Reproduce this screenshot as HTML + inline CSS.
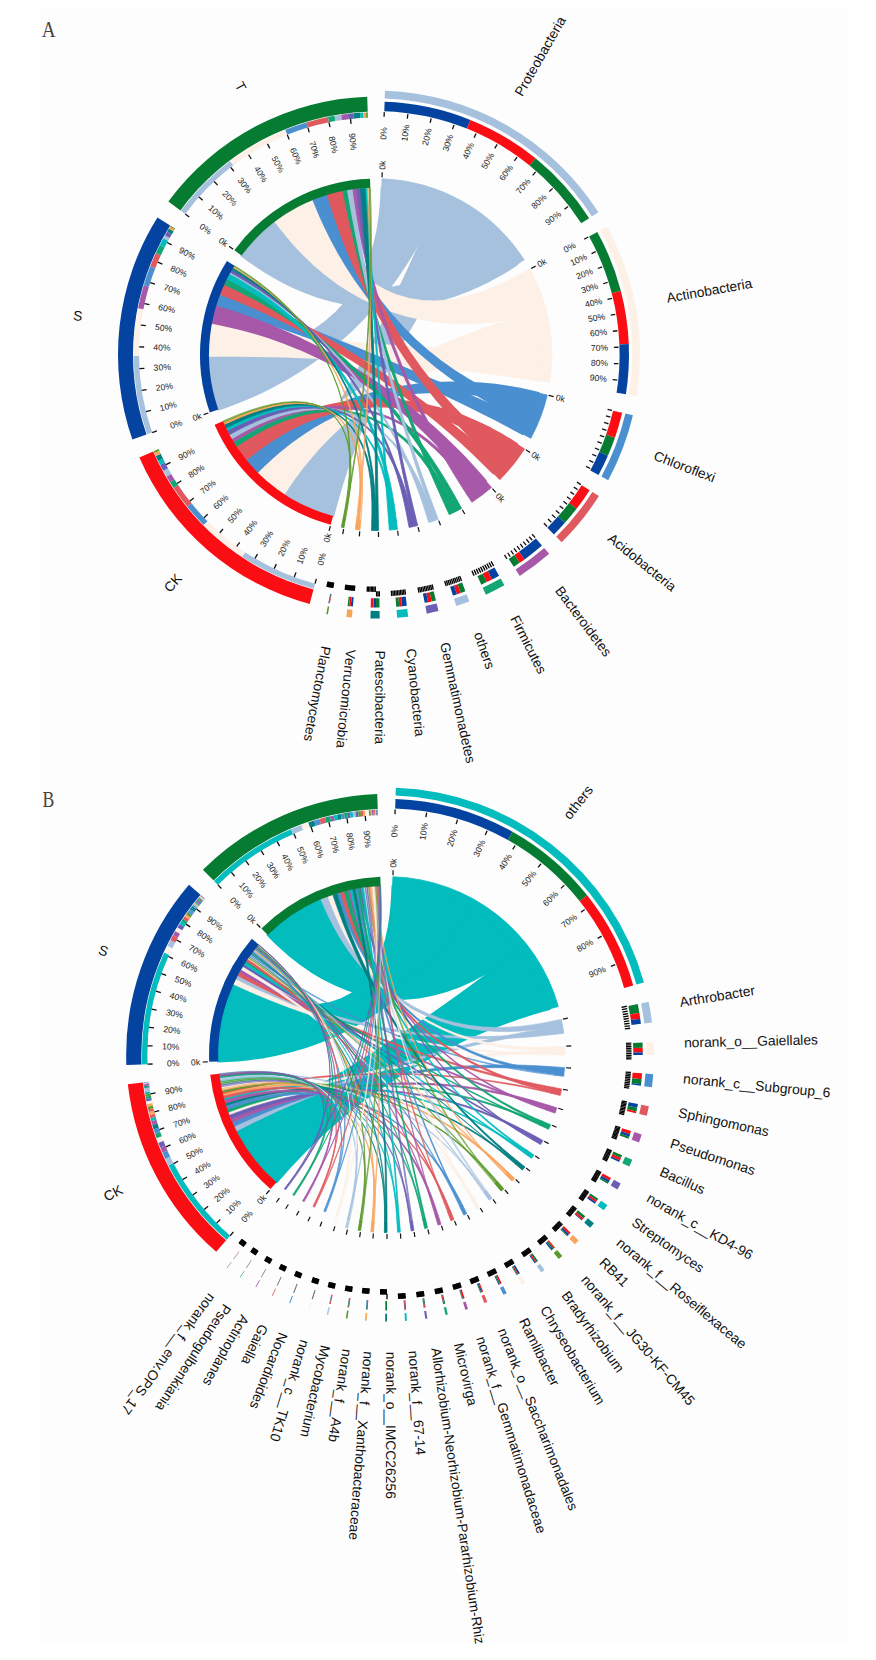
<!DOCTYPE html>
<html lang="en"><head><meta charset="utf-8"><title>Circos</title>
<style>html,body{margin:0;padding:0;background:#fff}svg{display:block}</style></head>
<body>
<svg width="876" height="1660" viewBox="0 0 876 1660" font-family='"Liberation Sans", sans-serif'>
<rect x="41" y="8" width="807" height="1635" fill="#fdfdfd"/>
<path d="M381.68 187.7 A167 167 0 0 1 438.32 199.66 L435.09 207.61 431 217.15 426 227.96 420.05 239.75 413.11 252.26 405.2 265.23 396.32 278.42 386.51 291.64 375.82 304.68 364.34 317.38 352.15 329.6 339.38 341.19 326.14 352.06 312.61 362.11 298.95 371.29 285.34 379.54 272.02 386.83 259.2 393.16 247.13 398.55 236.1 403.04 226.38 406.67 218.29 409.52 A167 167 0 0 1 209 355.64 L217.55 355.54 227.73 355.17 239.13 354.29 251.36 352.73 264.09 350.31 277 346.9 289.82 342.43 302.29 336.82 314.2 330.06 325.38 322.15 335.67 313.13 344.97 303.09 353.19 292.14 360.28 280.42 366.23 268.11 371.06 255.43 374.82 242.62 377.6 229.96 379.5 217.77 380.69 206.41 381.35 196.24 381.68 187.7Z" fill="#a6c1dd" stroke="#a6c1dd" stroke-width="2.2" stroke-linejoin="round"/>
<path d="M438.32 199.66 A167 167 0 0 1 481.33 225 L475.92 231.68 469.43 239.87 462.05 249.47 453.99 260.36 445.4 272.45 436.48 285.59 427.36 299.67 418.19 314.55 409.1 330.09 400.2 346.14 391.6 362.55 383.38 379.15 375.62 395.78 368.4 412.27 361.75 428.44 355.72 444.09 350.33 459.04 345.6 473.08 341.52 486.01 338.09 497.62 335.29 507.69 333.06 515.98 A167 167 0 0 1 283.74 493.8 L288.48 486.63 294.21 477.87 300.79 467.65 308.08 456.11 315.95 443.39 324.26 429.64 332.89 415 341.74 399.63 350.7 383.68 359.65 367.3 368.52 350.67 377.19 333.93 385.6 317.27 393.66 300.85 401.3 284.84 408.46 269.42 415.07 254.78 421.08 241.09 426.46 228.54 431.14 217.32 435.11 207.63 438.32 199.66Z" fill="#a6c1dd" stroke="#a6c1dd" stroke-width="2.2" stroke-linejoin="round"/>
<path d="M481.33 225 A167 167 0 0 1 516.69 264.63 L509.45 269.2 500.64 274.5 490.41 280.15 478.95 285.83 466.4 291.25 452.95 296.18 438.74 300.39 423.93 303.72 408.7 306.04 393.19 307.26 377.57 307.33 361.98 306.23 346.59 303.98 331.54 300.66 316.99 296.35 303.09 291.2 289.99 285.4 277.84 279.16 266.77 272.73 256.95 266.42 248.5 260.55 241.58 255.5 A167 167 0 0 1 275.5 221.22 L280.67 228.02 286.99 235.9 294.34 244.36 302.61 252.93 311.7 261.22 321.5 268.86 331.89 275.56 342.78 281.07 354.03 285.21 365.55 287.83 377.21 288.86 388.9 288.26 400.5 286.06 411.9 282.34 422.98 277.23 433.61 270.91 443.68 263.64 453.07 255.69 461.66 247.43 469.31 239.25 475.91 231.6 481.33 225Z" fill="#a6c1dd" stroke="#a6c1dd" stroke-width="2.2" stroke-linejoin="round"/>
<path d="M522.06 273.64 A167 167 0 0 1 537.64 312.62 L529.33 314.73 519.31 317.04 507.82 319.26 495.13 321.13 481.48 322.44 467.09 323 452.18 322.67 436.97 321.34 421.63 318.93 406.34 315.4 391.28 310.76 376.6 305.03 362.44 298.29 348.93 290.64 336.18 282.23 324.3 273.22 313.38 263.83 303.5 254.32 294.72 244.96 287.11 236.08 280.69 228.04 275.5 221.22 A167 167 0 0 1 313.5 199.74 L316.74 207.64 320.82 216.92 325.77 227.08 331.64 237.65 338.42 248.25 346.12 258.5 354.71 268.11 364.14 276.82 374.37 284.41 385.32 290.72 396.89 295.64 408.98 299.11 421.46 301.09 434.18 301.64 447 300.82 459.72 298.76 472.16 295.64 484.1 291.68 495.31 287.15 505.56 282.38 514.57 277.74 522.06 273.64Z" fill="#fdf0e6" stroke="#fdf0e6" stroke-width="2.2" stroke-linejoin="round"/>
<path d="M537.64 312.62 A167 167 0 0 1 542.85 347.61 L534.29 348 523.96 348.69 512.15 349.83 499.16 351.58 485.22 354.07 470.6 357.37 455.52 361.57 440.19 366.7 424.81 372.77 409.58 379.77 394.65 387.65 380.18 396.35 366.31 405.78 353.17 415.8 340.85 426.27 329.46 437.01 319.07 447.81 309.74 458.46 301.52 468.68 294.44 478.19 288.51 486.67 283.74 493.8 A167 167 0 0 1 257.2 471.97 L263.33 465.95 270.86 458.73 279.72 450.54 289.83 441.6 301.1 432.12 313.42 422.29 326.69 412.28 340.79 402.26 355.58 392.36 370.93 382.72 386.71 373.45 402.75 364.64 418.89 356.38 434.97 348.74 450.79 341.76 466.18 335.49 480.93 329.93 494.84 325.1 507.69 320.99 519.27 317.57 529.33 314.8 537.64 312.62Z" fill="#fdf0e6" stroke="#fdf0e6" stroke-width="2.2" stroke-linejoin="round"/>
<path d="M542.85 347.61 A167 167 0 0 1 540.94 380.72 L532.45 379.39 522.1 377.8 510.07 376.03 496.55 374.13 481.71 372.16 465.74 370.18 448.84 368.23 431.17 366.34 412.93 364.56 394.31 362.9 375.49 361.39 356.65 360.05 337.99 358.89 319.69 357.92 301.94 357.13 284.93 356.52 268.85 356.08 253.89 355.79 240.23 355.63 228.07 355.57 217.6 355.59 209 355.64 A167 167 0 0 1 212.07 322.72 L220.51 324.35 230.8 326.28 242.76 328.42 256.21 330.68 270.97 333 286.85 335.3 303.68 337.53 321.27 339.65 339.43 341.6 357.98 343.35 376.73 344.88 395.5 346.17 414.11 347.21 432.36 348 450.06 348.55 467.03 348.86 483.08 348.95 498.02 348.87 511.66 348.65 523.81 348.32 534.27 347.96 542.85 347.61Z" fill="#fdf0e6" stroke="#fdf0e6" stroke-width="2.2" stroke-linejoin="round"/>
<path d="M538.52 393.02 A167 167 0 0 1 533.72 409.49 L525.61 406.71 515.79 403.59 504.48 400.41 491.92 397.46 478.3 394.95 463.85 393.08 448.76 392.01 433.22 391.86 417.42 392.72 401.54 394.65 385.73 397.67 370.17 401.74 354.99 406.83 340.36 412.84 326.39 419.66 313.23 427.11 300.98 435.01 289.77 443.13 279.7 451.21 270.85 458.93 263.33 465.98 257.2 471.97 A167 167 0 0 1 246 459.43 L252.7 454.07 260.91 447.76 270.54 440.81 281.48 433.5 293.61 426.1 306.81 418.83 320.95 411.89 335.89 405.46 351.51 399.66 367.64 394.62 384.13 390.41 400.82 387.09 417.55 384.67 434.13 383.16 450.4 382.51 466.14 382.66 481.19 383.52 495.32 384.95 508.34 386.82 520.03 388.93 530.17 391.08 538.52 393.02Z" fill="#4a8fd0" stroke="#4a8fd0" stroke-width="2.2" stroke-linejoin="round"/>
<path d="M533.72 409.49 A167 167 0 0 1 529.07 421.37 L521.22 417.91 511.78 413.56 501.06 408.27 489.33 402.02 476.86 394.79 463.89 386.59 450.63 377.44 437.3 367.4 424.09 356.52 411.15 344.88 398.64 332.58 386.69 319.73 375.42 306.48 364.91 292.96 355.24 279.36 346.47 265.86 338.63 252.66 331.75 239.99 325.82 228.1 320.83 217.23 316.74 207.68 313.5 199.74 A167 167 0 0 1 327.99 194.65 L330.49 202.85 333.71 212.69 337.73 223.85 342.64 236.01 348.49 248.89 355.31 262.24 363.11 275.82 371.87 289.4 381.55 302.79 392.1 315.82 403.43 328.34 415.44 340.2 428 351.3 440.96 361.55 454.15 370.89 467.37 379.27 480.42 386.66 493.04 393.06 504.97 398.5 515.94 403 525.63 406.64 533.72 409.49Z" fill="#4a8fd0" stroke="#4a8fd0" stroke-width="2.2" stroke-linejoin="round"/>
<path d="M529.07 421.37 A167 167 0 0 1 522.9 434.03 L515.34 429.95 506.1 425.03 495.33 419.39 483.18 413.17 469.81 406.48 455.37 399.44 440.01 392.15 423.9 384.72 407.21 377.25 390.1 369.81 372.73 362.49 355.28 355.37 337.92 348.51 320.84 341.97 304.2 335.82 288.2 330.1 273.01 324.85 258.83 320.1 245.85 315.9 234.25 312.26 224.24 309.2 216.01 306.73 A167 167 0 0 1 220.48 293.75 L228.48 296.88 238.24 300.71 249.56 305.17 262.27 310.21 276.2 315.76 291.17 321.75 306.99 328.12 323.5 334.81 340.52 341.75 357.88 348.86 375.39 356.08 392.88 363.34 410.19 370.56 427.14 377.67 443.55 384.6 459.26 391.27 474.08 397.59 487.86 403.51 500.42 408.92 511.58 413.76 521.19 417.94 529.07 421.37Z" fill="#4a8fd0" stroke="#4a8fd0" stroke-width="2.2" stroke-linejoin="round"/>
<path d="M517 444.08 A167 167 0 0 1 508.38 456.4 L501.57 451.22 493.27 445.21 483.63 438.79 472.81 432.29 460.96 426.05 448.23 420.34 434.76 415.38 420.72 411.37 406.24 408.45 391.49 406.72 376.6 406.26 361.72 407.07 347 409.13 332.6 412.38 318.65 416.72 305.31 421.99 292.71 427.99 281 434.5 270.33 441.24 260.85 447.89 252.69 454.09 246 459.43 A167 167 0 0 1 236.53 446.45 L243.71 441.78 252.46 436.35 262.63 430.52 274.07 424.62 286.61 418.92 300.11 413.66 314.4 409.05 329.33 405.26 344.74 402.43 360.48 400.63 376.38 399.93 392.3 400.36 408.06 401.89 423.52 404.47 438.51 408.01 452.88 412.37 466.46 417.4 479.1 422.89 490.63 428.6 500.9 434.25 509.75 439.53 517 444.08Z" fill="#e0595f" stroke="#e0595f" stroke-width="2.2" stroke-linejoin="round"/>
<path d="M508.38 456.4 A167 167 0 0 1 500.71 465.67 L494.31 459.94 486.63 452.88 477.91 444.55 468.38 435.02 458.26 424.36 447.75 412.66 437.03 400.03 426.27 386.56 415.61 372.37 405.21 357.6 395.18 342.38 385.62 326.85 376.62 311.19 368.26 295.54 360.59 280.1 353.67 265.04 347.51 250.57 342.12 236.9 337.5 224.23 333.64 212.81 330.48 202.87 327.99 194.65 A167 167 0 0 1 342.89 190.92 L344.62 199.32 346.88 209.48 349.77 221.11 353.37 233.96 357.73 247.79 362.91 262.36 368.9 277.45 375.73 292.87 383.35 308.4 391.74 323.88 400.82 339.13 410.51 354 420.72 368.34 431.31 382.03 442.14 394.94 453.05 406.97 463.86 418.03 474.35 428.04 484.3 436.93 493.48 444.65 501.6 451.15 508.38 456.4Z" fill="#e0595f" stroke="#e0595f" stroke-width="2.2" stroke-linejoin="round"/>
<path d="M500.71 465.67 A167 167 0 0 1 493.47 473.3 L487.41 467.21 479.97 459.87 471.23 451.5 461.27 442.29 450.19 432.45 438.09 422.14 425.08 411.53 411.29 400.79 396.84 390.04 381.85 379.43 366.49 369.06 350.88 359.06 335.2 349.5 319.61 340.49 304.28 332.08 289.39 324.34 275.14 317.31 261.71 311.03 249.31 305.53 238.16 300.82 228.47 296.9 220.48 293.75 A167 167 0 0 1 224.37 284.63 L232.16 288.24 241.63 292.71 252.55 298 264.72 304.1 277.96 310.96 292.06 318.53 306.85 326.76 322.13 335.59 337.74 344.94 353.51 354.73 369.27 364.87 384.86 375.27 400.13 385.81 414.94 396.39 429.14 406.88 442.59 417.14 455.17 427.05 466.74 436.44 477.19 445.17 486.41 453.07 494.29 459.96 500.71 465.67Z" fill="#e0595f" stroke="#e0595f" stroke-width="2.2" stroke-linejoin="round"/>
<path d="M485.56 480.64 A167 167 0 0 1 474.07 489.77 L469 482.85 462.73 474.56 455.26 465.2 446.65 455.05 436.92 444.37 426.14 433.37 414.38 422.28 401.74 411.29 388.3 400.55 374.19 390.22 359.53 380.42 344.47 371.27 329.15 362.83 313.75 355.18 298.44 348.36 283.43 342.38 268.91 337.25 255.12 332.93 242.28 329.4 230.65 326.58 220.49 324.39 212.07 322.72 A167 167 0 0 1 216.01 306.73 L224.23 309.21 234.17 312.36 245.59 316.23 258.24 320.84 271.9 326.24 286.34 332.42 301.36 339.37 316.76 347.07 332.35 355.47 347.95 364.52 363.39 374.14 378.53 384.25 393.2 394.73 407.28 405.47 420.64 416.33 433.17 427.14 444.75 437.76 455.29 447.97 464.72 457.6 472.94 466.41 479.91 474.17 485.56 480.64Z" fill="#a758a8" stroke="#a758a8" stroke-width="2.2" stroke-linejoin="round"/>
<path d="M474.07 489.77 A167 167 0 0 1 470.83 492.06 L465.94 485.05 459.9 476.84 452.76 467.91 444.58 458.66 435.4 449.49 425.31 440.7 414.38 432.6 402.7 425.4 390.37 419.31 377.51 414.47 364.22 410.96 350.65 408.85 336.92 408.14 323.18 408.79 309.6 410.7 296.34 413.75 283.57 417.76 271.49 422.49 260.29 427.69 250.17 433.02 241.35 438.12 234.06 442.59 A167 167 0 0 1 231.69 438.65 L239.11 434.39 248.08 429.52 258.37 424.44 269.78 419.52 282.08 415.05 295.09 411.3 308.62 408.49 322.48 406.79 336.51 406.32 350.55 407.18 364.44 409.41 378.05 412.98 391.23 417.87 403.88 423.95 415.88 431.11 427.11 439.15 437.5 447.83 446.96 456.89 455.4 466 462.77 474.8 469.01 482.88 474.07 489.77Z" fill="#a758a8" stroke="#a758a8" stroke-width="0.8" stroke-linejoin="round"/>
<path d="M470.83 492.06 A167 167 0 0 1 466.95 494.66 L462.29 487.44 456.71 478.61 450.4 468.28 443.55 456.59 436.32 443.66 428.88 429.64 421.34 414.66 413.86 398.88 406.53 382.46 399.46 365.54 392.73 348.3 386.41 330.9 380.57 313.52 375.24 296.34 370.46 279.55 366.24 263.33 362.59 247.87 359.49 233.39 356.93 220.08 354.85 208.16 353.22 197.84 351.97 189.34 A167 167 0 0 1 356.54 188.74 L357.56 197.27 358.92 207.62 360.7 219.57 362.96 232.9 365.77 247.39 369.15 262.84 373.12 279.04 377.7 295.79 382.86 312.91 388.59 330.21 394.84 347.5 401.56 364.62 408.67 381.39 416.08 397.66 423.7 413.27 431.41 428.06 439.06 441.9 446.52 454.64 453.61 466.15 460.16 476.31 465.97 484.98 470.83 492.06Z" fill="#a758a8" stroke="#a758a8" stroke-width="0.8" stroke-linejoin="round"/>
<path d="M457.22 500.52 A167 167 0 0 1 452.59 503 L448.63 495.38 443.69 486.22 437.75 475.78 430.8 464.33 422.87 452.1 413.98 439.34 404.18 426.24 393.52 413.01 382.08 399.82 369.95 386.84 357.24 374.21 344.06 362.06 330.56 350.52 316.88 339.67 303.18 329.61 289.67 320.39 276.52 312.07 263.96 304.69 252.21 298.26 241.52 292.78 232.15 288.25 224.37 284.63 A167 167 0 0 1 227.02 279.13 L234.67 283.04 243.89 287.9 254.43 293.74 266.02 300.55 278.44 308.31 291.48 317 304.92 326.57 318.56 336.95 332.24 348.09 345.79 359.87 359.06 372.21 371.91 384.99 384.22 398.07 395.87 411.3 406.78 424.54 416.87 437.59 426.06 450.28 434.3 462.39 441.56 473.71 447.8 484.01 453.02 493.03 457.22 500.52Z" fill="#11a674" stroke="#11a674" stroke-width="0.8" stroke-linejoin="round"/>
<path d="M452.59 503 A167 167 0 0 1 449.08 504.76 L445.3 497.1 440.59 488.13 434.95 478.34 428.37 468.21 420.88 458.12 412.5 448.44 403.28 439.48 393.29 431.48 382.58 424.65 371.25 419.16 359.4 415.1 347.14 412.54 334.59 411.49 321.91 411.9 309.23 413.67 296.72 416.68 284.58 420.73 272.99 425.58 262.16 430.94 252.32 436.48 243.69 441.79 236.53 446.45 A167 167 0 0 1 234.06 442.59 L241.35 438.12 250.13 433.04 260.16 427.76 271.2 422.67 283.03 418.08 295.43 414.3 308.21 411.53 321.19 409.98 334.19 409.77 347.06 411 359.66 413.7 371.86 417.85 383.53 423.41 394.58 430.27 404.92 438.27 414.47 447.2 423.16 456.82 430.96 466.83 437.81 476.87 443.71 486.55 448.63 495.43 452.59 503Z" fill="#11a674" stroke="#11a674" stroke-width="0.8" stroke-linejoin="round"/>
<path d="M449.08 504.76 A167 167 0 0 1 445.52 506.44 L441.95 498.62 437.66 489.08 432.77 477.95 427.4 465.41 421.67 451.61 415.68 436.72 409.54 420.89 403.33 404.3 397.13 387.11 391.04 369.5 385.1 351.64 379.39 333.7 373.96 315.88 368.86 298.33 364.12 281.26 359.78 264.85 355.85 249.28 352.37 234.75 349.33 221.46 346.74 209.58 344.6 199.34 342.89 190.92 A167 167 0 0 1 347.42 190.06 L348.9 198.53 350.77 208.82 353.07 220.75 355.81 234.09 359 248.66 362.65 264.26 366.74 280.69 371.26 297.77 376.19 315.31 381.49 333.11 387.12 351.01 393.03 368.81 399.14 386.36 405.4 403.46 411.73 419.96 418.02 435.68 424.19 450.46 430.13 464.15 435.71 476.57 440.83 487.58 445.33 497.03 449.08 504.76Z" fill="#11a674" stroke="#11a674" stroke-width="0.8" stroke-linejoin="round"/>
<path d="M435.03 510.82 A167 167 0 0 1 431.65 512.06 L428.79 503.95 425.35 494.06 421.43 482.55 417.11 469.59 412.49 455.36 407.66 440.01 402.69 423.74 397.65 406.71 392.61 389.09 387.63 371.07 382.77 352.83 378.07 334.54 373.59 316.4 369.36 298.57 365.41 281.25 361.78 264.62 358.48 248.88 355.53 234.21 352.95 220.8 350.74 208.84 348.89 198.53 347.42 190.06 A167 167 0 0 1 351.97 189.34 L353.21 197.84 354.78 208.19 356.7 220.19 358.99 233.65 361.63 248.36 364.65 264.13 368.03 280.78 371.75 298.11 375.8 315.94 380.15 334.08 384.75 352.34 389.57 370.55 394.55 388.52 399.65 406.08 404.79 423.04 409.9 439.24 414.9 454.5 419.71 468.66 424.23 481.53 428.36 492.96 432 502.78 435.03 510.82Z" fill="#a6c1dd" stroke="#a6c1dd" stroke-width="0.8" stroke-linejoin="round"/>
<path d="M431.65 512.06 A167 167 0 0 1 428.96 512.98 L426.21 504.89 422.72 495.41 418.42 485.03 413.27 474.22 407.23 463.4 400.3 452.94 392.48 443.15 383.8 434.28 374.31 426.57 364.07 420.17 353.16 415.21 341.69 411.74 329.78 409.79 317.55 409.32 305.19 410.25 292.85 412.45 280.73 415.74 269.06 419.89 258.06 424.6 247.98 429.57 239.1 434.39 231.69 438.65 A167 167 0 0 1 229.44 434.65 L236.96 430.6 245.98 426.02 256.23 421.32 267.42 416.89 279.3 413.03 291.64 410.03 304.22 408.11 316.84 407.44 329.33 408.15 341.52 410.32 353.27 413.98 364.46 419.1 374.98 425.63 384.75 433.43 393.7 442.36 401.79 452.19 408.97 462.66 415.24 473.47 420.61 484.24 425.1 494.58 428.76 504.02 431.65 512.06Z" fill="#a6c1dd" stroke="#a6c1dd" stroke-width="0.8" stroke-linejoin="round"/>
<path d="M428.96 512.98 A167 167 0 0 1 426.08 513.91 L423.48 505.74 420.16 495.89 416.04 484.66 411.08 472.32 405.23 459.12 398.48 445.32 390.82 431.12 382.28 416.75 372.91 402.39 362.75 388.21 351.9 374.38 340.45 361.04 328.53 348.31 316.27 336.32 303.84 325.14 291.41 314.86 279.18 305.54 267.39 297.23 256.25 289.96 246.04 283.73 237.03 278.56 229.51 274.41 A167 167 0 0 1 230.63 272.41 L238.08 276.66 247.03 281.96 257.18 288.31 268.26 295.72 280.02 304.17 292.21 313.62 304.63 324.03 317.08 335.32 329.37 347.42 341.36 360.24 352.9 373.65 363.86 387.53 374.15 401.74 383.69 416.12 392.4 430.49 400.25 444.66 407.2 458.44 413.25 471.59 418.42 483.88 422.72 495.05 426.21 504.85 428.96 512.98Z" fill="#a6c1dd" stroke="#a6c1dd" stroke-width="0.8" stroke-linejoin="round"/>
<path d="M415.55 516.85 A167 167 0 0 1 412.48 517.57 L410.61 509.18 408.35 498.95 405.77 487.06 402.94 473.69 399.9 459.02 396.72 443.22 393.44 426.5 390.11 409.01 386.78 390.96 383.48 372.52 380.25 353.88 377.13 335.21 374.15 316.72 371.32 298.58 368.68 280.98 366.24 264.11 364.03 248.16 362.04 233.3 360.29 219.75 358.79 207.67 357.54 197.27 356.54 188.74 A167 167 0 0 1 360.35 188.33 L361.17 196.89 362.19 207.31 363.45 219.41 364.94 232.99 366.68 247.86 368.67 263.83 370.9 280.72 373.36 298.32 376.04 316.46 378.92 334.95 381.98 353.6 385.18 372.22 388.5 390.63 391.9 408.65 395.32 426.09 398.73 442.78 402.08 458.52 405.29 473.14 408.32 486.47 411.09 498.31 413.52 508.5 415.55 516.85Z" fill="#6a5fb5" stroke="#6a5fb5" stroke-width="0.8" stroke-linejoin="round"/>
<path d="M412.48 517.57 A167 167 0 0 1 409.88 518.13 L408.11 509.78 405.77 499.97 402.76 489.22 398.98 478 394.36 466.74 388.84 455.8 382.41 445.51 375.06 436.14 366.82 427.9 357.72 420.98 347.83 415.5 337.25 411.51 326.08 409.06 314.47 408.1 302.56 408.57 290.56 410.33 278.65 413.21 267.07 416.98 256.08 421.36 245.94 426.03 236.95 430.6 229.44 434.65 A167 167 0 0 1 227.29 430.6 L234.92 426.75 244.04 422.42 254.34 418.03 265.51 413.94 277.29 410.47 289.41 407.89 301.65 406.42 313.79 406.24 325.66 407.45 337.09 410.15 347.94 414.34 358.1 420.01 367.47 427.09 375.99 435.45 383.6 444.91 390.28 455.27 396.04 466.24 400.89 477.52 404.88 488.73 408.07 499.46 410.57 509.25 412.48 517.57Z" fill="#6a5fb5" stroke="#6a5fb5" stroke-width="0.8" stroke-linejoin="round"/>
<path d="M409.88 518.13 A167 167 0 0 1 407.44 518.61 L405.79 510.2 403.6 500.06 400.77 488.5 397.18 475.8 392.75 462.22 387.45 448.01 381.24 433.41 374.11 418.62 366.08 403.85 357.19 389.27 347.52 375.06 337.13 361.34 326.16 348.27 314.73 335.94 302.99 324.46 291.14 313.9 279.37 304.34 267.92 295.81 257.03 288.35 246.99 281.97 238.08 276.66 230.63 272.41 A167 167 0 0 1 232.15 269.77 L239.52 274.15 248.35 279.62 258.3 286.18 269.1 293.83 280.47 302.55 292.17 312.31 303.97 323.05 315.67 334.71 327.1 347.2 338.09 360.43 348.51 374.27 358.25 388.6 367.22 403.27 375.36 418.12 382.62 432.96 388.98 447.59 394.44 461.81 399.02 475.39 402.78 488.08 405.78 499.62 408.11 509.73 409.88 518.13Z" fill="#6a5fb5" stroke="#6a5fb5" stroke-width="0.8" stroke-linejoin="round"/>
<path d="M396.35 520.36 A167 167 0 0 1 392.9 520.74 L391.99 512.22 390.69 501.96 388.82 490.29 386.26 477.49 382.89 463.85 378.63 449.61 373.42 435.03 367.24 420.31 360.09 405.65 351.98 391.25 342.98 377.27 333.16 363.84 322.64 351.11 311.53 339.16 300.02 328.11 288.28 318.01 276.52 308.92 265 300.87 253.98 293.88 243.76 287.94 234.66 283.04 227.02 279.13 A167 167 0 0 1 229.51 274.41 L237.02 278.56 245.97 283.75 256.05 290 266.92 297.33 278.3 305.73 289.93 315.18 301.57 325.63 313.02 337.02 324.09 349.28 334.61 362.3 344.47 375.99 353.54 390.21 361.75 404.8 369.05 419.62 375.4 434.47 380.81 449.15 385.28 463.45 388.88 477.13 391.67 489.94 393.76 501.61 395.27 511.85 396.35 520.36Z" fill="#02bcbe" stroke="#02bcbe" stroke-width="0.8" stroke-linejoin="round"/>
<path d="M392.9 520.74 A167 167 0 0 1 390.82 520.94 L390.02 512.45 388.85 502.46 387.12 491.5 384.71 480.04 381.5 468.51 377.41 457.27 372.37 446.66 366.35 436.95 359.35 428.35 351.39 421.06 342.53 415.18 332.84 410.81 322.43 407.96 311.43 406.61 300 406.68 288.33 408.06 276.64 410.57 265.17 414 254.19 418.06 243.99 422.43 234.91 426.75 227.29 430.6 A167 167 0 0 1 225.93 427.86 L233.61 424.15 242.78 420 253.08 415.81 264.18 411.95 275.79 408.73 287.62 406.42 299.45 405.25 311.05 405.37 322.22 406.9 332.82 409.92 342.71 414.45 351.77 420.46 359.92 427.87 367.12 436.56 373.34 446.35 378.57 457.02 382.86 468.29 386.24 479.85 388.82 491.32 390.69 502.28 391.99 512.26 392.9 520.74Z" fill="#02bcbe" stroke="#02bcbe" stroke-width="0.8" stroke-linejoin="round"/>
<path d="M390.82 520.94 A167 167 0 0 1 388.67 521.12 L388.02 512.55 387.22 502.1 386.31 489.97 385.29 476.33 384.17 461.38 382.98 445.3 381.73 428.28 380.43 410.51 379.1 392.18 377.75 373.47 376.4 354.57 375.06 335.67 373.75 316.96 372.46 298.63 371.23 280.85 370.06 263.83 368.96 247.74 367.95 232.78 367.03 219.14 366.21 207 365.52 196.54 364.95 187.97 A167 167 0 0 1 367.25 187.83 L367.7 196.41 368.26 206.87 368.93 219.03 369.7 232.68 370.57 247.65 371.54 263.74 372.59 280.77 373.72 298.55 374.93 316.88 376.2 335.6 377.52 354.49 378.87 373.39 380.25 392.09 381.64 410.42 383.02 428.18 384.38 445.19 385.69 461.25 386.93 476.19 388.09 489.82 389.14 501.94 390.06 512.38 390.82 520.94Z" fill="#02bcbe" stroke="#02bcbe" stroke-width="0.8" stroke-linejoin="round"/>
<path d="M378.33 521.58 A167 167 0 0 1 375.71 521.6 L375.72 513.01 375.71 502.53 375.65 490.36 375.53 476.69 375.34 461.71 375.05 445.6 374.66 428.56 374.16 410.77 373.55 392.41 372.84 373.69 372.02 354.78 371.1 335.88 370.09 317.17 369 298.84 367.86 281.08 366.68 264.07 365.49 248 364.31 233.07 363.17 219.44 362.11 207.32 361.16 196.89 360.35 188.33 A167 167 0 0 1 364.95 187.97 L365.51 196.54 366.19 207 366.96 219.14 367.78 232.79 368.65 247.76 369.55 263.85 370.45 280.89 371.34 298.68 372.2 317.03 373.03 335.76 373.82 354.69 374.55 373.61 375.22 392.35 375.83 410.72 376.37 428.52 376.84 445.57 377.23 461.69 377.57 476.68 377.84 490.35 378.05 502.51 378.21 512.99 378.33 521.58Z" fill="#027f80" stroke="#027f80" stroke-width="0.8" stroke-linejoin="round"/>
<path d="M375.71 521.6 A167 167 0 0 1 373.87 521.59 L373.94 513.01 373.81 502.69 373.26 490.92 372.13 477.97 370.27 464.13 367.57 449.65 363.94 434.75 359.33 419.66 353.71 404.57 347.09 389.68 339.51 375.14 331.02 361.11 321.72 347.72 311.74 335.09 301.23 323.31 290.38 312.48 279.4 302.66 268.53 293.89 258.05 286.21 248.27 279.63 239.52 274.16 232.15 269.77 A167 167 0 0 1 233.33 267.8 L240.63 272.29 249.32 277.89 259.03 284.6 269.44 292.42 280.24 301.34 291.17 311.32 301.98 322.3 312.46 334.22 322.43 346.98 331.74 360.5 340.26 374.65 347.89 389.3 354.58 404.28 360.28 419.45 364.99 434.61 368.72 449.56 371.54 464.08 373.52 477.95 374.77 490.91 375.44 502.7 375.68 513.03 375.71 521.6Z" fill="#027f80" stroke="#027f80" stroke-width="0.8" stroke-linejoin="round"/>
<path d="M373.87 521.59 A167 167 0 0 1 371.77 521.55 L371.95 513.02 371.93 502.99 371.5 491.98 370.47 480.45 368.68 468.83 366.02 457.5 362.38 446.77 357.72 436.92 352 428.17 345.22 420.71 337.43 414.65 328.68 410.08 319.07 407.02 308.74 405.45 297.84 405.31 286.57 406.46 275.16 408.76 263.85 411.96 252.93 415.82 242.74 420 233.61 424.15 225.93 427.86 A167 167 0 0 1 224.29 424.4 L232.05 420.88 241.29 416.93 251.61 412.98 262.66 409.38 274.12 406.44 285.7 404.41 297.15 403.52 308.24 403.92 318.77 405.73 328.58 409.02 337.54 413.8 345.55 420.04 352.54 427.67 358.47 436.56 363.35 446.52 367.18 457.35 370.04 468.76 372.01 480.42 373.21 491.98 373.79 503.02 373.94 513.06 373.87 521.59Z" fill="#027f80" stroke="#027f80" stroke-width="0.8" stroke-linejoin="round"/>
<path d="M360.72 520.9 A167 167 0 0 1 359 520.73 L359.83 512.2 360.6 501.93 361.08 490.2 361.04 477.3 360.33 463.5 358.79 449.04 356.32 434.16 352.84 419.06 348.31 403.96 342.72 389.03 336.08 374.43 328.46 360.33 319.94 346.85 310.64 334.12 300.71 322.23 290.34 311.27 279.74 301.31 269.17 292.41 258.91 284.59 249.28 277.88 240.63 272.29 233.33 267.8 A167 167 0 0 1 234.13 266.5 L241.39 271.06 250 276.73 259.58 283.53 269.8 291.44 280.33 300.45 290.9 310.51 301.25 321.57 311.18 333.56 320.49 346.39 329.04 359.96 336.71 374.15 343.41 388.82 349.08 403.83 353.69 419 357.27 434.15 359.85 449.08 361.51 463.58 362.34 477.41 362.49 490.33 362.13 502.07 361.46 512.36 360.72 520.9Z" fill="#f9a45c" stroke="#f9a45c" stroke-width="0.8" stroke-linejoin="round" fill-opacity="0.4"/>
<path d="M359 520.73 A167 167 0 0 1 357.63 520.59 L358.53 512.11 359.36 502.13 359.89 491.16 359.87 479.68 359.14 468.08 357.52 456.75 354.92 446.01 351.24 436.11 346.45 427.3 340.52 419.73 333.48 413.55 325.39 408.82 316.34 405.58 306.46 403.81 295.91 403.44 284.89 404.36 273.63 406.41 262.4 409.36 251.49 412.98 241.25 416.93 232.05 420.88 224.29 424.4 A167 167 0 0 1 223.34 422.31 L231.15 418.89 240.42 415.07 250.73 411.26 261.72 407.8 273.04 405.01 284.4 403.13 295.53 402.37 306.19 402.9 316.19 404.82 325.37 408.2 333.59 413.06 340.76 419.37 346.82 427.04 351.75 435.95 355.56 445.92 358.29 456.74 360.03 468.12 360.88 479.75 361.01 491.27 360.58 502.26 359.83 512.25 359 520.73Z" fill="#f9a45c" stroke="#f9a45c" stroke-width="0.8" stroke-linejoin="round"/>
<path d="M357.63 520.59 A167 167 0 0 1 356.43 520.45 L357.43 511.91 358.6 501.51 359.89 489.42 361.24 475.83 362.6 460.92 363.93 444.89 365.18 427.92 366.33 410.2 367.35 391.91 368.22 373.23 368.92 354.37 369.44 335.5 369.79 316.81 369.97 298.49 369.97 280.73 369.82 263.71 369.54 247.63 369.15 232.67 368.69 219.02 368.19 206.87 367.69 196.41 367.25 187.83 A167 167 0 0 1 369.09 187.74 L369.44 196.33 369.83 206.8 370.21 218.95 370.55 232.61 370.81 247.58 370.98 263.67 371.02 280.7 370.92 298.47 370.66 316.8 370.25 335.5 369.68 354.38 368.95 373.26 368.08 391.94 367.07 410.25 365.94 427.99 364.73 444.97 363.46 461.01 362.17 475.93 360.89 489.53 359.67 501.63 358.57 512.04 357.63 520.59Z" fill="#f9a45c" stroke="#f9a45c" stroke-width="0.8" stroke-linejoin="round" fill-opacity="0.4"/>
<path d="M345.57 518.8 A167 167 0 0 1 344.59 518.62 L346.16 510.24 347.79 500.38 349.2 489.54 350.12 478.18 350.36 466.7 349.73 455.48 348.09 444.83 345.34 435.01 341.41 426.25 336.29 418.71 329.98 412.53 322.54 407.79 314.04 404.5 304.62 402.66 294.43 402.21 283.68 403.02 272.61 404.94 261.49 407.77 250.63 411.25 240.39 415.07 231.15 418.89 223.34 422.31 A167 167 0 0 1 222.85 421.19 L230.68 417.83 239.95 414.08 250.23 410.33 261.13 406.94 272.31 404.2 283.44 402.36 294.25 401.64 304.5 402.19 314 404.11 322.58 407.47 330.1 412.3 336.5 418.55 341.71 426.15 345.72 434.97 348.55 444.84 350.28 455.53 351 466.79 350.84 478.29 349.99 489.68 348.65 500.54 347.08 510.42 345.57 518.8Z" fill="#5b9a2a" stroke="#5b9a2a" stroke-width="0.8" stroke-linejoin="round" fill-opacity="0.4"/>
<path d="M344.59 518.62 A167 167 0 0 1 343.81 518.47 L345.46 510.03 347.41 499.75 349.57 487.79 351.85 474.35 354.19 459.59 356.52 443.71 358.78 426.89 360.92 409.31 362.89 391.15 364.67 372.6 366.23 353.85 367.54 335.08 368.6 316.48 369.41 298.24 369.97 280.53 370.29 263.56 370.4 247.51 370.33 232.58 370.11 218.94 369.8 206.79 369.43 196.33 369.09 187.74 A167 167 0 0 1 370.32 187.7 L370.6 196.29 370.89 206.75 371.12 218.9 371.26 232.54 371.25 247.49 371.06 263.54 370.66 280.52 370.04 298.23 369.18 316.49 368.07 335.1 366.73 353.88 365.15 372.64 363.37 391.2 361.4 409.37 359.28 426.96 357.05 443.8 354.75 459.69 352.45 474.46 350.21 487.92 348.1 499.88 346.2 510.18 344.59 518.62Z" fill="#5b9a2a" stroke="#5b9a2a" stroke-width="0.8" stroke-linejoin="round" fill-opacity="0.4"/>
<path d="M343.81 518.47 A167 167 0 0 1 343.13 518.33 L344.78 509.93 346.52 499.8 348.07 488.23 349.21 475.49 349.7 461.85 349.4 447.55 348.15 432.82 345.87 417.85 342.48 402.86 337.96 388.03 332.32 373.51 325.59 359.46 317.87 346.01 309.26 333.28 299.91 321.37 290.02 310.38 279.8 300.37 269.52 291.4 259.46 283.51 249.96 276.72 241.38 271.06 234.13 266.5 A167 167 0 0 1 234.53 265.86 L241.76 270.44 250.32 276.15 259.8 282.98 269.83 290.92 280.09 299.94 290.29 310 300.17 321.05 309.51 333.01 318.12 345.79 325.85 359.28 332.59 373.38 338.25 387.94 342.79 402.82 346.21 417.84 348.54 432.84 349.82 447.6 350.17 461.93 349.72 475.58 348.63 488.33 347.12 499.91 345.42 510.06 343.81 518.47Z" fill="#5b9a2a" stroke="#5b9a2a" stroke-width="0.8" stroke-linejoin="round" fill-opacity="0.4"/>
<path d="M330.74 524.68 A176 176 0 0 1 214.6 424.78 L222.85 421.19 A167 167 0 0 0 333.06 515.98Z" fill="#fb0d14"/>
<path d="M209.79 412.48 A176 176 0 0 1 226.91 261.07 L234.53 265.86 A167 167 0 0 0 218.29 409.52Z" fill="#0443a0"/>
<path d="M234.34 250.16 A176 176 0 0 1 370.01 178.7 L370.32 187.7 A167 167 0 0 0 241.58 255.5Z" fill="#067c33"/>
<path d="M381.99 178.7 A176 176 0 0 1 524.27 259.78 L516.27 264.89 A166.5 166.5 0 0 0 381.67 188.2Z" fill="#a6c1dd" stroke="#a6c1dd" stroke-width="0.8"/>
<path d="M529.93 269.27 A176 176 0 0 1 549.83 382.13 L540.45 380.65 A166.5 166.5 0 0 0 521.62 273.88Z" fill="#fdf0e6" stroke="#fdf0e6" stroke-width="0.8"/>
<path d="M547.28 395.09 A176 176 0 0 1 530.82 438.31 L522.46 433.79 A166.5 166.5 0 0 0 538.03 392.9Z" fill="#4a8fd0" stroke="#4a8fd0" stroke-width="0.8"/>
<path d="M524.6 448.91 A176 176 0 0 1 499.8 479.7 L493.12 472.95 A166.5 166.5 0 0 0 516.58 443.82Z" fill="#e0595f" stroke="#e0595f" stroke-width="0.8"/>
<path d="M491.47 487.43 A176 176 0 0 1 471.86 502.21 L466.68 494.24 A166.5 166.5 0 0 0 485.23 480.26Z" fill="#a758a8" stroke="#a758a8" stroke-width="0.8"/>
<path d="M461.6 508.38 A176 176 0 0 1 449.27 514.63 L445.31 505.99 A166.5 166.5 0 0 0 456.97 500.08Z" fill="#11a674" stroke="#11a674" stroke-width="0.8"/>
<path d="M438.21 519.24 A176 176 0 0 1 428.78 522.5 L425.93 513.44 A166.5 166.5 0 0 0 434.85 510.35Z" fill="#a6c1dd" stroke="#a6c1dd" stroke-width="0.8"/>
<path d="M417.68 525.59 A176 176 0 0 1 409.13 527.45 L407.34 518.12 A166.5 166.5 0 0 0 415.43 516.36Z" fill="#6a5fb5" stroke="#6a5fb5" stroke-width="0.8"/>
<path d="M397.45 529.29 A176 176 0 0 1 389.35 530.09 L388.63 520.62 A166.5 166.5 0 0 0 396.29 519.86Z" fill="#02bcbe" stroke="#02bcbe" stroke-width="0.8"/>
<path d="M378.46 530.58 A176 176 0 0 1 371.55 530.54 L371.79 521.05 A166.5 166.5 0 0 0 378.32 521.08Z" fill="#027f80" stroke="#027f80" stroke-width="0.8"/>
<path d="M359.9 529.86 A176 176 0 0 1 355.37 529.39 L356.48 519.95 A166.5 166.5 0 0 0 360.76 520.4Z" fill="#f9a45c" stroke="#f9a45c" stroke-width="0.8"/>
<path d="M343.93 527.65 A176 176 0 0 1 341.36 527.16 L343.23 517.84 A166.5 166.5 0 0 0 345.66 518.31Z" fill="#5b9a2a" stroke="#5b9a2a" stroke-width="0.8"/>
<line x1="330.36" y1="526.13" x2="329.07" y2="530.96" stroke="#111" stroke-width="1.2"/>
<text transform="translate(328.43 533.38) rotate(284.9)" font-size="8.6" text-anchor="end" dy="0.35em" fill="#222">0k</text>
<line x1="208.37" y1="412.97" x2="203.65" y2="414.62" stroke="#111" stroke-width="1.2"/>
<text transform="translate(201.29 415.44) rotate(340.8)" font-size="8.6" text-anchor="end" dy="0.35em" fill="#222">0k</text>
<line x1="233.13" y1="249.27" x2="229.11" y2="246.3" stroke="#111" stroke-width="1.2"/>
<text transform="translate(227.09 244.82) rotate(396.4)" font-size="8.6" text-anchor="end" dy="0.35em" fill="#222">0k</text>
<line x1="382.04" y1="177.2" x2="382.21" y2="172.21" stroke="#111" stroke-width="1.2"/>
<text transform="translate(382.3 169.71) rotate(-88.05)" font-size="8.6" text-anchor="start" dy="0.35em" fill="#222">0k</text>
<line x1="531.24" y1="268.55" x2="535.62" y2="266.12" stroke="#111" stroke-width="1.2"/>
<text transform="translate(537.8 264.91) rotate(-29)" font-size="8.6" text-anchor="start" dy="0.35em" fill="#222">0k</text>
<line x1="548.74" y1="395.43" x2="553.61" y2="396.58" stroke="#111" stroke-width="1.2"/>
<text transform="translate(556.04 397.16) rotate(13.3)" font-size="8.6" text-anchor="start" dy="0.35em" fill="#222">0k</text>
<line x1="525.87" y1="449.71" x2="530.09" y2="452.39" stroke="#111" stroke-width="1.2"/>
<text transform="translate(532.2 453.73) rotate(32.4)" font-size="8.6" text-anchor="start" dy="0.35em" fill="#222">0k</text>
<line x1="492.45" y1="488.56" x2="495.73" y2="492.33" stroke="#111" stroke-width="1.2"/>
<text transform="translate(497.37 494.22) rotate(49)" font-size="8.6" text-anchor="start" dy="0.35em" fill="#222">0k</text>
<line x1="462.32" y1="509.69" x2="464.76" y2="514.06" stroke="#111" stroke-width="1.2"/>
<line x1="438.74" y1="520.64" x2="440.51" y2="525.32" stroke="#111" stroke-width="1.2"/>
<line x1="418.04" y1="527.05" x2="419.22" y2="531.91" stroke="#111" stroke-width="1.2"/>
<line x1="397.63" y1="530.78" x2="398.24" y2="535.74" stroke="#111" stroke-width="1.2"/>
<line x1="378.48" y1="532.08" x2="378.55" y2="537.08" stroke="#111" stroke-width="1.2"/>
<line x1="359.76" y1="531.36" x2="359.3" y2="536.33" stroke="#111" stroke-width="1.2"/>
<line x1="343.65" y1="529.13" x2="342.74" y2="534.04" stroke="#111" stroke-width="1.2"/>
<path d="M309.66 603.93 A258 258 0 0 1 139.4 457.48 L153.15 451.5 A243 243 0 0 0 313.52 589.43Z" fill="#fb0d14"/>
<path d="M313.67 588.85 A242.4 242.4 0 0 1 242.09 556.65 L245.07 552.15 A237 237 0 0 0 315.06 583.63Z" fill="#a6c1dd"/>
<path d="M242.09 556.65 A242.4 242.4 0 0 1 203.57 524.97 L207.41 521.17 A237 237 0 0 0 245.07 552.15Z" fill="#fdf0e6"/>
<path d="M203.57 524.97 A242.4 242.4 0 0 1 187.3 506.75 L191.51 503.36 A237 237 0 0 0 207.41 521.17Z" fill="#4a8fd0"/>
<path d="M187.3 506.75 A242.4 242.4 0 0 1 173.56 487.93 L178.07 484.96 A237 237 0 0 0 191.51 503.36Z" fill="#e0595f"/>
<path d="M173.56 487.93 A242.4 242.4 0 0 1 169.97 482.31 L174.56 479.47 A237 237 0 0 0 178.07 484.96Z" fill="#11a674"/>
<path d="M169.97 482.31 A242.4 242.4 0 0 1 166.54 476.6 L171.21 473.88 A237 237 0 0 0 174.56 479.47Z" fill="#a758a8"/>
<path d="M166.54 476.6 A242.4 242.4 0 0 1 163.27 470.8 L168.01 468.21 A237 237 0 0 0 171.21 473.88Z" fill="#a6c1dd"/>
<path d="M163.27 470.8 A242.4 242.4 0 0 1 160.15 464.91 L164.96 462.45 A237 237 0 0 0 168.01 468.21Z" fill="#6a5fb5"/>
<path d="M160.15 464.91 A242.4 242.4 0 0 1 158.17 460.94 L163.02 458.57 A237 237 0 0 0 164.96 462.45Z" fill="#02bcbe"/>
<path d="M158.17 460.94 A242.4 242.4 0 0 1 155.79 455.92 L160.7 453.66 A237 237 0 0 0 163.02 458.57Z" fill="#027f80"/>
<path d="M155.79 455.92 A242.4 242.4 0 0 1 154.42 452.88 L159.36 450.69 A237 237 0 0 0 160.7 453.66Z" fill="#f9a45c"/>
<path d="M154.42 452.88 A242.4 242.4 0 0 1 153.7 451.26 L158.66 449.1 A237 237 0 0 0 159.36 450.69Z" fill="#5b9a2a"/>
<line x1="316.35" y1="578.8" x2="315.06" y2="583.63" stroke="#111" stroke-width="1.3"/>
<text transform="translate(323.16 553.19) rotate(284.9)" font-size="8.6" text-anchor="end" dy="0.35em" fill="#222">0%</text>
<line x1="296" y1="572.37" x2="294.28" y2="577.07" stroke="#111" stroke-width="1.3"/>
<text transform="translate(305.14 547.5) rotate(290.17)" font-size="8.6" text-anchor="end" dy="0.35em" fill="#222">10%</text>
<line x1="276.34" y1="564.1" x2="274.19" y2="568.62" stroke="#111" stroke-width="1.3"/>
<text transform="translate(287.72 540.17) rotate(295.44)" font-size="8.6" text-anchor="end" dy="0.35em" fill="#222">20%</text>
<line x1="257.52" y1="554.07" x2="254.97" y2="558.36" stroke="#111" stroke-width="1.3"/>
<text transform="translate(271.05 531.28) rotate(300.71)" font-size="8.6" text-anchor="end" dy="0.35em" fill="#222">30%</text>
<line x1="239.7" y1="542.34" x2="236.76" y2="546.39" stroke="#111" stroke-width="1.3"/>
<text transform="translate(255.27 520.9) rotate(305.98)" font-size="8.6" text-anchor="end" dy="0.35em" fill="#222">40%</text>
<line x1="223.03" y1="529.03" x2="219.74" y2="532.79" stroke="#111" stroke-width="1.3"/>
<text transform="translate(240.5 509.1) rotate(311.25)" font-size="8.6" text-anchor="end" dy="0.35em" fill="#222">50%</text>
<line x1="207.66" y1="514.24" x2="204.03" y2="517.68" stroke="#111" stroke-width="1.3"/>
<text transform="translate(226.89 496) rotate(316.52)" font-size="8.6" text-anchor="end" dy="0.35em" fill="#222">60%</text>
<line x1="193.71" y1="498.1" x2="189.78" y2="501.2" stroke="#111" stroke-width="1.3"/>
<text transform="translate(214.53 481.71) rotate(321.79)" font-size="8.6" text-anchor="end" dy="0.35em" fill="#222">70%</text>
<line x1="181.3" y1="480.75" x2="177.1" y2="483.47" stroke="#111" stroke-width="1.3"/>
<text transform="translate(203.54 466.34) rotate(327.06)" font-size="8.6" text-anchor="end" dy="0.35em" fill="#222">80%</text>
<line x1="170.53" y1="462.34" x2="166.1" y2="464.66" stroke="#111" stroke-width="1.3"/>
<text transform="translate(194 450.03) rotate(332.33)" font-size="8.6" text-anchor="end" dy="0.35em" fill="#222">90%</text>
<text transform="translate(182.98 579.01) rotate(310.7)" font-size="13.7" text-anchor="end" dy="-0.03em" fill="#111">CK</text>
<path d="M132.35 439.45 A258 258 0 0 1 157.44 217.5 L170.15 225.47 A243 243 0 0 0 146.52 434.51Z" fill="#0443a0"/>
<path d="M147.08 434.32 A242.4 242.4 0 0 1 133.6 356.1 L139 356.07 A237 237 0 0 0 152.18 432.54Z" fill="#a6c1dd"/>
<path d="M133.6 356.1 A242.4 242.4 0 0 1 138.06 308.33 L143.36 309.36 A237 237 0 0 0 139 356.07Z" fill="#fdf0e6"/>
<path d="M138.06 308.33 A242.4 242.4 0 0 1 143.77 285.12 L148.95 286.66 A237 237 0 0 0 143.36 309.36Z" fill="#a758a8"/>
<path d="M143.77 285.12 A242.4 242.4 0 0 1 150.26 266.28 L155.29 268.24 A237 237 0 0 0 148.95 286.66Z" fill="#4a8fd0"/>
<path d="M150.26 266.28 A242.4 242.4 0 0 1 155.9 253.03 L160.81 255.3 A237 237 0 0 0 155.29 268.24Z" fill="#e0595f"/>
<path d="M155.9 253.03 A242.4 242.4 0 0 1 159.76 245.06 L164.58 247.5 A237 237 0 0 0 160.81 255.3Z" fill="#11a674"/>
<path d="M159.76 245.06 A242.4 242.4 0 0 1 163.37 238.2 L168.11 240.8 A237 237 0 0 0 164.58 247.5Z" fill="#02bcbe"/>
<path d="M163.37 238.2 A242.4 242.4 0 0 1 164.99 235.3 L169.69 237.96 A237 237 0 0 0 168.11 240.8Z" fill="#a6c1dd"/>
<path d="M164.99 235.3 A242.4 242.4 0 0 1 167.2 231.46 L171.86 234.21 A237 237 0 0 0 169.69 237.96Z" fill="#6a5fb5"/>
<path d="M167.2 231.46 A242.4 242.4 0 0 1 168.91 228.62 L173.53 231.42 A237 237 0 0 0 171.86 234.21Z" fill="#027f80"/>
<path d="M168.91 228.62 A242.4 242.4 0 0 1 170.07 226.73 L174.66 229.58 A237 237 0 0 0 173.53 231.42Z" fill="#f9a45c"/>
<path d="M170.07 226.73 A242.4 242.4 0 0 1 170.66 225.79 L175.23 228.66 A237 237 0 0 0 174.66 229.58Z" fill="#5b9a2a"/>
<line x1="156.9" y1="430.9" x2="152.18" y2="432.54" stroke="#111" stroke-width="1.3"/>
<text transform="translate(181.93 422.18) rotate(340.8)" font-size="8.6" text-anchor="end" dy="0.35em" fill="#222">0%</text>
<line x1="150.82" y1="410.45" x2="145.97" y2="411.65" stroke="#111" stroke-width="1.3"/>
<text transform="translate(176.54 404.07) rotate(346.07)" font-size="8.6" text-anchor="end" dy="0.35em" fill="#222">10%</text>
<line x1="146.64" y1="389.53" x2="141.7" y2="390.29" stroke="#111" stroke-width="1.3"/>
<text transform="translate(172.84 385.54) rotate(351.34)" font-size="8.6" text-anchor="end" dy="0.35em" fill="#222">20%</text>
<line x1="144.41" y1="368.32" x2="139.41" y2="368.61" stroke="#111" stroke-width="1.3"/>
<text transform="translate(170.86 366.75) rotate(356.61)" font-size="8.6" text-anchor="end" dy="0.35em" fill="#222">30%</text>
<line x1="144.12" y1="346.99" x2="139.13" y2="346.82" stroke="#111" stroke-width="1.3"/>
<text transform="translate(170.61 347.86) rotate(361.88)" font-size="8.6" text-anchor="end" dy="0.35em" fill="#222">40%</text>
<line x1="145.8" y1="325.72" x2="140.84" y2="325.1" stroke="#111" stroke-width="1.3"/>
<text transform="translate(172.1 329.02) rotate(367.15)" font-size="8.6" text-anchor="end" dy="0.35em" fill="#222">50%</text>
<line x1="149.43" y1="304.7" x2="144.55" y2="303.63" stroke="#111" stroke-width="1.3"/>
<text transform="translate(175.31 310.4) rotate(372.42)" font-size="8.6" text-anchor="end" dy="0.35em" fill="#222">60%</text>
<line x1="154.97" y1="284.1" x2="150.21" y2="282.58" stroke="#111" stroke-width="1.3"/>
<text transform="translate(180.22 292.16) rotate(377.69)" font-size="8.6" text-anchor="end" dy="0.35em" fill="#222">70%</text>
<line x1="162.38" y1="264.1" x2="157.78" y2="262.15" stroke="#111" stroke-width="1.3"/>
<text transform="translate(186.78 274.44) rotate(382.96)" font-size="8.6" text-anchor="end" dy="0.35em" fill="#222">80%</text>
<line x1="171.6" y1="244.86" x2="167.19" y2="242.5" stroke="#111" stroke-width="1.3"/>
<text transform="translate(194.94 257.4) rotate(388.23)" font-size="8.6" text-anchor="end" dy="0.35em" fill="#222">90%</text>
<text transform="translate(81.87 321.35) rotate(366.45)" font-size="13.7" text-anchor="end" dy="-0.03em" fill="#111">S</text>
<path d="M168.34 201.5 A258 258 0 0 1 367.22 96.75 L367.73 111.74 A243 243 0 0 0 180.41 210.4Z" fill="#067c33"/>
<path d="M180.89 210.76 A242.4 242.4 0 0 1 230.13 161.01 L233.38 165.32 A237 237 0 0 0 185.24 213.96Z" fill="#a6c1dd"/>
<path d="M230.13 161.01 A242.4 242.4 0 0 1 285.28 129.82 L287.3 134.82 A237 237 0 0 0 233.38 165.32Z" fill="#fdf0e6"/>
<path d="M285.28 129.82 A242.4 242.4 0 0 1 306.31 122.43 L307.87 127.6 A237 237 0 0 0 287.3 134.82Z" fill="#4a8fd0"/>
<path d="M306.31 122.43 A242.4 242.4 0 0 1 327.94 117.01 L329.01 122.31 A237 237 0 0 0 307.87 127.6Z" fill="#e0595f"/>
<path d="M327.94 117.01 A242.4 242.4 0 0 1 334.51 115.78 L335.43 121.1 A237 237 0 0 0 329.01 122.31Z" fill="#11a674"/>
<path d="M334.51 115.78 A242.4 242.4 0 0 1 341.11 114.72 L341.89 120.07 A237 237 0 0 0 335.43 121.1Z" fill="#a6c1dd"/>
<path d="M341.11 114.72 A242.4 242.4 0 0 1 347.75 113.85 L348.38 119.22 A237 237 0 0 0 341.89 120.07Z" fill="#a758a8"/>
<path d="M347.75 113.85 A242.4 242.4 0 0 1 353.29 113.27 L353.8 118.64 A237 237 0 0 0 348.38 119.22Z" fill="#6a5fb5"/>
<path d="M353.29 113.27 A242.4 242.4 0 0 1 359.96 112.73 L360.32 118.12 A237 237 0 0 0 353.8 118.64Z" fill="#027f80"/>
<path d="M359.96 112.73 A242.4 242.4 0 0 1 363.3 112.53 L363.58 117.93 A237 237 0 0 0 360.32 118.12Z" fill="#02bcbe"/>
<path d="M363.3 112.53 A242.4 242.4 0 0 1 365.97 112.41 L366.19 117.8 A237 237 0 0 0 363.58 117.93Z" fill="#f9a45c"/>
<path d="M365.97 112.41 A242.4 242.4 0 0 1 367.75 112.34 L367.94 117.74 A237 237 0 0 0 366.19 117.8Z" fill="#5b9a2a"/>
<line x1="189.26" y1="216.93" x2="185.24" y2="213.96" stroke="#111" stroke-width="1.3"/>
<text transform="translate(210.59 232.65) rotate(396.4)" font-size="8.6" text-anchor="end" dy="0.35em" fill="#222">0%</text>
<line x1="202.7" y1="200.36" x2="198.96" y2="197.03" stroke="#111" stroke-width="1.3"/>
<text transform="translate(222.49 217.98) rotate(401.67)" font-size="8.6" text-anchor="end" dy="0.35em" fill="#222">10%</text>
<line x1="217.6" y1="185.09" x2="214.18" y2="181.44" stroke="#111" stroke-width="1.3"/>
<text transform="translate(235.69 204.45) rotate(406.94)" font-size="8.6" text-anchor="end" dy="0.35em" fill="#222">20%</text>
<line x1="233.84" y1="171.26" x2="230.77" y2="167.31" stroke="#111" stroke-width="1.3"/>
<text transform="translate(250.08 192.2) rotate(412.21)" font-size="8.6" text-anchor="end" dy="0.35em" fill="#222">30%</text>
<line x1="251.28" y1="158.98" x2="248.59" y2="154.76" stroke="#111" stroke-width="1.3"/>
<text transform="translate(265.52 181.32) rotate(417.48)" font-size="8.6" text-anchor="end" dy="0.35em" fill="#222">40%</text>
<line x1="269.77" y1="148.35" x2="267.48" y2="143.9" stroke="#111" stroke-width="1.3"/>
<text transform="translate(281.91 171.91) rotate(422.75)" font-size="8.6" text-anchor="end" dy="0.35em" fill="#222">50%</text>
<line x1="289.17" y1="139.46" x2="287.29" y2="134.83" stroke="#111" stroke-width="1.3"/>
<text transform="translate(299.08 164.04) rotate(428.02)" font-size="8.6" text-anchor="end" dy="0.35em" fill="#222">60%</text>
<line x1="309.29" y1="132.4" x2="307.86" y2="127.61" stroke="#111" stroke-width="1.3"/>
<text transform="translate(316.91 157.78) rotate(433.29)" font-size="8.6" text-anchor="end" dy="0.35em" fill="#222">70%</text>
<line x1="329.98" y1="127.21" x2="328.99" y2="122.31" stroke="#111" stroke-width="1.3"/>
<text transform="translate(335.24 153.18) rotate(438.56)" font-size="8.6" text-anchor="end" dy="0.35em" fill="#222">80%</text>
<line x1="351.06" y1="123.94" x2="350.53" y2="118.97" stroke="#111" stroke-width="1.3"/>
<text transform="translate(353.91 150.29) rotate(443.83)" font-size="8.6" text-anchor="end" dy="0.35em" fill="#222">90%</text>
<text transform="translate(238.06 92.7) rotate(422.23)" font-size="13.7" text-anchor="end" dy="-0.03em" fill="#111">T</text>
<path d="M384.98 90.75 A264 264 0 0 1 598.41 212.36 L591.92 216.51 A256.3 256.3 0 0 0 384.72 98.45Z" fill="#a6c1dd"/>
<path d="M384.61 101.75 A253 253 0 0 1 470.42 119.88 L466.91 128.6 A243.6 243.6 0 0 0 384.29 111.14Z" fill="#0443a0"/>
<path d="M470.42 119.88 A253 253 0 0 1 535.57 158.26 L529.64 165.56 A243.6 243.6 0 0 0 466.91 128.6Z" fill="#fb0d14"/>
<path d="M535.57 158.26 A253 253 0 0 1 589.14 218.29 L581.22 223.36 A243.6 243.6 0 0 0 529.64 165.56Z" fill="#067c33"/>
<line x1="384.1" y1="116.74" x2="384.26" y2="112.14" stroke="#111" stroke-width="1.3"/>
<text transform="translate(383.32 139.72) rotate(-88.05)" font-size="8.6" text-anchor="start" dy="0.35em" fill="#222">0%</text>
<line x1="407.27" y1="118.66" x2="407.88" y2="114.1" stroke="#111" stroke-width="1.3"/>
<text transform="translate(404.25 141.46) rotate(-82.45)" font-size="8.6" text-anchor="start" dy="0.35em" fill="#222">10%</text>
<line x1="430.15" y1="122.84" x2="431.19" y2="118.36" stroke="#111" stroke-width="1.3"/>
<text transform="translate(424.91 145.24) rotate(-76.85)" font-size="8.6" text-anchor="start" dy="0.35em" fill="#222">20%</text>
<line x1="452.5" y1="129.23" x2="453.98" y2="124.87" stroke="#111" stroke-width="1.3"/>
<text transform="translate(445.11 151.01) rotate(-71.25)" font-size="8.6" text-anchor="start" dy="0.35em" fill="#222">30%</text>
<line x1="474.13" y1="137.77" x2="476.03" y2="133.58" stroke="#111" stroke-width="1.3"/>
<text transform="translate(464.65 158.73) rotate(-65.65)" font-size="8.6" text-anchor="start" dy="0.35em" fill="#222">40%</text>
<line x1="494.82" y1="148.38" x2="497.12" y2="144.4" stroke="#111" stroke-width="1.3"/>
<text transform="translate(483.34 168.31) rotate(-60.05)" font-size="8.6" text-anchor="start" dy="0.35em" fill="#222">50%</text>
<line x1="514.38" y1="160.96" x2="517.05" y2="157.22" stroke="#111" stroke-width="1.3"/>
<text transform="translate(501 179.67) rotate(-54.45)" font-size="8.6" text-anchor="start" dy="0.35em" fill="#222">60%</text>
<line x1="532.61" y1="175.39" x2="535.64" y2="171.92" stroke="#111" stroke-width="1.3"/>
<text transform="translate(517.48 192.71) rotate(-48.85)" font-size="8.6" text-anchor="start" dy="0.35em" fill="#222">70%</text>
<line x1="549.35" y1="191.53" x2="552.7" y2="188.37" stroke="#111" stroke-width="1.3"/>
<text transform="translate(532.6 207.29) rotate(-43.25)" font-size="8.6" text-anchor="start" dy="0.35em" fill="#222">80%</text>
<line x1="564.44" y1="209.22" x2="568.08" y2="206.41" stroke="#111" stroke-width="1.3"/>
<text transform="translate(546.23 223.27) rotate(-37.65)" font-size="8.6" text-anchor="start" dy="0.35em" fill="#222">90%</text>
<text transform="translate(522.54 97.42) rotate(-60.33)" font-size="13.7" text-anchor="start" dy="-0.03em" fill="#111">Proteobacteria</text>
<path d="M606.9 226.61 A264 264 0 0 1 636.75 395.9 L629.14 394.69 A256.3 256.3 0 0 0 600.17 230.34Z" fill="#fdf0e6"/>
<path d="M597.28 231.94 A253 253 0 0 1 620.87 291 L611.78 293.36 A243.6 243.6 0 0 0 589.06 236.5Z" fill="#067c33"/>
<path d="M620.87 291 A253 253 0 0 1 628.78 344.01 L619.39 344.4 A243.6 243.6 0 0 0 611.78 293.36Z" fill="#fb0d14"/>
<path d="M628.78 344.01 A253 253 0 0 1 625.89 394.18 L616.6 392.71 A243.6 243.6 0 0 0 619.39 344.4Z" fill="#0443a0"/>
<line x1="584.16" y1="239.22" x2="588.18" y2="236.99" stroke="#111" stroke-width="1.3"/>
<text transform="translate(564.04 250.37) rotate(-29)" font-size="8.6" text-anchor="start" dy="0.35em" fill="#222">0%</text>
<line x1="591.51" y1="253.62" x2="595.68" y2="251.67" stroke="#111" stroke-width="1.3"/>
<text transform="translate(570.69 263.38) rotate(-25.11)" font-size="8.6" text-anchor="start" dy="0.35em" fill="#222">10%</text>
<line x1="597.88" y1="268.49" x2="602.16" y2="266.82" stroke="#111" stroke-width="1.3"/>
<text transform="translate(576.43 276.81) rotate(-21.21)" font-size="8.6" text-anchor="start" dy="0.35em" fill="#222">20%</text>
<line x1="603.21" y1="283.75" x2="607.6" y2="282.38" stroke="#111" stroke-width="1.3"/>
<text transform="translate(581.25 290.6) rotate(-17.32)" font-size="8.6" text-anchor="start" dy="0.35em" fill="#222">30%</text>
<line x1="607.5" y1="299.35" x2="611.97" y2="298.28" stroke="#111" stroke-width="1.3"/>
<text transform="translate(585.13 304.69) rotate(-13.42)" font-size="8.6" text-anchor="start" dy="0.35em" fill="#222">40%</text>
<line x1="610.72" y1="315.2" x2="615.25" y2="314.43" stroke="#111" stroke-width="1.3"/>
<text transform="translate(588.03 319) rotate(-9.53)" font-size="8.6" text-anchor="start" dy="0.35em" fill="#222">50%</text>
<line x1="612.85" y1="331.23" x2="617.43" y2="330.77" stroke="#111" stroke-width="1.3"/>
<text transform="translate(589.96 333.49) rotate(-5.64)" font-size="8.6" text-anchor="start" dy="0.35em" fill="#222">60%</text>
<line x1="613.89" y1="347.37" x2="618.49" y2="347.23" stroke="#111" stroke-width="1.3"/>
<text transform="translate(590.9 348.06) rotate(-1.74)" font-size="8.6" text-anchor="start" dy="0.35em" fill="#222">70%</text>
<line x1="613.83" y1="363.54" x2="618.43" y2="363.71" stroke="#111" stroke-width="1.3"/>
<text transform="translate(590.85 362.67) rotate(2.15)" font-size="8.6" text-anchor="start" dy="0.35em" fill="#222">80%</text>
<line x1="612.68" y1="379.67" x2="617.25" y2="380.15" stroke="#111" stroke-width="1.3"/>
<text transform="translate(589.8 377.25) rotate(6.05)" font-size="8.6" text-anchor="start" dy="0.35em" fill="#222">90%</text>
<text transform="translate(667.5 303.2) rotate(-10)" font-size="13.7" text-anchor="start" dy="-0.03em" fill="#111">Actinobacteria</text>
<path d="M632.92 415.33 A264 264 0 0 1 608.23 480.16 L601.45 476.5 A256.3 256.3 0 0 0 625.43 413.56Z" fill="#4a8fd0"/>
<path d="M622.21 412.8 A253 253 0 0 1 614.94 437.76 L606.07 434.67 A243.6 243.6 0 0 0 613.07 410.64Z" fill="#fb0d14"/>
<path d="M614.94 437.76 A253 253 0 0 1 607.9 455.76 L599.28 452 A243.6 243.6 0 0 0 606.07 434.67Z" fill="#067c33"/>
<path d="M607.9 455.76 A253 253 0 0 1 598.55 474.93 L590.28 470.46 A243.6 243.6 0 0 0 599.28 452Z" fill="#0443a0"/>
<line x1="607.62" y1="409.35" x2="612.09" y2="410.41" stroke="#111" stroke-width="1.3"/>
<line x1="605.96" y1="415.94" x2="610.4" y2="417.12" stroke="#111" stroke-width="1.3"/>
<line x1="604.12" y1="422.47" x2="608.53" y2="423.79" stroke="#111" stroke-width="1.3"/>
<line x1="602.09" y1="428.96" x2="606.46" y2="430.39" stroke="#111" stroke-width="1.3"/>
<line x1="599.87" y1="435.38" x2="604.2" y2="436.94" stroke="#111" stroke-width="1.3"/>
<line x1="597.48" y1="441.73" x2="601.76" y2="443.41" stroke="#111" stroke-width="1.3"/>
<line x1="594.9" y1="448.01" x2="599.13" y2="449.82" stroke="#111" stroke-width="1.3"/>
<line x1="592.15" y1="454.22" x2="596.32" y2="456.15" stroke="#111" stroke-width="1.3"/>
<line x1="589.22" y1="460.35" x2="593.34" y2="462.39" stroke="#111" stroke-width="1.3"/>
<line x1="586.11" y1="466.39" x2="590.17" y2="468.55" stroke="#111" stroke-width="1.3"/>
<text transform="translate(652.62 459.95) rotate(20.85)" font-size="13.7" text-anchor="start" dy="-0.03em" fill="#111">Chloroflexi</text>
<path d="M598.9 496.06 A264 264 0 0 1 561.7 542.25 L556.28 536.78 A256.3 256.3 0 0 0 592.4 491.93Z" fill="#e0595f"/>
<path d="M589.61 490.16 A253 253 0 0 1 576.56 508.83 L569.11 503.1 A243.6 243.6 0 0 0 581.68 485.13Z" fill="#fb0d14"/>
<path d="M576.56 508.83 A253 253 0 0 1 564.93 522.86 L557.91 516.61 A243.6 243.6 0 0 0 569.11 503.1Z" fill="#067c33"/>
<path d="M564.93 522.86 A253 253 0 0 1 553.96 534.43 L547.35 527.75 A243.6 243.6 0 0 0 557.91 516.61Z" fill="#0443a0"/>
<line x1="576.95" y1="482.13" x2="580.83" y2="484.59" stroke="#111" stroke-width="1.3"/>
<line x1="573.74" y1="487.05" x2="577.56" y2="489.61" stroke="#111" stroke-width="1.3"/>
<line x1="570.41" y1="491.89" x2="574.17" y2="494.55" stroke="#111" stroke-width="1.3"/>
<line x1="566.96" y1="496.65" x2="570.65" y2="499.4" stroke="#111" stroke-width="1.3"/>
<line x1="563.39" y1="501.32" x2="567.01" y2="504.16" stroke="#111" stroke-width="1.3"/>
<line x1="559.71" y1="505.91" x2="563.26" y2="508.83" stroke="#111" stroke-width="1.3"/>
<line x1="555.92" y1="510.4" x2="559.4" y2="513.41" stroke="#111" stroke-width="1.3"/>
<line x1="552.02" y1="514.79" x2="555.42" y2="517.89" stroke="#111" stroke-width="1.3"/>
<line x1="548.01" y1="519.09" x2="551.33" y2="522.27" stroke="#111" stroke-width="1.3"/>
<line x1="543.89" y1="523.29" x2="547.14" y2="526.55" stroke="#111" stroke-width="1.3"/>
<text transform="translate(606.52 540.28) rotate(38.85)" font-size="13.7" text-anchor="start" dy="-0.03em" fill="#111">Acidobacteria</text>
<path d="M549.2 553.84 A264 264 0 0 1 519.78 576.01 L515.59 569.55 A256.3 256.3 0 0 0 544.15 548.03Z" fill="#a758a8"/>
<path d="M541.98 545.54 A253 253 0 0 1 524.57 559.39 L519.05 551.78 A243.6 243.6 0 0 0 535.82 538.45Z" fill="#0443a0"/>
<path d="M524.57 559.39 A253 253 0 0 1 519.66 562.85 L514.33 555.12 A243.6 243.6 0 0 0 519.05 551.78Z" fill="#fb0d14"/>
<path d="M519.66 562.85 A253 253 0 0 1 513.79 566.78 L508.67 558.9 A243.6 243.6 0 0 0 514.33 555.12Z" fill="#067c33"/>
<line x1="532.14" y1="534.22" x2="535.16" y2="537.69" stroke="#111" stroke-width="1.3"/>
<line x1="529.22" y1="536.72" x2="532.18" y2="540.24" stroke="#111" stroke-width="1.3"/>
<line x1="526.26" y1="539.17" x2="529.17" y2="542.74" stroke="#111" stroke-width="1.3"/>
<line x1="523.26" y1="541.57" x2="526.11" y2="545.18" stroke="#111" stroke-width="1.3"/>
<line x1="520.23" y1="543.92" x2="523.01" y2="547.58" stroke="#111" stroke-width="1.3"/>
<line x1="517.15" y1="546.23" x2="519.88" y2="549.93" stroke="#111" stroke-width="1.3"/>
<line x1="514.04" y1="548.48" x2="516.71" y2="552.23" stroke="#111" stroke-width="1.3"/>
<line x1="510.89" y1="550.68" x2="513.5" y2="554.47" stroke="#111" stroke-width="1.3"/>
<line x1="507.71" y1="552.84" x2="510.25" y2="556.67" stroke="#111" stroke-width="1.3"/>
<line x1="504.49" y1="554.94" x2="506.97" y2="558.81" stroke="#111" stroke-width="1.3"/>
<text transform="translate(554.14 591) rotate(53)" font-size="13.7" text-anchor="start" dy="-0.03em" fill="#111">Bacteroidetes</text>
<path d="M504.39 585.28 A264 264 0 0 1 485.9 594.64 L482.69 587.64 A256.3 256.3 0 0 0 500.65 578.55Z" fill="#11a674"/>
<path d="M499.04 575.66 A253 253 0 0 1 492.04 579.42 L487.73 571.07 A243.6 243.6 0 0 0 494.47 567.45Z" fill="#0443a0"/>
<path d="M492.04 579.42 A253 253 0 0 1 486.71 582.09 L482.6 573.64 A243.6 243.6 0 0 0 487.73 571.07Z" fill="#fb0d14"/>
<path d="M486.71 582.09 A253 253 0 0 1 481.32 584.64 L477.41 576.09 A243.6 243.6 0 0 0 482.6 573.64Z" fill="#067c33"/>
<line x1="491.07" y1="561.33" x2="493.64" y2="565.97" stroke="#000" stroke-width="1.35"/>
<line x1="488.99" y1="562.48" x2="491.52" y2="567.14" stroke="#000" stroke-width="1.35"/>
<line x1="486.89" y1="563.6" x2="489.38" y2="568.28" stroke="#000" stroke-width="1.35"/>
<line x1="484.79" y1="564.7" x2="487.23" y2="569.41" stroke="#000" stroke-width="1.35"/>
<line x1="482.68" y1="565.79" x2="485.07" y2="570.52" stroke="#000" stroke-width="1.35"/>
<line x1="480.55" y1="566.85" x2="482.89" y2="571.6" stroke="#000" stroke-width="1.35"/>
<line x1="478.42" y1="567.88" x2="480.71" y2="572.66" stroke="#000" stroke-width="1.35"/>
<line x1="476.27" y1="568.9" x2="478.52" y2="573.7" stroke="#000" stroke-width="1.35"/>
<line x1="474.12" y1="569.9" x2="476.31" y2="574.72" stroke="#000" stroke-width="1.35"/>
<line x1="471.95" y1="570.87" x2="474.1" y2="575.72" stroke="#000" stroke-width="1.35"/>
<text transform="translate(509.69 618.69) rotate(63.15)" font-size="13.7" text-anchor="start" dy="-0.03em" fill="#111">Firmicutes</text>
<path d="M469.32 601.56 A264 264 0 0 1 456.26 606.1 L453.92 598.77 A256.3 256.3 0 0 0 466.6 594.35Z" fill="#a6c1dd"/>
<path d="M465.43 591.27 A253 253 0 0 1 460.7 593 L457.56 584.14 A243.6 243.6 0 0 0 462.11 582.47Z" fill="#067c33"/>
<path d="M460.7 593 A253 253 0 0 1 456.95 594.3 L453.94 585.39 A243.6 243.6 0 0 0 457.56 584.14Z" fill="#fb0d14"/>
<path d="M456.95 594.3 A253 253 0 0 1 452.92 595.62 L450.06 586.67 A243.6 243.6 0 0 0 453.94 585.39Z" fill="#0443a0"/>
<line x1="459.63" y1="575.93" x2="461.51" y2="580.88" stroke="#000" stroke-width="1.35"/>
<line x1="457.99" y1="576.54" x2="459.82" y2="581.51" stroke="#000" stroke-width="1.35"/>
<line x1="456.34" y1="577.14" x2="458.14" y2="582.13" stroke="#000" stroke-width="1.35"/>
<line x1="454.69" y1="577.73" x2="456.45" y2="582.73" stroke="#000" stroke-width="1.35"/>
<line x1="453.03" y1="578.31" x2="454.75" y2="583.32" stroke="#000" stroke-width="1.35"/>
<line x1="451.37" y1="578.87" x2="453.06" y2="583.9" stroke="#000" stroke-width="1.35"/>
<line x1="449.7" y1="579.43" x2="451.35" y2="584.46" stroke="#000" stroke-width="1.35"/>
<line x1="448.03" y1="579.97" x2="449.65" y2="585.02" stroke="#000" stroke-width="1.35"/>
<line x1="446.36" y1="580.5" x2="447.93" y2="585.56" stroke="#000" stroke-width="1.35"/>
<line x1="444.68" y1="581.01" x2="446.22" y2="586.08" stroke="#000" stroke-width="1.35"/>
<text transform="translate(473.34 634.14) rotate(70.8)" font-size="13.7" text-anchor="start" dy="-0.03em" fill="#111">others</text>
<path d="M438.53 611.09 A264 264 0 0 1 426.83 613.66 L425.34 606.11 A256.3 256.3 0 0 0 436.7 603.61Z" fill="#6a5fb5"/>
<path d="M435.92 600.4 A253 253 0 0 1 431.67 601.4 L429.6 592.23 A243.6 243.6 0 0 0 433.69 591.27Z" fill="#067c33"/>
<path d="M431.67 601.4 A253 253 0 0 1 428.08 602.18 L426.15 592.98 A243.6 243.6 0 0 0 429.6 592.23Z" fill="#fb0d14"/>
<path d="M428.08 602.18 A253 253 0 0 1 424.71 602.87 L422.9 593.64 A243.6 243.6 0 0 0 426.15 592.98Z" fill="#0443a0"/>
<line x1="432.04" y1="584.47" x2="433.29" y2="589.62" stroke="#000" stroke-width="1.35"/>
<line x1="430.49" y1="584.84" x2="431.71" y2="590" stroke="#000" stroke-width="1.35"/>
<line x1="428.94" y1="585.2" x2="430.13" y2="590.37" stroke="#000" stroke-width="1.35"/>
<line x1="427.39" y1="585.55" x2="428.54" y2="590.72" stroke="#000" stroke-width="1.35"/>
<line x1="425.84" y1="585.89" x2="426.95" y2="591.07" stroke="#000" stroke-width="1.35"/>
<line x1="424.28" y1="586.22" x2="425.36" y2="591.41" stroke="#000" stroke-width="1.35"/>
<line x1="422.73" y1="586.54" x2="423.77" y2="591.74" stroke="#000" stroke-width="1.35"/>
<line x1="421.17" y1="586.85" x2="422.18" y2="592.05" stroke="#000" stroke-width="1.35"/>
<line x1="419.6" y1="587.15" x2="420.58" y2="592.36" stroke="#000" stroke-width="1.35"/>
<line x1="418.04" y1="587.44" x2="418.98" y2="592.65" stroke="#000" stroke-width="1.35"/>
<text transform="translate(439.56 643.69) rotate(77.6)" font-size="13.7" text-anchor="start" dy="-0.03em" fill="#111">Gemmatimonadetes</text>
<path d="M408.17 616.63 A264 264 0 0 1 397.17 617.75 L396.55 610.07 A256.3 256.3 0 0 0 407.24 608.99Z" fill="#02bcbe"/>
<path d="M406.83 605.71 A253 253 0 0 1 402.09 606.25 L401.12 596.9 A243.6 243.6 0 0 0 405.69 596.38Z" fill="#0443a0"/>
<path d="M402.09 606.25 A253 253 0 0 1 399.25 606.53 L398.38 597.17 A243.6 243.6 0 0 0 401.12 596.9Z" fill="#fb0d14"/>
<path d="M399.25 606.53 A253 253 0 0 1 396.29 606.79 L395.54 597.42 A243.6 243.6 0 0 0 398.38 597.17Z" fill="#067c33"/>
<line x1="404.83" y1="589.44" x2="405.48" y2="594.7" stroke="#000" stroke-width="1.35"/>
<line x1="403.34" y1="589.62" x2="403.95" y2="594.88" stroke="#000" stroke-width="1.35"/>
<line x1="401.84" y1="589.78" x2="402.42" y2="595.05" stroke="#000" stroke-width="1.35"/>
<line x1="400.34" y1="589.94" x2="400.89" y2="595.22" stroke="#000" stroke-width="1.35"/>
<line x1="398.84" y1="590.09" x2="399.35" y2="595.37" stroke="#000" stroke-width="1.35"/>
<line x1="397.34" y1="590.24" x2="397.82" y2="595.51" stroke="#000" stroke-width="1.35"/>
<line x1="395.84" y1="590.37" x2="396.28" y2="595.65" stroke="#000" stroke-width="1.35"/>
<line x1="394.34" y1="590.49" x2="394.75" y2="595.77" stroke="#000" stroke-width="1.35"/>
<line x1="392.83" y1="590.6" x2="393.21" y2="595.89" stroke="#000" stroke-width="1.35"/>
<line x1="391.33" y1="590.7" x2="391.67" y2="595.99" stroke="#000" stroke-width="1.35"/>
<text transform="translate(405.91 649.08) rotate(84.2)" font-size="13.7" text-anchor="start" dy="-0.03em" fill="#111">Cyanobacteria</text>
<path d="M379.69 618.57 A264 264 0 0 1 370.47 618.54 L370.63 610.84 A256.3 256.3 0 0 0 379.58 610.88Z" fill="#027f80"/>
<path d="M379.53 607.58 A253 253 0 0 1 376 607.6 L376 598.2 A243.6 243.6 0 0 0 379.4 598.18Z" fill="#067c33"/>
<path d="M376 607.6 A253 253 0 0 1 373.53 607.59 L373.62 598.19 A243.6 243.6 0 0 0 376 598.2Z" fill="#0443a0"/>
<path d="M373.53 607.59 A253 253 0 0 1 370.7 607.54 L370.9 598.15 A243.6 243.6 0 0 0 373.62 598.19Z" fill="#fb0d14"/>
<line x1="379.3" y1="591.18" x2="379.38" y2="596.48" stroke="#000" stroke-width="1.35"/>
<line x1="377.96" y1="591.19" x2="378.01" y2="596.49" stroke="#000" stroke-width="1.35"/>
<line x1="376.62" y1="591.2" x2="376.63" y2="596.5" stroke="#000" stroke-width="1.35"/>
<line x1="375.29" y1="586.6" x2="375.28" y2="591.9" stroke="#000" stroke-width="1.35"/>
<line x1="373.98" y1="586.59" x2="373.93" y2="591.89" stroke="#000" stroke-width="1.35"/>
<line x1="372.66" y1="586.58" x2="372.58" y2="591.88" stroke="#000" stroke-width="1.35"/>
<line x1="371.34" y1="586.55" x2="371.24" y2="591.85" stroke="#000" stroke-width="1.35"/>
<line x1="370.03" y1="586.52" x2="369.89" y2="591.82" stroke="#000" stroke-width="1.35"/>
<line x1="368.71" y1="586.49" x2="368.55" y2="591.78" stroke="#000" stroke-width="1.35"/>
<line x1="367.4" y1="586.44" x2="367.2" y2="591.74" stroke="#000" stroke-width="1.35"/>
<text transform="translate(374.97 650.6) rotate(90.2)" font-size="13.7" text-anchor="start" dy="-0.03em" fill="#111">Patescibacteria</text>
<path d="M351.84 617.49 A264 264 0 0 1 346.34 616.93 L347.21 609.28 A256.3 256.3 0 0 0 352.55 609.82Z" fill="#f9a45c"/>
<path d="M352.85 606.54 A253 253 0 0 1 350.74 606.34 L351.68 596.98 A243.6 243.6 0 0 0 353.71 597.18Z" fill="#0443a0"/>
<path d="M350.74 606.34 A253 253 0 0 1 349.05 606.16 L350.05 596.81 A243.6 243.6 0 0 0 351.68 596.98Z" fill="#fb0d14"/>
<path d="M349.05 606.16 A253 253 0 0 1 347.58 606 L348.63 596.66 A243.6 243.6 0 0 0 350.05 596.81Z" fill="#067c33"/>
<line x1="354.77" y1="585.63" x2="354.29" y2="590.9" stroke="#000" stroke-width="1.35"/>
<line x1="353.78" y1="585.53" x2="353.28" y2="590.81" stroke="#000" stroke-width="1.35"/>
<line x1="352.8" y1="585.44" x2="352.27" y2="590.71" stroke="#000" stroke-width="1.35"/>
<line x1="351.81" y1="585.34" x2="351.26" y2="590.61" stroke="#000" stroke-width="1.35"/>
<line x1="350.82" y1="585.23" x2="350.25" y2="590.5" stroke="#000" stroke-width="1.35"/>
<line x1="349.84" y1="585.12" x2="349.24" y2="590.39" stroke="#000" stroke-width="1.35"/>
<line x1="348.85" y1="585.01" x2="348.23" y2="590.27" stroke="#000" stroke-width="1.35"/>
<line x1="347.87" y1="584.89" x2="347.22" y2="590.15" stroke="#000" stroke-width="1.35"/>
<line x1="346.88" y1="584.77" x2="346.22" y2="590.02" stroke="#000" stroke-width="1.35"/>
<line x1="345.9" y1="584.64" x2="345.21" y2="589.89" stroke="#000" stroke-width="1.35"/>
<text transform="translate(345.83 649.06) rotate(95.85)" font-size="13.7" text-anchor="start" dy="-0.03em" fill="#111">Verrucomicrobia</text>
<path d="M327.89 614.18 A264 264 0 0 1 326.31 613.88 L327.75 606.32 A256.3 256.3 0 0 0 329.29 606.61Z" fill="#5b9a2a"/>
<path d="M329.89 603.36 A253 253 0 0 1 329.29 603.25 L331.02 594.01 A243.6 243.6 0 0 0 331.61 594.12Z" fill="#fb0d14"/>
<path d="M329.29 603.25 A253 253 0 0 1 328.8 603.16 L330.55 593.92 A243.6 243.6 0 0 0 331.02 594.01Z" fill="#067c33"/>
<path d="M328.8 603.16 A253 253 0 0 1 328.38 603.08 L330.15 593.85 A243.6 243.6 0 0 0 330.55 593.92Z" fill="#0443a0"/>
<line x1="333.72" y1="582.72" x2="332.76" y2="587.93" stroke="#000" stroke-width="1.35"/>
<line x1="333.08" y1="582.6" x2="332.1" y2="587.8" stroke="#000" stroke-width="1.35"/>
<line x1="332.45" y1="582.48" x2="331.45" y2="587.68" stroke="#000" stroke-width="1.35"/>
<line x1="331.81" y1="582.35" x2="330.8" y2="587.56" stroke="#000" stroke-width="1.35"/>
<line x1="331.18" y1="582.23" x2="330.15" y2="587.43" stroke="#000" stroke-width="1.35"/>
<line x1="330.54" y1="582.1" x2="329.5" y2="587.3" stroke="#000" stroke-width="1.35"/>
<line x1="329.91" y1="581.97" x2="328.85" y2="587.17" stroke="#000" stroke-width="1.35"/>
<line x1="329.27" y1="581.85" x2="328.2" y2="587.04" stroke="#000" stroke-width="1.35"/>
<line x1="328.64" y1="581.71" x2="327.55" y2="586.9" stroke="#000" stroke-width="1.35"/>
<line x1="328" y1="581.58" x2="326.91" y2="586.77" stroke="#000" stroke-width="1.35"/>
<text transform="translate(321.17 645.48) rotate(100.68)" font-size="13.7" text-anchor="start" dy="-0.03em" fill="#111">Planctomycetes</text>
<clipPath id="clipB"><rect x="0" y="784" width="876" height="860"/></clipPath>
<g clip-path="url(#clipB)">
<path d="M392.6 885.86 A168.84 168.84 0 0 1 469.91 907.52 L465.62 915.06 460.26 924.02 453.81 934.07 446.25 944.86 437.6 956.1 427.89 967.5 417.16 978.83 405.47 989.87 392.9 1000.44 379.56 1010.36 365.55 1019.52 351.02 1027.82 336.1 1035.17 320.97 1041.54 305.81 1046.92 290.84 1051.3 276.26 1054.75 262.32 1057.33 249.27 1059.14 237.38 1060.3 226.96 1060.99 218.3 1061.38 A168.84 168.84 0 0 1 233.51 984.26 L241.37 987.81 250.73 991.78 261.21 995.76 272.45 999.39 284.16 1002.35 296.03 1004.38 307.82 1005.27 319.29 1004.85 330.26 1003.01 340.55 999.67 350.03 994.83 358.59 988.51 366.17 980.79 372.72 971.8 378.22 961.72 382.69 950.78 386.17 939.25 388.75 927.45 390.53 915.77 391.65 904.62 392.27 894.47 392.6 885.86Z" fill="#02bcbe" stroke="#02bcbe" stroke-width="2.2" stroke-linejoin="round"/>
<path d="M469.91 907.52 A168.84 168.84 0 0 1 519.12 949.48 L512.33 954.83 504.06 961.01 494.49 967.59 483.79 974.2 472.11 980.48 459.61 986.15 446.45 990.97 432.79 994.74 418.76 997.3 404.53 998.55 390.24 998.42 376.02 996.91 362.03 994.03 348.39 989.88 335.25 984.57 322.73 978.27 310.96 971.2 300.08 963.61 290.21 955.83 281.46 948.19 273.96 941.1 267.82 935.01 A168.84 168.84 0 0 1 320.79 899.29 L324.2 907.2 328.39 916.38 333.29 926.25 338.86 936.27 345.04 945.97 351.77 954.94 358.97 962.85 366.59 969.39 374.55 974.37 382.77 977.6 391.18 979 399.69 978.54 408.21 976.23 416.67 972.16 424.96 966.49 432.99 959.43 440.67 951.25 447.88 942.29 454.52 932.95 460.48 923.68 465.65 915.01 469.91 907.52Z" fill="#02bcbe" stroke="#02bcbe" stroke-width="2.2" stroke-linejoin="round"/>
<path d="M519.12 949.48 A168.84 168.84 0 0 1 549.54 1008.91 L541.19 1011.29 531.09 1014.3 519.49 1018.03 506.64 1022.5 492.78 1027.75 478.12 1033.79 462.89 1040.62 447.27 1048.21 431.46 1056.52 415.65 1065.5 400 1075.08 384.67 1085.17 369.81 1095.65 355.56 1106.41 342.04 1117.31 329.37 1128.19 317.67 1138.88 307.01 1149.19 297.5 1158.91 289.19 1167.82 282.16 1175.67 276.46 1182.22 A168.84 168.84 0 0 1 236.47 1131.07 L244.21 1127.12 253.62 1122.27 264.51 1116.56 276.67 1110.05 289.92 1102.78 304.09 1094.83 318.99 1086.26 334.44 1077.15 350.27 1067.58 366.31 1057.65 382.4 1047.44 398.37 1037.05 414.08 1026.59 429.36 1016.17 444.07 1005.9 458.05 995.92 471.17 986.34 483.29 977.3 494.28 968.95 503.99 961.43 512.32 954.88 519.12 949.48Z" fill="#02bcbe" stroke="#02bcbe" stroke-width="2.2" stroke-linejoin="round"/>
<path d="M552.51 1021.23 A168.84 168.84 0 0 1 553.57 1027.02 L545.02 1028.39 534.76 1029.79 523.1 1030.92 510.36 1031.54 496.81 1031.45 482.73 1030.47 468.35 1028.47 453.91 1025.35 439.6 1021.06 425.6 1015.56 412.09 1008.88 399.2 1001.07 387.04 992.22 375.73 982.45 365.34 971.95 355.93 960.89 347.54 949.54 340.19 938.16 333.87 927.08 328.56 916.64 324.22 907.23 320.79 899.29 A168.84 168.84 0 0 1 327.95 896.43 L331.02 904.51 334.92 914.08 339.73 924.69 345.52 935.93 352.32 947.45 360.14 958.9 368.97 970.02 378.8 980.55 389.57 990.28 401.21 999.04 413.61 1006.71 426.68 1013.2 440.27 1018.45 454.22 1022.46 468.35 1025.25 482.45 1026.88 496.31 1027.48 509.68 1027.17 522.28 1026.15 533.83 1024.63 544.02 1022.89 552.51 1021.23Z" fill="#a6c1dd" stroke="#a6c1dd" stroke-width="0.65" stroke-linejoin="round"/>
<path d="M553.57 1027.02 A168.84 168.84 0 0 1 554.17 1030.91 L545.57 1032.14 535.11 1033.73 523.01 1035.71 509.47 1038.12 494.69 1040.98 478.88 1044.32 462.24 1048.13 444.96 1052.41 427.23 1057.13 409.23 1062.28 391.16 1067.79 373.19 1073.64 355.5 1079.75 338.27 1086.05 321.65 1092.46 305.84 1098.88 290.97 1105.21 277.22 1111.34 264.75 1117.13 253.7 1122.45 244.22 1127.15 236.47 1131.07 A168.84 168.84 0 0 1 234.22 1126.47 L242.09 1122.78 251.7 1118.35 262.9 1113.33 275.53 1107.84 289.44 1102.01 304.47 1095.95 320.44 1089.77 337.2 1083.58 354.57 1077.44 372.38 1071.45 390.45 1065.67 408.61 1060.17 426.67 1054.99 444.45 1050.18 461.76 1045.77 478.42 1041.78 494.22 1038.24 508.99 1035.14 522.5 1032.49 534.58 1030.27 545 1028.46 553.57 1027.02Z" fill="#a6c1dd" stroke="#a6c1dd" stroke-width="0.65" stroke-linejoin="round"/>
<path d="M554.17 1030.91 A168.84 168.84 0 0 1 554.61 1034.32 L545.99 1035.33 535.51 1036.43 523.37 1037.45 509.79 1038.26 494.97 1038.75 479.11 1038.81 462.42 1038.37 445.08 1037.38 427.28 1035.79 409.23 1033.59 391.09 1030.78 373.05 1027.38 355.29 1023.43 337.99 1019 321.31 1014.16 305.42 1009 290.49 1003.66 276.68 998.26 264.15 992.97 253.04 987.96 243.52 983.43 235.74 979.6 A168.84 168.84 0 0 1 237.79 975.58 L245.48 979.62 254.87 984.39 265.83 989.65 278.21 995.21 291.86 1000.86 306.62 1006.45 322.34 1011.81 338.85 1016.84 356 1021.42 373.6 1025.47 391.49 1028.92 409.49 1031.74 427.42 1033.91 445.1 1035.42 462.34 1036.3 478.95 1036.58 494.73 1036.34 509.49 1035.65 523.02 1034.63 535.11 1033.4 545.57 1032.1 554.17 1030.91Z" fill="#a6c1dd" stroke="#a6c1dd" stroke-width="0.65" stroke-linejoin="round"/>
<path d="M555.65 1046.65 A168.84 168.84 0 0 1 555.78 1050.11 L547.12 1050.3 536.74 1050.28 524.96 1049.82 512.12 1048.74 498.51 1046.86 484.4 1044.05 470.04 1040.23 455.67 1035.32 441.5 1029.29 427.69 1022.15 414.43 1013.93 401.85 1004.71 390.06 994.59 379.16 983.7 369.22 972.22 360.3 960.34 352.41 948.31 345.57 936.39 339.76 924.89 334.93 914.14 331.02 904.52 327.95 896.43 A168.84 168.84 0 0 1 332.79 894.7 L335.62 902.88 339.23 912.61 343.73 923.45 349.19 935.05 355.66 947.05 363.17 959.14 371.73 971.06 381.3 982.56 391.86 993.43 403.32 1003.5 415.61 1012.64 428.61 1020.74 442.17 1027.73 456.15 1033.59 470.35 1038.3 484.56 1041.91 498.57 1044.48 512.1 1046.13 524.89 1046.97 536.63 1047.2 547 1047.01 555.65 1046.65Z" fill="#fdf0e6" stroke="#fdf0e6" stroke-width="0.65" stroke-linejoin="round"/>
<path d="M555.78 1050.11 A168.84 168.84 0 0 1 555.83 1053.08 L547.14 1053.17 536.57 1053.38 524.32 1053.77 510.6 1054.43 495.6 1055.39 479.52 1056.72 462.57 1058.43 444.93 1060.55 426.8 1063.09 408.37 1066.04 389.82 1069.39 371.34 1073.1 353.11 1077.14 335.32 1081.44 318.14 1085.96 301.74 1090.6 286.3 1095.28 272 1099.89 259 1104.33 247.46 1108.47 237.55 1112.17 229.44 1115.28 A168.84 168.84 0 0 1 228.28 1112.16 L236.45 1109.21 246.42 1105.7 258.04 1101.76 271.13 1097.52 285.52 1093.09 301.04 1088.59 317.53 1084.11 334.79 1079.73 352.67 1075.52 370.97 1071.55 389.51 1067.87 408.12 1064.51 426.61 1061.51 444.78 1058.89 462.45 1056.65 479.43 1054.8 495.53 1053.31 510.54 1052.16 524.27 1051.32 536.52 1050.73 547.09 1050.36 555.78 1050.11Z" fill="#fdf0e6" stroke="#fdf0e6" stroke-width="0.65" stroke-linejoin="round"/>
<path d="M555.83 1053.08 A168.84 168.84 0 0 1 555.84 1054.89 L547.15 1054.86 536.59 1054.71 524.36 1054.36 510.67 1053.71 495.72 1052.7 479.73 1051.27 462.88 1049.4 445.38 1047.04 427.41 1044.2 409.17 1040.88 390.84 1037.09 372.6 1032.86 354.64 1028.26 337.13 1023.32 320.25 1018.14 304.16 1012.8 289.04 1007.4 275.04 1002.07 262.33 996.93 251.07 992.14 241.42 987.86 233.51 984.26 A168.84 168.84 0 0 1 235.74 979.6 L243.52 983.44 253.05 988 264.15 993.1 276.7 998.56 290.53 1004.22 305.48 1009.94 321.4 1015.58 338.12 1021.05 355.47 1026.24 373.29 1031.07 391.39 1035.47 409.6 1039.4 427.74 1042.83 445.62 1045.73 463.05 1048.1 479.84 1049.96 495.79 1051.34 510.7 1052.28 524.37 1052.83 536.59 1053.09 547.15 1053.14 555.83 1053.08Z" fill="#fdf0e6" stroke="#fdf0e6" stroke-width="0.65" stroke-linejoin="round"/>
<path d="M555.38 1066.97 A168.84 168.84 0 0 1 555.05 1070.86 L546.41 1070.05 535.89 1069.19 523.72 1068.43 510.09 1067.88 495.22 1067.66 479.3 1067.84 462.53 1068.5 445.11 1069.69 427.22 1071.43 409.06 1073.75 390.82 1076.63 372.67 1080.06 354.79 1083.99 337.36 1088.37 320.55 1093.11 304.54 1098.13 289.49 1103.32 275.56 1108.53 262.91 1113.63 251.7 1118.45 242.09 1122.79 234.22 1126.47 A168.84 168.84 0 0 1 232.32 1122.27 L240.28 1118.81 250.01 1114.71 261.35 1110.16 274.14 1105.33 288.22 1100.38 303.43 1095.44 319.59 1090.64 336.55 1086.07 354.12 1081.83 372.14 1077.99 390.42 1074.61 408.79 1071.72 427.06 1069.35 445.05 1067.5 462.56 1066.17 479.4 1065.32 495.38 1064.92 510.31 1064.91 523.98 1065.21 536.18 1065.72 546.72 1066.35 555.38 1066.97Z" fill="#4a8fd0" stroke="#4a8fd0" stroke-width="0.65" stroke-linejoin="round"/>
<path d="M555.05 1070.86 A168.84 168.84 0 0 1 554.71 1074.1 L546.11 1073.06 535.8 1071.57 524.15 1069.47 511.46 1066.61 498.05 1062.87 484.2 1058.16 470.16 1052.44 456.17 1045.66 442.42 1037.83 429.11 1028.98 416.38 1019.17 404.39 1008.48 393.23 997.04 382.99 984.97 373.75 972.47 365.52 959.73 358.34 946.99 352.18 934.51 347.03 922.57 342.81 911.5 339.44 901.65 336.83 893.39 A168.84 168.84 0 0 1 340.52 892.29 L342.95 900.6 346.09 910.51 350.06 921.64 354.95 933.63 360.83 946.15 367.74 958.92 375.69 971.65 384.68 984.13 394.67 996.14 405.6 1007.51 417.39 1018.09 429.94 1027.76 443.1 1036.45 456.72 1044.1 470.62 1050.67 484.59 1056.18 498.4 1060.66 511.78 1064.17 524.45 1066.81 536.12 1068.69 546.44 1069.98 555.05 1070.86Z" fill="#4a8fd0" stroke="#4a8fd0" stroke-width="0.65" stroke-linejoin="round"/>
<path d="M554.71 1074.1 A168.84 168.84 0 0 1 554.58 1075.18 L545.96 1074.1 535.51 1072.66 523.44 1070.78 510 1068.39 495.39 1065.44 479.83 1061.88 463.53 1057.7 446.68 1052.89 429.48 1047.47 412.12 1041.45 394.78 1034.89 377.63 1027.83 360.84 1020.37 344.58 1012.59 328.99 1004.59 314.22 996.51 300.43 988.48 287.74 980.66 276.29 973.22 266.2 966.36 257.58 960.26 250.55 955.17 A168.84 168.84 0 0 1 251.31 954.13 L258.3 959.28 266.88 965.43 276.92 972.36 288.32 979.87 300.95 987.75 314.68 995.84 329.39 1003.97 344.93 1012.01 361.15 1019.82 377.89 1027.3 395 1034.36 412.31 1040.91 429.65 1046.91 446.82 1052.3 463.65 1057.06 479.95 1061.19 495.5 1064.68 510.11 1067.57 523.55 1069.89 535.62 1071.7 546.09 1073.07 554.71 1074.1Z" fill="#4a8fd0" stroke="#4a8fd0" stroke-width="0.65" stroke-linejoin="round" fill-opacity="0.4"/>
<path d="M552.65 1087.25 A168.84 168.84 0 0 1 552.15 1089.67 L543.66 1087.86 533.33 1085.58 521.37 1082.81 507.98 1079.54 493.38 1075.78 477.75 1071.52 461.3 1066.78 444.21 1061.58 426.67 1055.95 408.87 1049.95 390.99 1043.61 373.2 1037.01 355.7 1030.2 338.63 1023.26 322.19 1016.29 306.52 1009.37 291.8 1002.62 278.18 996.14 265.82 990.06 254.87 984.51 245.48 979.64 237.79 975.58 A168.84 168.84 0 0 1 239.64 972.18 L247.23 976.41 256.51 981.49 267.34 987.26 279.57 993.56 293.06 1000.26 307.65 1007.23 323.18 1014.34 339.51 1021.48 356.46 1028.56 373.88 1035.48 391.57 1042.16 409.39 1048.53 427.13 1054.54 444.63 1060.13 461.7 1065.26 478.14 1069.91 493.77 1074.05 508.38 1077.68 521.79 1080.8 533.77 1083.42 544.13 1085.56 552.65 1087.25Z" fill="#e0595f" stroke="#e0595f" stroke-width="0.65" stroke-linejoin="round"/>
<path d="M552.15 1089.67 A168.84 168.84 0 0 1 551.62 1092.09 L543.18 1090.13 533.07 1087.55 521.64 1084.21 509.22 1080.03 496.09 1074.91 482.55 1068.81 468.84 1061.69 455.2 1053.55 441.81 1044.42 428.88 1034.34 416.54 1023.39 404.93 1011.67 394.15 999.31 384.3 986.45 375.43 973.27 367.57 959.97 360.73 946.79 354.89 933.97 350.03 921.79 346.08 910.56 342.95 900.61 340.52 892.29 A168.84 168.84 0 0 1 344.24 891.27 L346.47 899.64 349.38 909.65 353.09 920.94 357.68 933.17 363.24 946.03 369.8 959.25 377.4 972.56 386.02 985.73 395.63 998.57 406.18 1010.88 417.6 1022.54 429.77 1033.39 442.57 1043.36 455.84 1052.36 469.4 1060.36 483.05 1067.32 496.56 1073.26 509.67 1078.21 522.1 1082.23 533.55 1085.4 543.69 1087.83 552.15 1089.67Z" fill="#e0595f" stroke="#e0595f" stroke-width="0.65" stroke-linejoin="round"/>
<path d="M551.62 1092.09 A168.84 168.84 0 0 1 551.34 1093.3 L542.88 1091.33 532.58 1089.04 520.6 1086.6 507.14 1084.13 492.39 1081.75 476.53 1079.58 459.74 1077.69 442.22 1076.15 424.14 1075.03 405.69 1074.36 387.05 1074.17 368.42 1074.47 349.98 1075.23 331.9 1076.45 314.39 1078.08 297.61 1080.06 281.76 1082.33 267.02 1084.78 253.58 1087.33 241.61 1089.84 231.32 1092.18 222.87 1094.19 A168.84 168.84 0 0 1 222.43 1092.32 L230.9 1090.4 241.22 1088.17 253.22 1085.78 266.7 1083.37 281.47 1081.04 297.36 1078.89 314.18 1077.02 331.74 1075.49 349.85 1074.35 368.34 1073.65 387.01 1073.4 405.69 1073.62 424.17 1074.3 442.29 1075.41 459.85 1076.92 476.67 1078.77 492.56 1080.89 507.34 1083.2 520.83 1085.6 532.82 1087.97 543.15 1090.18 551.62 1092.09Z" fill="#e0595f" stroke="#e0595f" stroke-width="0.65" stroke-linejoin="round"/>
<path d="M548.11 1105.09 A168.84 168.84 0 0 1 547.45 1107.14 L539.2 1104.47 529.14 1101.39 517.48 1098.14 504.39 1094.91 490.06 1091.88 474.69 1089.2 458.44 1087 441.52 1085.38 424.09 1084.42 406.34 1084.16 388.44 1084.65 370.58 1085.88 352.94 1087.83 335.68 1090.46 318.99 1093.7 303.03 1097.44 287.98 1101.58 274.01 1105.97 261.29 1110.44 249.99 1114.79 240.28 1118.82 232.32 1122.27 A168.84 168.84 0 0 1 230.82 1118.73 L238.86 1115.46 248.66 1111.65 260.07 1107.52 272.9 1103.3 286.99 1099.15 302.17 1095.24 318.26 1091.71 335.09 1088.66 352.47 1086.2 370.25 1084.38 388.23 1083.25 406.25 1082.83 424.11 1083.12 441.65 1084.08 458.67 1085.67 475 1087.81 490.46 1090.4 504.85 1093.33 518 1096.44 529.72 1099.57 539.82 1102.52 548.11 1105.09Z" fill="#a758a8" stroke="#a758a8" stroke-width="0.65" stroke-linejoin="round"/>
<path d="M547.45 1107.14 A168.84 168.84 0 0 1 546.91 1108.77 L538.68 1105.97 528.68 1102.52 517.08 1098.44 504.1 1093.75 489.92 1088.49 474.73 1082.7 458.72 1076.42 442.08 1069.71 424.98 1062.61 407.61 1055.2 390.14 1047.54 372.75 1039.7 355.61 1031.77 338.88 1023.83 322.75 1015.98 307.36 1008.3 292.88 1000.91 279.48 993.9 267.3 987.41 256.5 981.54 247.23 976.42 239.64 972.18 A168.84 168.84 0 0 1 241.18 969.5 L248.69 973.87 257.86 979.15 268.56 985.19 280.63 991.87 293.93 999.05 308.3 1006.62 323.59 1014.46 339.63 1022.46 356.26 1030.52 373.33 1038.55 390.66 1046.46 408.08 1054.17 425.41 1061.6 442.49 1068.68 459.12 1075.37 475.13 1081.6 490.33 1087.32 504.53 1092.49 517.54 1097.08 529.16 1101.07 539.2 1104.42 547.45 1107.14Z" fill="#a758a8" stroke="#a758a8" stroke-width="0.65" stroke-linejoin="round"/>
<path d="M546.91 1108.77 A168.84 168.84 0 0 1 546.45 1110.12 L538.27 1107.24 528.49 1103.55 517.45 1098.99 505.46 1093.47 492.84 1086.96 479.83 1079.43 466.71 1070.9 453.68 1061.37 440.95 1050.9 428.69 1039.56 417.04 1027.43 406.14 1014.63 396.09 1001.29 386.95 987.58 378.77 973.66 371.59 959.74 365.41 946.06 360.2 932.84 355.91 920.36 352.47 908.92 349.79 898.81 347.73 890.39 A168.84 168.84 0 0 1 350.24 889.81 L352.16 898.26 354.7 908.4 357.97 919.88 362.08 932.38 367.11 945.63 373.11 959.33 380.11 973.26 388.11 987.17 397.1 1000.87 407.01 1014.18 417.79 1026.95 429.32 1039.02 441.5 1050.31 454.16 1060.7 467.14 1070.15 480.24 1078.6 493.22 1086.03 505.85 1092.45 517.85 1097.87 528.91 1102.35 538.72 1105.95 546.91 1108.77Z" fill="#a758a8" stroke="#a758a8" stroke-width="0.65" stroke-linejoin="round"/>
<path d="M542.18 1121.11 A168.84 168.84 0 0 1 541.42 1122.87 L533.5 1119.33 524.02 1114.87 513.3 1109.44 501.66 1103 489.36 1095.53 476.67 1087.05 463.84 1077.57 451.06 1067.14 438.54 1055.81 426.45 1043.68 414.92 1030.83 404.08 1017.4 394.03 1003.52 384.84 989.36 376.58 975.08 369.27 960.9 362.92 947.02 357.51 933.69 353.01 921.17 349.36 909.72 346.47 899.65 344.24 891.27 A168.84 168.84 0 0 1 347.73 890.39 L349.78 898.82 352.46 908.94 355.88 920.44 360.13 933.01 365.28 946.38 371.38 960.29 378.45 974.5 386.48 988.78 395.45 1002.93 405.31 1016.79 415.98 1030.18 427.37 1042.96 439.35 1055.02 451.78 1066.26 464.5 1076.59 477.3 1085.96 489.98 1094.33 502.28 1101.67 513.95 1107.99 524.71 1113.31 534.23 1117.66 542.18 1121.11Z" fill="#11a674" stroke="#11a674" stroke-width="0.65" stroke-linejoin="round"/>
<path d="M541.42 1122.87 A168.84 168.84 0 0 1 540.72 1124.43 L532.81 1120.87 523.16 1116.72 511.93 1112.24 499.3 1107.66 485.42 1103.18 470.48 1098.98 454.64 1095.2 438.08 1091.97 420.96 1089.39 403.46 1087.54 385.75 1086.45 368.01 1086.14 350.42 1086.62 333.15 1087.85 316.38 1089.77 300.29 1092.29 285.07 1095.31 270.89 1098.69 257.94 1102.27 246.39 1105.85 236.44 1109.23 228.28 1112.16 A168.84 168.84 0 0 1 227.21 1109.14 L235.44 1106.36 245.45 1103.17 257.07 1099.78 270.11 1096.41 284.38 1093.24 299.7 1090.42 315.88 1088.08 332.75 1086.34 350.12 1085.26 367.82 1084.9 385.66 1085.3 403.47 1086.46 421.06 1088.36 438.27 1090.95 454.93 1094.16 470.85 1097.9 485.86 1102.05 499.8 1106.45 512.49 1110.94 523.77 1115.33 533.47 1119.39 541.42 1122.87Z" fill="#11a674" stroke="#11a674" stroke-width="0.65" stroke-linejoin="round"/>
<path d="M540.72 1124.43 A168.84 168.84 0 0 1 540.27 1125.42 L532.38 1121.77 522.79 1117.29 511.67 1112.03 499.23 1106.04 485.63 1099.39 471.06 1092.13 455.7 1084.34 439.74 1076.09 423.33 1067.46 406.66 1058.51 389.89 1049.36 373.2 1040.07 356.74 1030.74 340.68 1021.48 325.17 1012.38 310.39 1003.55 296.48 995.11 283.6 987.16 271.89 979.83 261.51 973.24 252.6 967.52 245.3 962.8 A168.84 168.84 0 0 1 246.43 961.08 L253.67 965.88 262.51 971.71 272.82 978.41 284.45 985.86 297.25 993.92 311.09 1002.48 325.8 1011.41 341.23 1020.6 357.23 1029.95 373.64 1039.34 390.29 1048.68 407.02 1057.87 423.67 1066.82 440.06 1075.46 456.03 1083.69 471.39 1091.45 485.97 1098.67 499.58 1105.27 512.05 1111.2 523.19 1116.4 532.81 1120.83 540.72 1124.43Z" fill="#11a674" stroke="#11a674" stroke-width="0.65" stroke-linejoin="round"/>
<path d="M534.88 1136.07 A168.84 168.84 0 0 1 533.95 1137.74 L526.38 1133.5 517.15 1128.55 506.39 1123.2 494.28 1117.71 480.95 1112.31 466.58 1107.22 451.33 1102.6 435.34 1098.61 418.8 1095.37 401.86 1092.95 384.69 1091.42 367.47 1090.79 350.36 1091.08 333.54 1092.23 317.18 1094.19 301.47 1096.86 286.57 1100.12 272.68 1103.81 259.97 1107.75 248.63 1111.72 238.85 1115.47 230.82 1118.73 A168.84 168.84 0 0 1 229.44 1115.28 L237.55 1112.19 247.42 1108.65 258.85 1104.91 271.67 1101.21 285.68 1097.76 300.7 1094.73 316.54 1092.27 333.03 1090.51 349.98 1089.53 367.23 1089.4 384.58 1090.14 401.88 1091.75 418.94 1094.23 435.61 1097.49 451.7 1101.47 467.07 1106.05 481.54 1111.09 494.95 1116.41 507.15 1121.81 517.97 1127.06 527.27 1131.91 534.88 1136.07Z" fill="#6a5fb5" stroke="#6a5fb5" stroke-width="0.65" stroke-linejoin="round"/>
<path d="M533.95 1137.74 A168.84 168.84 0 0 1 533.23 1139 L525.7 1134.65 516.53 1129.35 505.89 1123.19 493.93 1116.25 480.83 1108.63 466.74 1100.41 451.85 1091.71 436.31 1082.6 420.29 1073.18 403.96 1063.55 387.47 1053.81 370.99 1044.04 354.69 1034.36 338.73 1024.85 323.26 1015.61 308.46 1006.74 294.49 998.35 281.5 990.54 269.66 983.39 259.14 977.03 250.08 971.54 242.65 967.03 A168.84 168.84 0 0 1 244.14 964.62 L251.49 969.25 260.46 974.88 270.89 981.41 282.63 988.71 295.51 996.7 309.39 1005.25 324.09 1014.26 339.47 1023.63 355.36 1033.26 371.6 1043.05 388.02 1052.89 404.47 1062.69 420.79 1072.35 436.8 1081.77 452.34 1090.87 467.25 1099.54 481.35 1107.71 494.49 1115.27 506.49 1122.14 517.18 1128.23 526.39 1133.46 533.95 1137.74Z" fill="#6a5fb5" stroke="#6a5fb5" stroke-width="0.65" stroke-linejoin="round"/>
<path d="M533.23 1139 A168.84 168.84 0 0 1 532.7 1139.91 L525.23 1135.5 516.31 1130 506.26 1123.39 495.38 1115.68 483.96 1106.88 472.24 1097.02 460.46 1086.17 448.83 1074.37 437.53 1061.72 426.71 1048.32 416.51 1034.29 407.05 1019.75 398.39 1004.86 390.62 989.78 383.75 974.71 377.82 959.83 372.8 945.37 368.66 931.55 365.34 918.64 362.76 906.89 360.81 896.59 359.35 888.04 A168.84 168.84 0 0 1 361.38 887.72 L362.74 896.28 364.57 906.6 367.01 918.37 370.19 931.3 374.18 945.12 379.05 959.59 384.85 974.47 391.58 989.54 399.23 1004.6 407.78 1019.47 417.15 1033.98 427.27 1047.98 438.03 1061.33 449.29 1073.93 460.89 1085.67 472.66 1096.46 484.37 1106.25 495.81 1114.99 506.71 1122.64 516.79 1129.18 525.74 1134.63 533.23 1139Z" fill="#6a5fb5" stroke="#6a5fb5" stroke-width="0.65" stroke-linejoin="round"/>
<path d="M526.43 1149.8 A168.84 168.84 0 0 1 525.62 1150.98 L518.51 1146.01 510.01 1139.83 500.39 1132.48 489.95 1123.98 478.93 1114.36 467.58 1103.7 456.1 1092.04 444.69 1079.49 433.51 1066.14 422.73 1052.1 412.46 1037.5 402.83 1022.47 393.92 1007.18 385.78 991.78 378.49 976.47 372.05 961.43 366.47 946.89 361.74 933.05 357.82 920.17 354.65 908.49 352.16 898.28 350.24 889.81 A168.84 168.84 0 0 1 352.69 889.29 L354.49 897.77 356.83 908.02 359.84 919.73 363.59 932.64 368.14 946.5 373.55 961.06 379.82 976.11 386.97 991.42 394.96 1006.8 403.75 1022.08 413.28 1037.07 423.46 1051.63 434.18 1065.62 445.32 1078.91 456.71 1091.39 468.18 1102.97 479.55 1113.55 490.6 1123.09 501.08 1131.51 510.73 1138.78 519.29 1144.89 526.43 1149.8Z" fill="#02bcbe" stroke="#02bcbe" stroke-width="0.65" stroke-linejoin="round"/>
<path d="M525.62 1150.98 A168.84 168.84 0 0 1 524.86 1152.06 L517.76 1147.09 509.07 1141.24 498.9 1134.82 487.39 1128.12 474.67 1121.39 460.87 1114.83 446.14 1108.65 430.61 1103.01 414.45 1098.03 397.81 1093.83 380.85 1090.46 363.74 1087.99 346.65 1086.41 329.76 1085.72 313.24 1085.88 297.29 1086.8 282.09 1088.38 267.85 1090.5 254.77 1092.98 243.05 1095.64 232.9 1098.27 224.55 1100.59 A168.84 168.84 0 0 1 223.94 1098.37 L232.32 1096.16 242.51 1093.67 254.27 1091.15 267.41 1088.82 281.71 1086.86 296.96 1085.42 312.98 1084.64 329.57 1084.62 346.53 1085.42 363.7 1087.09 380.89 1089.64 397.93 1093.06 414.65 1097.3 430.88 1102.29 446.48 1107.92 461.29 1114.08 475.16 1120.59 487.95 1127.28 499.52 1133.92 509.74 1140.27 518.48 1146.06 525.62 1150.98Z" fill="#02bcbe" stroke="#02bcbe" stroke-width="0.65" stroke-linejoin="round"/>
<path d="M524.86 1152.06 A168.84 168.84 0 0 1 524.15 1153.06 L517.09 1148 508.48 1141.84 498.46 1134.7 487.17 1126.71 474.78 1117.99 461.42 1108.66 447.26 1098.82 432.44 1088.59 417.11 1078.1 401.44 1067.44 385.57 1056.72 369.67 1046.06 353.89 1035.55 338.4 1025.31 323.35 1015.43 308.9 1006.01 295.22 997.15 282.47 988.96 270.82 981.51 260.44 974.91 251.49 969.25 244.14 964.62 A168.84 168.84 0 0 1 245.3 962.8 L252.59 967.53 261.47 973.3 271.78 980.01 283.35 987.58 296.02 995.9 309.62 1004.88 324 1014.41 338.99 1024.39 354.44 1034.72 370.17 1045.3 386.04 1056.02 401.89 1066.77 417.55 1077.45 432.88 1087.95 447.72 1098.16 461.9 1107.97 475.29 1117.27 487.72 1125.94 499.05 1133.87 509.11 1140.95 517.77 1147.05 524.86 1152.06Z" fill="#02bcbe" stroke="#02bcbe" stroke-width="0.65" stroke-linejoin="round"/>
<path d="M517.89 1161.25 A168.84 168.84 0 0 1 516.7 1162.69 L510.05 1157.11 502.05 1150.23 492.96 1142.11 483.01 1132.79 472.43 1122.36 461.41 1110.9 450.15 1098.49 438.81 1085.24 427.56 1071.26 416.54 1056.69 405.87 1041.65 395.68 1026.29 386.04 1010.76 377.05 995.24 368.76 979.9 361.23 964.92 354.5 950.52 348.57 936.89 343.46 924.26 339.14 912.85 335.6 902.92 332.79 894.7 A168.84 168.84 0 0 1 336.83 893.39 L339.43 901.67 342.73 911.68 346.77 923.17 351.6 935.89 357.24 949.59 363.69 964.07 370.94 979.11 378.97 994.5 387.73 1010.05 397.16 1025.6 407.18 1040.96 417.7 1055.99 428.61 1070.53 439.78 1084.46 451.07 1097.64 462.31 1109.98 473.34 1121.36 483.96 1131.7 493.96 1140.92 503.11 1148.96 511.17 1155.75 517.89 1161.25Z" fill="#027f80" stroke="#027f80" stroke-width="0.65" stroke-linejoin="round"/>
<path d="M516.7 1162.69 A168.84 168.84 0 0 1 515.82 1163.74 L509.18 1158.17 501.04 1151.61 491.5 1144.43 480.67 1136.93 468.65 1129.38 455.58 1122.05 441.57 1115.13 426.77 1108.81 411.31 1103.24 395.34 1098.53 379.01 1094.76 362.48 1091.99 345.92 1090.22 329.51 1089.45 313.41 1089.62 297.83 1090.65 282.94 1092.43 268.95 1094.8 256.07 1097.58 244.5 1100.56 234.48 1103.5 226.21 1106.1 A168.84 168.84 0 0 1 225.29 1103.13 L233.6 1100.67 243.69 1097.92 255.32 1095.13 268.28 1092.56 282.35 1090.4 297.32 1088.83 313 1088 329.19 1088.01 345.71 1088.95 362.37 1090.86 379 1093.75 395.43 1097.62 411.5 1102.4 427.06 1108.01 441.96 1114.36 456.06 1121.27 469.22 1128.59 481.31 1136.1 492.22 1143.55 501.82 1150.68 510.02 1157.17 516.7 1162.69Z" fill="#027f80" stroke="#027f80" stroke-width="0.65" stroke-linejoin="round"/>
<path d="M515.82 1163.74 A168.84 168.84 0 0 1 515.47 1164.15 L508.86 1158.51 500.79 1151.65 491.39 1143.71 480.8 1134.82 469.17 1125.12 456.62 1114.72 443.3 1103.77 429.36 1092.38 414.93 1080.69 400.16 1068.81 385.2 1056.87 370.19 1044.98 355.29 1033.27 340.64 1021.85 326.41 1010.83 312.73 1000.32 299.78 990.44 287.69 981.3 276.65 972.99 266.79 965.62 258.29 959.3 251.31 954.13 A168.84 168.84 0 0 1 252.04 953.15 L258.99 958.37 267.44 964.75 277.25 972.18 288.25 980.56 300.28 989.77 313.18 999.72 326.81 1010.29 341.01 1021.37 355.61 1032.84 370.48 1044.6 385.47 1056.52 400.41 1068.49 415.17 1080.39 429.59 1092.09 443.54 1103.48 456.86 1114.43 469.42 1124.81 481.07 1134.5 491.68 1143.37 501.1 1151.29 509.19 1158.12 515.82 1163.74Z" fill="#027f80" stroke="#027f80" stroke-width="0.65" stroke-linejoin="round" fill-opacity="0.4"/>
<path d="M508.2 1172.15 A168.84 168.84 0 0 1 507.07 1173.3 L500.88 1167.23 493.26 1160.08 484.3 1152.2 474.08 1143.91 462.69 1135.51 450.23 1127.24 436.82 1119.34 422.56 1111.99 407.6 1105.35 392.07 1099.56 376.11 1094.69 359.89 1090.82 343.56 1087.96 327.29 1086.12 311.28 1085.25 295.71 1085.28 280.78 1086.11 266.7 1087.6 253.69 1089.58 241.98 1091.85 231.79 1094.17 223.38 1096.27 A168.84 168.84 0 0 1 222.87 1094.19 L231.31 1092.2 241.52 1090 253.28 1087.87 266.34 1086.03 280.47 1084.68 295.46 1083.99 311.1 1084.08 327.19 1085.07 343.53 1087.01 359.95 1089.95 376.27 1093.89 392.32 1098.79 407.95 1104.61 423.01 1111.25 437.36 1118.58 450.88 1126.45 463.43 1134.67 474.92 1143.02 485.23 1151.24 494.26 1159.06 501.95 1166.14 508.2 1172.15Z" fill="#f9a45c" stroke="#f9a45c" stroke-width="0.65" stroke-linejoin="round"/>
<path d="M507.07 1173.3 A168.84 168.84 0 0 1 506.12 1174.25 L499.98 1168.1 492.47 1160.64 483.69 1152.04 473.76 1142.46 462.78 1132.06 450.87 1120.99 438.17 1109.41 424.79 1097.45 410.86 1085.26 396.53 1072.97 381.92 1060.71 367.19 1048.6 352.49 1036.75 337.95 1025.29 323.75 1014.33 310.04 1003.95 296.98 994.28 284.75 985.38 273.51 977.37 263.45 970.31 254.74 964.29 247.57 959.39 A168.84 168.84 0 0 1 248.59 957.91 L255.71 962.89 264.36 969 274.36 976.15 285.53 984.27 297.7 993.26 310.69 1003.03 324.35 1013.49 338.51 1024.53 353.01 1036.06 367.7 1047.95 382.41 1060.1 397.02 1072.39 411.37 1084.69 425.32 1096.87 438.74 1108.8 451.49 1120.35 463.45 1131.37 474.48 1141.72 484.48 1151.25 493.32 1159.79 500.88 1167.2 507.07 1173.3Z" fill="#f9a45c" stroke="#f9a45c" stroke-width="0.65" stroke-linejoin="round" fill-opacity="0.4"/>
<path d="M506.12 1174.25 A168.84 168.84 0 0 1 505.63 1174.73 L499.56 1168.54 492.31 1160.91 484.18 1151.92 475.43 1141.65 466.28 1130.19 456.97 1117.63 447.67 1104.08 438.57 1089.66 429.82 1074.5 421.54 1058.74 413.83 1042.52 406.8 1026 400.48 1009.35 394.94 992.74 390.17 976.37 386.19 960.43 382.96 945.13 380.44 930.69 378.56 917.32 377.22 905.28 376.31 894.8 375.7 886.14 A168.84 168.84 0 0 1 376.61 886.08 L377.18 894.74 378.03 905.22 379.31 917.27 381.13 930.63 383.59 945.08 386.76 960.38 390.68 976.31 395.39 992.67 400.9 1009.25 407.17 1025.89 414.18 1042.38 421.86 1058.58 430.14 1074.31 438.89 1089.44 447.99 1103.83 457.3 1117.34 466.63 1129.87 475.8 1141.29 484.59 1151.53 492.75 1160.48 500.02 1168.08 506.12 1174.25Z" fill="#f9a45c" stroke="#f9a45c" stroke-width="0.65" stroke-linejoin="round" fill-opacity="0.4"/>
<path d="M497.88 1181.93 A168.84 168.84 0 0 1 496.96 1182.72 L491.29 1176.17 484.29 1168.44 476.01 1159.9 466.52 1150.89 455.88 1141.71 444.18 1132.64 431.5 1123.92 417.96 1115.75 403.67 1108.3 388.75 1101.7 373.35 1096.06 357.61 1091.44 341.69 1087.89 325.76 1085.39 310.02 1083.92 294.64 1083.4 279.84 1083.74 265.83 1084.8 252.84 1086.41 241.11 1088.37 230.89 1090.43 222.43 1092.32 A168.84 168.84 0 0 1 222.02 1090.47 L230.49 1088.67 240.74 1086.72 252.51 1084.89 265.53 1083.41 279.59 1082.48 294.44 1082.26 309.87 1082.9 325.68 1084.48 341.67 1087.07 357.66 1090.71 373.47 1095.4 388.95 1101.09 403.95 1107.72 418.32 1115.19 431.95 1123.37 444.7 1132.08 456.48 1141.12 467.2 1150.27 476.76 1159.23 485.1 1167.73 492.16 1175.42 497.88 1181.93Z" fill="#5b9a2a" stroke="#5b9a2a" stroke-width="0.65" stroke-linejoin="round"/>
<path d="M496.96 1182.72 A168.84 168.84 0 0 1 496.09 1183.46 L490.5 1176.82 483.82 1168.66 476.3 1159.08 468.16 1148.18 459.62 1136.07 450.86 1122.86 442.06 1108.67 433.37 1093.64 424.94 1077.9 416.87 1061.6 409.27 1044.9 402.23 1027.96 395.79 1010.96 390.02 994.06 384.93 977.46 380.54 961.35 376.84 945.94 373.79 931.43 371.36 918.05 369.47 906.02 368.05 895.57 367 886.95 A168.84 168.84 0 0 1 368.79 886.75 L369.75 895.38 371.06 905.83 372.83 917.87 375.14 931.27 378.07 945.78 381.65 961.19 385.93 977.3 390.91 993.89 396.59 1010.77 402.95 1027.75 409.94 1044.67 417.49 1061.33 425.53 1077.59 433.96 1093.28 442.65 1108.27 451.47 1122.41 460.26 1135.57 468.84 1147.63 477.03 1158.47 484.6 1168 491.33 1176.11 496.96 1182.72Z" fill="#5b9a2a" stroke="#5b9a2a" stroke-width="0.65" stroke-linejoin="round" fill-opacity="0.4"/>
<path d="M496.09 1183.46 A168.84 168.84 0 0 1 495.26 1184.16 L489.68 1177.5 482.83 1169.44 474.8 1160.15 465.66 1149.83 455.52 1138.66 444.47 1126.81 432.61 1114.44 420.06 1101.7 406.94 1088.76 393.36 1075.75 379.46 1062.82 365.38 1050.09 351.25 1037.68 337.22 1025.72 323.45 1014.32 310.11 1003.57 297.34 993.58 285.34 984.44 274.28 976.23 264.33 969.02 255.71 962.9 248.59 957.91 A168.84 168.84 0 0 1 249.59 956.5 L256.65 961.56 265.22 967.77 275.1 975.06 286.1 983.37 298.04 992.61 310.74 1002.7 324.04 1013.53 337.76 1025.02 351.75 1037.05 365.85 1049.51 379.92 1062.29 393.82 1075.26 407.4 1088.29 420.54 1101.24 433.12 1113.97 445.01 1126.32 456.11 1138.15 466.3 1149.29 475.49 1159.56 483.57 1168.81 490.47 1176.84 496.09 1183.46Z" fill="#5b9a2a" stroke="#5b9a2a" stroke-width="0.65" stroke-linejoin="round" fill-opacity="0.4"/>
<path d="M486.69 1190.86 A168.84 168.84 0 0 1 485.51 1191.72 L480.46 1184.66 474.42 1176 467.6 1165.86 460.2 1154.36 452.4 1141.63 444.38 1127.79 436.29 1112.99 428.26 1097.37 420.42 1081.07 412.87 1064.26 405.71 1047.09 399.01 1029.73 392.84 1012.37 387.23 995.17 382.23 978.33 377.84 962.04 374.07 946.5 370.89 931.92 368.29 918.49 366.2 906.46 364.58 896.02 363.34 887.43 A168.84 168.84 0 0 1 365.2 887.18 L366.34 895.78 367.85 906.23 369.82 918.28 372.3 931.71 375.35 946.31 379 961.85 383.28 978.14 388.19 994.97 393.71 1012.15 399.82 1029.49 406.47 1046.81 413.61 1063.94 421.14 1080.71 428.99 1096.96 437.05 1112.53 445.18 1127.27 453.25 1141.05 461.11 1153.72 468.58 1165.16 475.47 1175.24 481.58 1183.84 486.69 1190.86Z" fill="#a6c1dd" stroke="#a6c1dd" stroke-width="0.65" stroke-linejoin="round" fill-opacity="0.4"/>
<path d="M485.51 1191.72 A168.84 168.84 0 0 1 484.64 1192.34 L479.6 1185.29 473.34 1176.95 465.9 1167.69 457.28 1157.86 447.54 1147.77 436.73 1137.71 424.92 1127.91 412.21 1118.59 398.68 1109.94 384.45 1102.09 369.65 1095.17 354.42 1089.25 338.92 1084.38 323.32 1080.58 307.8 1077.82 292.56 1076.05 277.81 1075.19 263.79 1075.12 250.73 1075.68 238.89 1076.69 228.54 1077.93 219.96 1079.15 A168.84 168.84 0 0 1 219.76 1077.8 L228.35 1076.65 238.72 1075.49 250.58 1074.57 263.66 1074.1 277.71 1074.27 292.48 1075.22 307.76 1077.07 323.33 1079.91 338.98 1083.79 354.53 1088.71 369.82 1094.68 384.68 1101.64 398.97 1109.51 412.57 1118.17 425.36 1127.49 437.24 1137.27 448.11 1147.32 457.92 1157.38 466.6 1167.18 474.11 1176.4 480.42 1184.71 485.51 1191.72Z" fill="#a6c1dd" stroke="#a6c1dd" stroke-width="0.65" stroke-linejoin="round" fill-opacity="0.4"/>
<path d="M484.64 1192.34 A168.84 168.84 0 0 1 484 1192.79 L479 1185.69 472.84 1177.09 465.6 1167.18 457.33 1156.18 448.11 1144.26 438.01 1131.61 427.14 1118.41 415.58 1104.83 403.43 1091.02 390.82 1077.14 377.85 1063.34 364.66 1049.75 351.37 1036.51 338.14 1023.75 325.1 1011.57 312.41 1000.1 300.24 989.44 288.76 979.68 278.15 970.91 268.59 963.22 260.27 956.68 253.41 951.36 A168.84 168.84 0 0 1 254.03 950.56 L260.87 955.92 269.14 962.51 278.66 970.25 289.24 979.07 300.68 988.89 312.81 999.6 325.47 1011.12 338.48 1023.34 351.7 1036.14 364.98 1049.41 378.17 1063.02 391.14 1076.84 403.77 1090.73 415.93 1104.54 427.52 1118.12 438.43 1131.3 448.56 1143.93 457.82 1155.83 466.13 1166.8 473.42 1176.68 479.61 1185.26 484.64 1192.34Z" fill="#a6c1dd" stroke="#a6c1dd" stroke-width="0.65" stroke-linejoin="round" fill-opacity="0.4"/>
<path d="M474.7 1198.87 A168.84 168.84 0 0 1 473.38 1199.67 L468.91 1192.22 463.39 1183.23 456.81 1172.94 449.2 1161.6 440.61 1149.42 431.09 1136.61 420.7 1123.36 409.51 1109.87 397.62 1096.31 385.13 1082.83 372.14 1069.59 358.78 1056.72 345.2 1044.34 331.53 1032.57 317.95 1021.51 304.61 1011.23 291.72 1001.82 279.46 993.34 268.05 985.83 257.71 979.34 248.67 973.89 241.18 969.5 A168.84 168.84 0 0 1 242.65 967.03 L250.06 971.56 259.01 977.15 269.26 983.81 280.58 991.49 292.74 1000.14 305.55 1009.73 318.81 1020.17 332.33 1031.39 345.95 1043.3 359.5 1055.8 372.84 1068.78 385.82 1082.1 398.34 1095.64 410.26 1109.25 421.5 1122.76 431.95 1136.01 441.55 1148.81 450.21 1160.97 457.9 1172.27 464.57 1182.52 470.17 1191.46 474.7 1198.87Z" fill="#fdf0e6" stroke="#fdf0e6" stroke-width="0.65" stroke-linejoin="round"/>
<path d="M473.38 1199.67 A168.84 168.84 0 0 1 472.52 1200.17 L468.1 1192.73 462.59 1183.93 455.97 1174.18 448.26 1163.86 439.46 1153.31 429.61 1142.84 418.77 1132.69 407 1123.11 394.38 1114.29 381.02 1106.38 367.04 1099.5 352.56 1093.72 337.74 1089.11 322.73 1085.65 307.74 1083.33 292.94 1082.07 278.57 1081.78 264.84 1082.31 252.01 1083.5 240.34 1085.11 230.11 1086.92 221.63 1088.62 A168.84 168.84 0 0 1 221.27 1086.83 L229.78 1085.22 240.03 1083.53 251.72 1082.03 264.59 1080.97 278.35 1080.57 292.77 1080.99 307.62 1082.36 322.67 1084.8 337.73 1088.36 352.62 1093.07 367.16 1098.93 381.22 1105.87 394.65 1113.84 407.34 1122.7 419.18 1132.3 430.1 1142.45 440.02 1152.92 448.89 1163.46 456.67 1173.76 463.34 1183.48 468.91 1192.25 473.38 1199.67Z" fill="#fdf0e6" stroke="#fdf0e6" stroke-width="0.65" stroke-linejoin="round" fill-opacity="0.4"/>
<path d="M472.52 1200.17 A168.84 168.84 0 0 1 471.91 1200.53 L467.56 1193.02 462.36 1183.82 456.51 1173.08 450.18 1160.93 443.53 1147.52 436.72 1132.98 429.89 1117.49 423.14 1101.18 416.59 1084.23 410.34 1066.79 404.45 1049.04 398.99 1031.16 394.01 1013.31 389.55 995.7 385.62 978.49 382.24 961.9 379.39 946.1 377.05 931.32 375.19 917.75 373.76 905.6 372.68 895.09 371.88 886.44 A168.84 168.84 0 0 1 373.2 886.33 L373.93 894.98 374.92 905.5 376.27 917.65 378.04 931.23 380.29 946.02 383.05 961.81 386.35 978.41 390.2 995.61 394.6 1013.22 399.52 1031.05 404.93 1048.93 410.79 1066.66 417.02 1084.08 423.56 1101.01 430.31 1117.29 437.16 1132.76 443.99 1147.27 450.66 1160.66 457.02 1172.78 462.91 1183.5 468.14 1192.67 472.52 1200.17Z" fill="#fdf0e6" stroke="#fdf0e6" stroke-width="0.65" stroke-linejoin="round" fill-opacity="0.4"/>
<path d="M462.73 1205.5 A168.84 168.84 0 0 1 461.45 1206.14 L457.6 1198.39 452.77 1189.27 446.93 1179.21 440.07 1168.64 432.19 1157.93 423.3 1147.4 413.45 1137.35 402.68 1128.01 391.06 1119.59 378.69 1112.26 365.67 1106.12 352.12 1101.25 338.18 1097.69 324.01 1095.44 309.79 1094.42 295.71 1094.57 281.99 1095.73 268.84 1097.73 256.52 1100.36 245.28 1103.34 235.41 1106.39 227.21 1109.14 A168.84 168.84 0 0 1 226.21 1106.1 L234.46 1103.51 244.39 1100.65 255.7 1097.87 268.11 1095.46 281.35 1093.67 295.18 1092.73 309.37 1092.8 323.71 1094.02 337.99 1096.46 352.06 1100.19 365.74 1105.2 378.89 1111.46 391.39 1118.9 403.14 1127.4 414.04 1136.79 424.02 1146.87 433.02 1157.41 441.01 1168.12 447.97 1178.67 453.9 1188.7 458.81 1197.79 462.73 1205.5Z" fill="#4a8fd0" stroke="#4a8fd0" stroke-width="0.65" stroke-linejoin="round"/>
<path d="M461.45 1206.14 A168.84 168.84 0 0 1 460.53 1206.59 L456.75 1198.76 452.22 1189.2 447.06 1178.06 441.41 1165.49 435.39 1151.65 429.12 1136.7 422.7 1120.81 416.24 1104.13 409.81 1086.85 403.51 1069.13 397.39 1051.15 391.54 1033.08 386 1015.11 380.81 997.41 376.03 980.18 371.67 963.61 367.76 947.88 364.3 933.19 361.32 919.73 358.79 907.72 356.71 897.34 355.05 888.81 A168.84 168.84 0 0 1 357.32 888.39 L358.86 896.94 360.8 907.34 363.18 919.38 366.01 932.86 369.3 947.58 373.06 963.34 377.27 979.93 381.92 997.18 386.99 1014.88 392.42 1032.86 398.19 1050.93 404.24 1068.91 410.5 1086.62 416.9 1103.89 423.35 1120.54 429.78 1136.41 436.08 1151.33 442.13 1165.14 447.83 1177.69 453.04 1188.8 457.63 1198.33 461.45 1206.14Z" fill="#4a8fd0" stroke="#4a8fd0" stroke-width="0.65" stroke-linejoin="round"/>
<path d="M460.53 1206.59 A168.84 168.84 0 0 1 459.87 1206.9 L456.1 1199.08 451.41 1189.62 445.79 1178.78 439.25 1166.8 431.8 1153.88 423.48 1140.26 414.33 1126.12 404.42 1111.67 393.81 1097.08 382.59 1082.52 370.86 1068.15 358.74 1054.11 346.34 1040.55 333.8 1027.58 321.28 1015.32 308.94 1003.86 296.96 993.31 285.52 983.74 274.85 975.23 265.14 967.82 256.64 961.56 249.59 956.5 A168.84 168.84 0 0 1 250.55 955.17 L257.55 960.3 266 966.63 275.64 974.13 286.25 982.74 297.62 992.41 309.54 1003.06 321.83 1014.6 334.3 1026.95 346.79 1040 359.16 1053.64 371.27 1067.74 382.99 1082.16 394.2 1096.76 404.82 1111.39 414.75 1125.86 423.92 1140 432.27 1153.63 439.75 1166.54 446.34 1178.52 452 1189.34 456.73 1198.78 460.53 1206.59Z" fill="#4a8fd0" stroke="#4a8fd0" stroke-width="0.65" stroke-linejoin="round" fill-opacity="0.4"/>
<path d="M450.49 1211.04 A168.84 168.84 0 0 1 449.44 1211.47 L446.2 1203.45 442.1 1193.98 437.06 1183.51 431.05 1172.45 424.03 1161.19 416 1150.04 406.97 1139.29 396.97 1129.21 386.07 1119.99 374.32 1111.8 361.84 1104.76 348.74 1098.97 335.15 1094.45 321.24 1091.23 307.18 1089.25 293.17 1088.43 279.43 1088.67 266.2 1089.78 253.75 1091.57 242.35 1093.8 232.3 1096.18 223.94 1098.37 A168.84 168.84 0 0 1 223.38 1096.27 L231.78 1094.18 241.86 1091.93 253.3 1089.84 265.81 1088.2 279.09 1087.24 292.89 1087.16 306.97 1088.12 321.11 1090.24 335.1 1093.6 348.78 1098.23 361.97 1104.13 374.54 1111.25 386.38 1119.51 397.38 1128.79 407.47 1138.91 416.6 1149.68 424.72 1160.84 431.83 1172.1 437.92 1183.15 443.03 1193.6 447.2 1203.05 450.49 1211.04Z" fill="#e0595f" stroke="#e0595f" stroke-width="0.65" stroke-linejoin="round"/>
<path d="M449.44 1211.47 A168.84 168.84 0 0 1 448.46 1211.85 L445.27 1203.78 441.27 1194.03 436.41 1182.88 430.67 1170.57 424.05 1157.34 416.54 1143.43 408.17 1129.04 398.99 1114.38 389.06 1099.62 378.44 1084.95 367.22 1070.53 355.52 1056.5 343.45 1043.01 331.15 1030.16 318.77 1018.07 306.49 1006.83 294.5 996.53 282.99 987.24 272.18 979.01 262.32 971.89 253.64 965.91 246.43 961.08 A168.84 168.84 0 0 1 247.57 959.39 L254.73 964.3 263.33 970.39 273.12 977.63 283.85 985.97 295.29 995.39 307.22 1005.81 319.44 1017.16 331.76 1029.36 344.02 1042.31 356.06 1055.91 367.75 1070.01 378.97 1084.5 389.6 1099.23 399.56 1114.02 408.77 1128.71 417.18 1143.12 424.74 1157.03 431.42 1170.25 437.23 1182.55 442.15 1193.68 446.2 1203.41 449.44 1211.47Z" fill="#e0595f" stroke="#e0595f" stroke-width="0.65" stroke-linejoin="round"/>
<path d="M448.46 1211.85 A168.84 168.84 0 0 1 447.65 1212.17 L444.54 1204.06 440.81 1194.15 436.6 1182.62 432.01 1169.62 427.16 1155.33 422.15 1139.92 417.07 1123.54 412.01 1106.39 407.03 1088.64 402.21 1070.46 397.61 1052.03 393.27 1033.54 389.23 1015.17 385.52 997.1 382.17 979.54 379.19 962.66 376.59 946.66 374.36 931.73 372.49 918.08 370.96 905.89 369.74 895.38 368.79 886.75 A168.84 168.84 0 0 1 370.45 886.58 L371.31 895.22 372.43 905.74 373.85 917.94 375.61 931.6 377.73 946.53 380.22 962.54 383.09 979.43 386.35 996.99 389.97 1015.06 393.94 1033.42 398.23 1051.91 402.79 1070.33 407.58 1088.49 412.55 1106.24 417.62 1123.37 422.71 1139.72 427.75 1155.12 432.64 1169.39 437.27 1182.36 441.53 1193.87 445.31 1203.76 448.46 1211.85Z" fill="#e0595f" stroke="#e0595f" stroke-width="0.65" stroke-linejoin="round" fill-opacity="0.4"/>
<path d="M438.22 1215.48 A168.84 168.84 0 0 1 436.49 1216.02 L433.92 1207.77 430.6 1198.03 426.46 1187.27 421.4 1175.93 415.38 1164.38 408.37 1152.98 400.36 1142.02 391.36 1131.75 381.41 1122.4 370.58 1114.14 358.94 1107.09 346.62 1101.33 333.73 1096.92 320.43 1093.84 306.89 1092.06 293.33 1091.49 279.95 1091.99 267 1093.4 254.76 1095.5 243.52 1098.03 233.58 1100.69 225.29 1103.13 A168.84 168.84 0 0 1 224.55 1100.59 L232.88 1098.28 242.86 1095.78 254.17 1093.42 266.48 1091.5 279.5 1090.28 292.97 1089.95 306.64 1090.7 320.29 1092.65 333.71 1095.89 346.73 1100.44 359.19 1106.32 370.97 1113.47 381.95 1121.82 392.05 1131.24 401.2 1141.54 409.36 1152.53 416.52 1163.95 422.68 1175.49 427.87 1186.81 432.13 1197.55 435.55 1207.26 438.22 1215.48Z" fill="#a758a8" stroke="#a758a8" stroke-width="0.65" stroke-linejoin="round"/>
<path d="M436.49 1216.02 A168.84 168.84 0 0 1 435.95 1216.18 L433.41 1207.88 430.19 1197.85 426.22 1186.34 421.47 1173.61 415.91 1159.89 409.54 1145.41 402.35 1130.38 394.38 1115 385.67 1099.46 376.28 1083.95 366.28 1068.63 355.76 1053.66 344.85 1039.17 333.66 1025.32 322.34 1012.2 311.05 999.95 299.98 988.65 289.3 978.39 279.24 969.26 270.03 961.3 261.91 954.58 255.15 949.14 A168.84 168.84 0 0 1 255.67 948.5 L262.41 953.97 270.49 960.73 279.67 968.73 289.7 977.91 300.34 988.21 311.39 999.56 322.65 1011.86 333.95 1025.01 345.13 1038.91 356.03 1053.42 366.54 1068.43 376.54 1083.77 385.95 1099.31 394.68 1114.86 402.67 1130.24 409.88 1145.28 416.29 1159.76 421.88 1173.48 426.67 1186.2 430.67 1197.7 433.92 1207.73 436.49 1216.02Z" fill="#a758a8" stroke="#a758a8" stroke-width="0.65" stroke-linejoin="round" fill-opacity="0.4"/>
<path d="M435.95 1216.18 A168.84 168.84 0 0 1 435.42 1216.34 L432.94 1208.02 429.97 1197.86 426.63 1186.04 423 1172.73 419.19 1158.12 415.27 1142.37 411.32 1125.66 407.42 1108.18 403.61 1090.11 399.96 1071.62 396.51 1052.91 393.29 1034.15 390.34 1015.54 387.67 997.27 385.3 979.51 383.23 962.47 381.47 946.34 380.01 931.3 378.82 917.56 377.88 905.31 377.16 894.75 376.61 886.08 A168.84 168.84 0 0 1 377.42 886.03 L377.93 894.71 378.6 905.27 379.49 917.52 380.62 931.26 382.04 946.3 383.74 962.43 385.76 979.47 388.09 997.23 390.72 1015.5 393.65 1034.11 396.84 1052.85 400.29 1071.56 403.93 1090.04 407.74 1108.1 411.66 1125.57 415.63 1142.27 419.57 1158.01 423.41 1172.61 427.07 1185.91 430.45 1197.72 433.45 1207.87 435.95 1216.18Z" fill="#a758a8" stroke="#a758a8" stroke-width="0.65" stroke-linejoin="round" fill-opacity="0.4"/>
<path d="M425.47 1219 A168.84 168.84 0 0 1 424.2 1219.29 L422.29 1210.81 419.97 1200.48 417.29 1188.47 414.31 1174.97 411.08 1160.16 407.64 1144.23 404.04 1127.36 400.32 1109.74 396.52 1091.55 392.7 1072.99 388.88 1054.22 385.11 1035.45 381.42 1016.85 377.85 998.62 374.44 980.93 371.21 963.99 368.19 947.97 365.42 933.07 362.92 919.48 360.72 907.37 358.85 896.95 357.32 888.39 A168.84 168.84 0 0 1 359.35 888.04 L360.78 896.61 362.53 907.06 364.6 919.19 366.96 932.81 369.6 947.73 372.48 963.77 375.59 980.73 378.9 998.43 382.37 1016.67 385.99 1035.28 389.71 1054.06 393.49 1072.83 397.3 1091.39 401.1 1109.57 404.85 1127.18 408.49 1144.04 411.99 1159.95 415.29 1174.74 418.35 1188.23 421.1 1200.22 423.49 1210.54 425.47 1219Z" fill="#11a674" stroke="#11a674" stroke-width="0.65" stroke-linejoin="round"/>
<path d="M424.2 1219.29 A168.84 168.84 0 0 1 423.17 1219.52 L421.27 1211.08 418.77 1201.1 415.51 1190.02 411.38 1178.26 406.31 1166.19 400.24 1154.16 393.12 1142.46 384.95 1131.35 375.77 1121.04 365.6 1111.7 354.53 1103.47 342.66 1096.46 330.11 1090.7 317.04 1086.23 303.63 1083.02 290.09 1080.99 276.64 1080.05 263.56 1080.05 251.12 1080.81 239.64 1082.1 229.46 1083.66 220.95 1085.18 A168.84 168.84 0 0 1 220.66 1083.53 L229.19 1082.09 239.38 1080.63 250.89 1079.46 263.35 1078.82 276.48 1078.94 289.96 1080 303.56 1082.14 317.02 1085.47 330.16 1090.05 342.77 1095.9 354.72 1103 365.86 1111.3 376.11 1120.7 385.38 1131.07 393.63 1142.22 400.83 1153.95 407 1165.99 412.15 1178.06 416.35 1189.82 419.68 1200.89 422.25 1210.86 424.2 1219.29Z" fill="#11a674" stroke="#11a674" stroke-width="0.65" stroke-linejoin="round" fill-opacity="0.4"/>
<path d="M423.17 1219.52 A168.84 168.84 0 0 1 422.74 1219.61 L420.87 1211.14 418.45 1200.89 415.39 1189.14 411.62 1176.15 407.07 1162.15 401.73 1147.38 395.57 1132.06 388.61 1116.39 380.86 1100.56 372.38 1084.77 363.23 1069.17 353.49 1053.94 343.26 1039.21 332.67 1025.13 321.87 1011.81 311 999.37 300.27 987.9 289.85 977.5 279.99 968.24 270.91 960.19 262.88 953.38 256.17 947.88 A168.84 168.84 0 0 1 256.62 947.33 L263.31 952.86 271.31 959.7 280.36 967.79 290.2 977.09 300.58 987.53 311.29 999.04 322.13 1011.52 332.92 1024.87 343.49 1038.99 353.71 1053.75 363.45 1069.01 372.6 1084.63 381.09 1100.44 388.85 1116.28 395.83 1131.97 402.01 1147.3 407.38 1162.08 411.95 1176.07 415.75 1189.06 418.84 1200.81 421.28 1211.05 423.17 1219.52Z" fill="#11a674" stroke="#11a674" stroke-width="0.65" stroke-linejoin="round" fill-opacity="0.4"/>
<path d="M412.52 1221.5 A168.84 168.84 0 0 1 411.42 1221.66 L410.16 1213.06 408.63 1202.58 406.87 1190.41 404.89 1176.72 402.74 1161.72 400.43 1145.58 398 1128.5 395.49 1110.67 392.9 1092.26 390.28 1073.48 387.65 1054.51 385.04 1035.54 382.47 1016.75 379.96 998.33 377.55 980.48 375.26 963.39 373.1 947.23 371.1 932.2 369.3 918.5 367.69 906.3 366.32 895.79 365.2 887.18 A168.84 168.84 0 0 1 367 886.95 L368.03 895.58 369.3 906.1 370.78 918.31 372.47 932.03 374.34 947.07 376.38 963.24 378.57 980.35 380.89 998.22 383.31 1016.64 385.82 1035.43 388.38 1054.41 390.98 1073.39 393.59 1092.17 396.18 1110.57 398.72 1128.4 401.18 1145.47 403.53 1161.6 405.75 1176.59 407.79 1190.27 409.62 1202.44 411.21 1212.91 412.52 1221.5Z" fill="#6a5fb5" stroke="#6a5fb5" stroke-width="0.65" stroke-linejoin="round" fill-opacity="0.4"/>
<path d="M411.42 1221.66 A168.84 168.84 0 0 1 410.39 1221.81 L409.14 1213.26 407.41 1203.14 405.03 1191.91 401.84 1180 397.74 1167.78 392.65 1155.61 386.51 1143.78 379.3 1132.55 371.02 1122.14 361.7 1112.73 351.41 1104.46 340.25 1097.42 328.32 1091.67 315.79 1087.22 302.82 1084.05 289.64 1082.09 276.47 1081.23 263.59 1081.32 251.29 1082.18 239.89 1083.57 229.76 1085.23 221.27 1086.83 A168.84 168.84 0 0 1 220.95 1085.18 L229.46 1083.66 239.62 1082.1 251.04 1080.82 263.37 1080.08 276.29 1080.11 289.5 1081.1 302.74 1083.18 315.76 1086.47 328.36 1091.03 340.35 1096.88 351.59 1104.01 361.96 1112.36 371.36 1121.84 379.72 1132.3 387.02 1143.58 393.25 1155.44 398.43 1167.63 402.61 1179.86 405.87 1191.78 408.33 1203 410.12 1213.12 411.42 1221.66Z" fill="#6a5fb5" stroke="#6a5fb5" stroke-width="0.65" stroke-linejoin="round" fill-opacity="0.4"/>
<path d="M410.39 1221.81 A168.84 168.84 0 0 1 409.9 1221.88 L408.69 1213.28 407.05 1202.9 404.87 1191.01 402.02 1177.85 398.44 1163.69 394.07 1148.76 388.88 1133.28 382.84 1117.46 375.97 1101.5 368.31 1085.59 359.89 1069.89 350.81 1054.57 341.15 1039.78 331.04 1025.65 320.63 1012.3 310.06 999.85 299.54 988.39 289.28 978 279.49 968.77 270.44 960.74 262.4 953.97 255.67 948.5 A168.84 168.84 0 0 1 256.17 947.88 L262.88 953.38 270.89 960.19 279.9 968.26 289.66 977.54 299.9 987.97 310.39 999.48 320.93 1011.98 331.32 1025.37 341.41 1039.54 351.06 1054.37 360.14 1069.72 368.56 1085.45 376.23 1101.39 383.11 1117.37 389.17 1133.2 394.39 1148.69 398.79 1163.63 402.39 1177.79 405.27 1190.95 407.49 1202.84 409.15 1213.22 410.39 1221.81Z" fill="#6a5fb5" stroke="#6a5fb5" stroke-width="0.65" stroke-linejoin="round" fill-opacity="0.4"/>
<path d="M399.63 1222.96 A168.84 168.84 0 0 1 398.46 1223.05 L397.86 1214.38 397.12 1203.81 396.22 1191.55 395.15 1177.77 393.92 1162.66 392.54 1146.43 390.99 1129.26 389.3 1111.34 387.47 1092.86 385.52 1074.02 383.46 1054.99 381.31 1035.97 379.1 1017.16 376.85 998.73 374.59 980.87 372.34 963.78 370.15 947.63 368.05 932.63 366.08 918.95 364.28 906.78 362.7 896.31 361.38 887.72 A168.84 168.84 0 0 1 363.34 887.43 L364.56 896.03 366.02 906.52 367.69 918.71 369.53 932.41 371.5 947.44 373.56 963.6 375.69 980.71 377.85 998.59 380.01 1017.04 382.15 1035.87 384.24 1054.9 386.27 1073.93 388.2 1092.79 390.04 1111.27 391.75 1129.2 393.33 1146.37 394.77 1162.6 396.06 1177.7 397.19 1191.48 398.16 1203.74 398.98 1214.3 399.63 1222.96Z" fill="#02bcbe" stroke="#02bcbe" stroke-width="0.65" stroke-linejoin="round"/>
<path d="M398.46 1223.05 A168.84 168.84 0 0 1 397.58 1223.11 L396.99 1214.49 396.04 1204.28 394.52 1192.94 392.26 1180.89 389.12 1168.51 384.99 1156.14 379.8 1144.08 373.5 1132.6 366.08 1121.91 357.56 1112.19 347.99 1103.58 337.46 1096.18 326.08 1090.05 314 1085.21 301.4 1081.64 288.49 1079.28 275.51 1078.03 262.74 1077.74 250.49 1078.23 239.1 1079.29 228.93 1080.65 220.4 1082.01 A168.84 168.84 0 0 1 220.17 1080.55 L228.71 1079.26 238.89 1078 250.3 1077.04 262.58 1076.65 275.38 1077.05 288.39 1078.41 301.34 1080.88 313.99 1084.56 326.13 1089.5 337.56 1095.72 348.16 1103.2 357.79 1111.88 366.38 1121.67 373.87 1132.41 380.24 1143.94 385.5 1156.03 389.7 1168.43 392.91 1180.82 395.24 1192.88 396.82 1204.22 397.82 1214.43 398.46 1223.05Z" fill="#02bcbe" stroke="#02bcbe" stroke-width="0.65" stroke-linejoin="round" fill-opacity="0.4"/>
<path d="M397.58 1223.11 A168.84 168.84 0 0 1 397.07 1223.14 L396.52 1214.48 395.66 1204.02 394.34 1192.05 392.42 1178.82 389.8 1164.58 386.4 1149.58 382.14 1134.03 377.02 1118.17 371 1102.17 364.13 1086.24 356.42 1070.54 347.96 1055.23 338.84 1040.46 329.18 1026.37 319.11 1013.08 308.8 1000.69 298.46 989.31 288.29 979 278.54 969.85 269.48 961.91 261.4 955.22 254.62 949.81 A168.84 168.84 0 0 1 255.15 949.14 L261.9 954.58 269.95 961.32 278.98 969.3 288.69 978.5 298.83 988.86 309.14 1000.29 319.42 1012.73 329.47 1026.07 339.12 1040.21 348.23 1055.02 356.68 1070.36 364.39 1086.1 371.27 1102.06 377.3 1118.08 382.45 1133.97 386.72 1149.52 390.16 1164.54 392.81 1178.78 394.76 1192.02 396.11 1204 397 1214.45 397.58 1223.11Z" fill="#02bcbe" stroke="#02bcbe" stroke-width="0.65" stroke-linejoin="round" fill-opacity="0.4"/>
<path d="M387 1223.44 A168.84 168.84 0 0 1 385.56 1223.43 L385.63 1214.74 385.65 1204.16 385.58 1191.87 385.38 1178.08 385.01 1162.97 384.44 1146.74 383.64 1129.58 382.61 1111.68 381.34 1093.24 379.82 1074.44 378.06 1055.48 376.09 1036.54 373.91 1017.8 371.57 999.47 369.1 981.71 366.53 964.73 363.93 948.7 361.35 933.81 358.86 920.24 356.53 908.17 354.45 897.79 352.69 889.29 A168.84 168.84 0 0 1 355.05 888.81 L356.69 897.35 358.63 907.75 360.81 919.85 363.14 933.45 365.56 948.38 368.01 964.45 370.43 981.47 372.78 999.26 375.01 1017.63 377.1 1036.39 379.01 1055.36 380.73 1074.35 382.23 1093.17 383.51 1111.64 384.57 1129.55 385.41 1146.72 386.05 1162.96 386.49 1178.07 386.78 1191.87 386.93 1204.16 386.99 1214.75 387 1223.44Z" fill="#027f80" stroke="#027f80" stroke-width="0.65" stroke-linejoin="round"/>
<path d="M385.56 1223.43 A168.84 168.84 0 0 1 384.87 1223.42 L384.94 1214.75 384.82 1204.29 384.32 1192.31 383.27 1179.08 381.54 1164.87 379.01 1149.91 375.62 1134.44 371.3 1118.66 366.04 1102.78 359.84 1086.98 352.73 1071.44 344.77 1056.32 336.05 1041.76 326.7 1027.89 316.84 1014.83 306.66 1002.69 296.36 991.56 286.17 981.5 276.34 972.59 267.17 964.87 258.95 958.39 252.04 953.15 A168.84 168.84 0 0 1 252.75 952.22 L259.62 957.51 267.79 964.05 276.92 971.83 286.71 980.81 296.86 990.93 307.11 1002.14 317.26 1014.35 327.08 1027.48 336.42 1041.41 345.12 1056.03 353.08 1071.21 360.19 1086.8 366.41 1102.64 371.69 1118.56 376.03 1134.37 379.46 1149.87 382.02 1164.85 383.8 1179.07 384.89 1192.31 385.44 1204.29 385.6 1214.76 385.56 1223.43Z" fill="#027f80" stroke="#027f80" stroke-width="0.65" stroke-linejoin="round" fill-opacity="0.4"/>
<path d="M384.87 1223.42 A168.84 168.84 0 0 1 384.5 1223.42 L384.58 1214.78 384.42 1204.54 383.79 1193.16 382.48 1181.04 380.32 1168.57 377.18 1156.08 372.96 1143.87 367.6 1132.2 361.06 1121.28 353.36 1111.31 344.54 1102.41 334.66 1094.7 323.85 1088.23 312.24 1083.03 300.02 1079.09 287.39 1076.34 274.62 1074.7 261.98 1074.02 249.79 1074.15 238.41 1074.87 228.22 1075.92 219.66 1077.03 A168.84 168.84 0 0 1 219.58 1076.41 L228.15 1075.34 238.34 1074.32 249.73 1073.65 261.92 1073.56 274.57 1074.28 287.36 1075.97 300 1078.76 312.24 1082.76 323.87 1088 334.71 1094.51 344.61 1102.26 353.46 1111.19 361.19 1121.19 367.76 1132.13 373.15 1143.82 377.4 1156.05 380.57 1168.55 382.76 1181.04 384.1 1193.16 384.75 1204.55 384.93 1214.79 384.87 1223.42Z" fill="#027f80" stroke="#027f80" stroke-width="0.65" stroke-linejoin="round" fill-opacity="0.4"/>
<path d="M374.16 1222.95 A168.84 168.84 0 0 1 373.08 1222.86 L373.75 1214.26 374.3 1204.08 374.45 1192.8 373.99 1180.84 372.73 1168.6 370.51 1156.42 367.22 1144.6 362.78 1133.42 357.14 1123.08 350.29 1113.77 342.28 1105.63 333.15 1098.75 323.03 1093.19 312.04 1088.95 300.37 1086.01 288.23 1084.3 275.86 1083.7 263.56 1084.05 251.64 1085.17 240.48 1086.8 230.46 1088.68 222.02 1090.47 A168.84 168.84 0 0 1 221.63 1088.62 L230.09 1086.92 240.13 1085.16 251.33 1083.65 263.28 1082.67 275.63 1082.46 288.05 1083.21 300.25 1085.06 311.99 1088.14 323.04 1092.51 333.24 1098.2 342.45 1105.19 350.55 1113.44 357.48 1122.84 363.21 1133.25 367.75 1144.51 371.14 1156.38 373.44 1168.6 374.79 1180.87 375.33 1192.85 375.25 1204.15 374.78 1214.34 374.16 1222.95Z" fill="#f9a45c" stroke="#f9a45c" stroke-width="0.65" stroke-linejoin="round" fill-opacity="0.4"/>
<path d="M373.08 1222.86 A168.84 168.84 0 0 1 372.27 1222.79 L373.02 1214.14 373.88 1203.59 374.81 1191.33 375.73 1177.56 376.62 1162.46 377.42 1146.22 378.1 1129.04 378.63 1111.1 379 1092.6 379.18 1073.71 379.18 1054.64 378.98 1035.57 378.59 1016.69 378.02 998.19 377.29 980.26 376.43 963.09 375.45 946.86 374.4 931.77 373.33 918.01 372.27 905.77 371.29 895.22 370.45 886.58 A168.84 168.84 0 0 1 371.88 886.44 L372.65 895.1 373.55 905.65 374.51 917.9 375.49 931.67 376.44 946.77 377.32 963.01 378.1 980.19 378.75 998.14 379.25 1016.65 379.58 1035.54 379.74 1054.63 379.72 1073.71 379.52 1092.6 379.15 1111.12 378.63 1129.07 377.97 1146.26 377.21 1162.5 376.37 1177.61 375.49 1191.39 374.61 1203.65 373.79 1214.2 373.08 1222.86Z" fill="#f9a45c" stroke="#f9a45c" stroke-width="0.65" stroke-linejoin="round" fill-opacity="0.4"/>
<path d="M372.27 1222.79 A168.84 168.84 0 0 1 371.73 1222.74 L372.47 1214.11 373.16 1203.68 373.56 1191.73 373.49 1178.53 372.78 1164.34 371.3 1149.38 368.95 1133.89 365.67 1118.07 361.41 1102.14 356.16 1086.26 349.94 1070.62 342.81 1055.38 334.84 1040.68 326.14 1026.66 316.87 1013.44 307.19 1001.12 297.3 989.8 287.45 979.56 277.88 970.46 268.9 962.57 260.83 955.93 254.03 950.56 A168.84 168.84 0 0 1 254.62 949.81 L261.39 955.22 269.43 961.91 278.37 969.85 287.89 979 297.72 989.3 307.57 1000.68 317.22 1013.05 326.46 1026.34 335.14 1040.41 343.09 1055.16 350.22 1070.45 356.44 1086.13 361.7 1102.04 365.97 1118.01 369.28 1133.86 371.65 1149.37 373.16 1164.35 373.9 1178.56 374 1191.77 373.64 1203.72 372.98 1214.15 372.27 1222.79Z" fill="#f9a45c" stroke="#f9a45c" stroke-width="0.65" stroke-linejoin="round" fill-opacity="0.4"/>
<path d="M361.97 1221.57 A168.84 168.84 0 0 1 360.92 1221.41 L362.21 1212.88 363.49 1202.78 364.47 1191.56 364.89 1179.65 364.53 1167.42 363.22 1155.21 360.81 1143.32 357.21 1132.01 352.37 1121.5 346.26 1111.96 338.9 1103.53 330.34 1096.32 320.7 1090.37 310.11 1085.71 298.74 1082.3 286.81 1080.1 274.58 1079 262.35 1078.85 250.45 1079.47 239.25 1080.64 229.17 1082.09 220.66 1083.53 A168.84 168.84 0 0 1 220.4 1082.01 L228.92 1080.65 239.02 1079.29 250.24 1078.22 262.18 1077.71 274.44 1077.98 286.71 1079.21 298.69 1081.53 310.11 1085.05 320.76 1089.82 330.47 1095.88 339.09 1103.19 346.53 1111.71 352.73 1121.33 357.65 1131.92 361.33 1143.29 363.83 1155.23 365.22 1167.48 365.67 1179.74 365.33 1191.68 364.42 1202.92 363.21 1213.03 361.97 1221.57Z" fill="#5b9a2a" stroke="#5b9a2a" stroke-width="0.65" stroke-linejoin="round" fill-opacity="0.4"/>
<path d="M360.92 1221.41 A168.84 168.84 0 0 1 360.09 1221.28 L361.46 1212.7 363.08 1202.24 364.85 1190.09 366.7 1176.42 368.57 1161.43 370.38 1145.31 372.09 1128.23 373.65 1110.39 375.03 1091.98 376.2 1073.18 377.14 1054.18 377.83 1035.17 378.28 1016.33 378.48 997.87 378.45 979.96 378.21 962.8 377.79 946.58 377.22 931.49 376.54 917.72 375.82 905.45 375.11 894.89 374.47 886.23 A168.84 168.84 0 0 1 375.7 886.14 L376.28 894.81 376.92 905.38 377.56 917.64 378.15 931.43 378.64 946.53 378.99 962.76 379.16 979.93 379.12 997.85 378.87 1016.32 378.38 1035.17 377.66 1054.19 376.7 1073.2 375.53 1092.01 374.16 1110.44 372.61 1128.29 370.94 1145.38 369.16 1161.52 367.34 1176.52 365.54 1190.19 363.82 1202.36 362.26 1212.83 360.92 1221.41Z" fill="#5b9a2a" stroke="#5b9a2a" stroke-width="0.65" stroke-linejoin="round" fill-opacity="0.4"/>
<path d="M360.09 1221.28 A168.84 168.84 0 0 1 359.64 1221.21 L361.01 1212.65 362.43 1202.31 363.67 1190.45 364.5 1177.33 364.74 1163.21 364.24 1148.31 362.88 1132.84 360.57 1117.04 357.26 1101.08 352.92 1085.15 347.57 1069.43 341.23 1054.08 334 1039.24 325.98 1025.06 317.29 1011.65 308.13 999.12 298.68 987.58 289.19 977.12 279.92 967.81 271.18 959.7 263.29 952.86 256.62 947.33 A168.84 168.84 0 0 1 257.04 946.82 L263.69 952.38 271.55 959.25 280.27 967.39 289.51 976.74 298.98 987.24 308.4 998.82 317.55 1011.39 326.21 1024.84 334.23 1039.06 341.45 1053.94 347.78 1069.32 353.14 1085.07 357.49 1101.03 360.82 1117.01 363.15 1132.84 364.53 1148.32 365.06 1163.24 364.84 1177.38 364.04 1190.5 362.83 1202.37 361.43 1212.72 360.09 1221.28Z" fill="#5b9a2a" stroke="#5b9a2a" stroke-width="0.65" stroke-linejoin="round" fill-opacity="0.4"/>
<path d="M349.74 1219.27 A168.84 168.84 0 0 1 348.52 1218.99 L350.44 1210.58 352.48 1200.62 354.3 1189.55 355.61 1177.79 356.19 1165.7 355.81 1153.62 354.34 1141.84 351.64 1130.61 347.64 1120.15 342.32 1110.63 335.67 1102.18 327.76 1094.92 318.67 1088.89 308.53 1084.11 297.54 1080.57 285.9 1078.21 273.88 1076.93 261.79 1076.58 249.96 1077.01 238.79 1077.99 228.7 1079.26 220.17 1080.55 A168.84 168.84 0 0 1 219.96 1079.15 L228.5 1077.94 238.6 1076.75 249.79 1075.86 261.65 1075.54 273.78 1076 285.84 1077.39 297.52 1079.87 308.57 1083.52 318.77 1088.41 327.93 1094.54 335.92 1101.91 342.65 1110.44 348.07 1120.04 352.16 1130.58 354.96 1141.88 356.53 1153.72 357 1165.85 356.52 1177.98 355.3 1189.78 353.56 1200.87 351.6 1210.85 349.74 1219.27Z" fill="#a6c1dd" stroke="#a6c1dd" stroke-width="0.65" stroke-linejoin="round" fill-opacity="0.4"/>
<path d="M348.52 1218.99 A168.84 168.84 0 0 1 348 1218.87 L350 1210.42 352.35 1200.1 354.97 1188.11 357.74 1174.62 360.58 1159.81 363.41 1143.86 366.15 1126.96 368.74 1109.29 371.14 1091.04 373.3 1072.38 375.19 1053.51 376.79 1034.61 378.09 1015.87 379.08 997.49 379.76 979.64 380.17 962.53 380.31 946.33 380.24 931.25 379.98 917.48 379.61 905.21 379.18 894.64 378.77 885.96 A168.84 168.84 0 0 1 379.37 885.94 L379.75 894.61 380.14 905.19 380.48 917.46 380.69 931.23 380.73 946.32 380.55 962.52 380.11 979.64 379.4 997.49 378.39 1015.88 377.08 1034.63 375.47 1053.53 373.58 1072.41 371.42 1091.08 369.04 1109.34 366.46 1127.02 363.74 1143.93 360.94 1159.89 358.14 1174.71 355.4 1188.21 352.81 1200.21 350.48 1210.53 348.52 1218.99Z" fill="#a6c1dd" stroke="#a6c1dd" stroke-width="0.65" stroke-linejoin="round" fill-opacity="0.4"/>
<path d="M348 1218.87 A168.84 168.84 0 0 1 347.59 1218.77 L349.57 1210.34 351.73 1200.14 353.8 1188.44 355.52 1175.49 356.7 1161.52 357.15 1146.77 356.74 1131.45 355.37 1115.76 352.96 1099.9 349.48 1084.05 344.92 1068.38 339.33 1053.05 332.76 1038.21 325.32 1024 317.15 1010.54 308.41 997.95 299.32 986.32 290.11 975.76 281.05 966.33 272.47 958.12 264.69 951.18 258.1 945.55 A168.84 168.84 0 0 1 258.42 945.18 L264.99 950.83 272.75 957.79 281.31 966.03 290.35 975.48 299.54 986.07 308.62 997.73 317.34 1010.36 325.5 1023.85 332.94 1038.09 339.51 1052.96 345.1 1068.31 349.67 1084.01 353.16 1099.88 355.59 1115.76 356.98 1131.47 357.41 1146.81 356.98 1161.58 355.84 1175.56 354.14 1188.52 352.1 1200.23 349.96 1210.43 348 1218.87Z" fill="#a6c1dd" stroke="#a6c1dd" stroke-width="0.65" stroke-linejoin="round" fill-opacity="0.4"/>
<path d="M337.99 1216.17 A168.84 168.84 0 0 1 336.89 1215.83 L339.45 1207.53 342.47 1197.4 345.82 1185.62 349.35 1172.35 352.96 1157.78 356.52 1142.07 359.96 1125.41 363.18 1107.98 366.14 1089.95 368.76 1071.51 371.02 1052.84 372.88 1034.13 374.34 1015.56 375.38 997.32 376.02 979.6 376.3 962.59 376.24 946.49 375.9 931.48 375.34 917.76 374.64 905.53 373.89 894.99 373.2 886.33 A168.84 168.84 0 0 1 374.47 886.23 L375.1 894.89 375.77 905.44 376.39 917.68 376.87 931.41 377.13 946.43 377.11 962.55 376.77 979.57 376.07 997.31 374.98 1015.57 373.49 1034.16 371.62 1052.9 369.36 1071.59 366.74 1090.06 363.82 1108.12 360.63 1125.58 357.24 1142.27 353.73 1158 350.2 1172.6 346.73 1185.89 343.46 1197.7 340.49 1207.85 337.99 1216.17Z" fill="#fdf0e6" stroke="#fdf0e6" stroke-width="0.65" stroke-linejoin="round" fill-opacity="0.4"/>
<path d="M336.89 1215.83 A168.84 168.84 0 0 1 336.43 1215.69 L338.98 1207.41 341.82 1197.4 344.65 1185.91 347.18 1173.19 349.2 1159.46 350.5 1144.96 350.93 1129.88 350.37 1114.43 348.72 1098.8 345.95 1083.17 342.05 1067.71 337.03 1052.57 330.96 1037.91 323.95 1023.85 316.12 1010.52 307.65 998.03 298.75 986.5 289.67 976.01 280.69 966.65 272.14 958.48 264.36 951.57 257.76 945.96 A168.84 168.84 0 0 1 258.1 945.55 L264.69 951.18 272.44 958.12 280.98 966.31 289.94 975.71 299 986.23 307.88 997.8 316.33 1010.32 324.15 1023.68 331.16 1037.77 337.23 1052.47 342.25 1067.64 346.16 1083.14 348.95 1098.79 350.61 1114.45 351.19 1129.92 350.79 1145.02 349.52 1159.55 347.53 1173.29 345.02 1186.03 342.23 1197.53 339.42 1207.55 336.89 1215.83Z" fill="#fdf0e6" stroke="#fdf0e6" stroke-width="0.65" stroke-linejoin="round" fill-opacity="0.4"/>
<path d="M336.43 1215.69 A168.84 168.84 0 0 1 336.02 1215.56 L338.58 1207.32 341.38 1197.56 344.04 1186.7 346.27 1175.13 347.78 1163.22 348.34 1151.28 347.79 1139.61 345.99 1128.43 342.83 1117.97 338.29 1108.4 332.34 1099.84 325.05 1092.41 316.49 1086.15 306.81 1081.1 296.17 1077.24 284.8 1074.52 272.96 1072.84 260.98 1072.1 249.2 1072.13 238.04 1072.72 227.92 1073.64 219.35 1074.62 A168.84 168.84 0 0 1 219.3 1074.14 L227.87 1073.19 237.99 1072.3 249.16 1071.74 260.95 1071.75 272.94 1072.53 284.78 1074.24 296.17 1077 306.83 1080.9 316.53 1085.99 325.11 1092.29 332.43 1099.76 338.4 1108.34 342.98 1117.95 346.16 1128.44 348 1139.64 348.59 1151.34 348.05 1163.29 346.57 1175.22 344.38 1186.8 341.74 1197.67 338.97 1207.44 336.43 1215.69Z" fill="#fdf0e6" stroke="#fdf0e6" stroke-width="0.65" stroke-linejoin="round" fill-opacity="0.4"/>
<path d="M325.7 1211.91 A168.84 168.84 0 0 1 324.79 1211.56 L327.94 1203.5 331.48 1193.75 335.07 1182.57 338.41 1170.21 341.24 1156.88 343.33 1142.81 344.51 1128.21 344.64 1113.28 343.61 1098.19 341.36 1083.12 337.89 1068.24 333.19 1053.7 327.34 1039.64 320.44 1026.18 312.63 1013.45 304.09 1001.55 295.04 990.58 285.74 980.62 276.5 971.75 267.66 964.03 259.6 957.5 252.75 952.22 A168.84 168.84 0 0 1 253.41 951.36 L260.23 956.68 268.25 963.26 277.05 971.04 286.25 979.98 295.51 990.01 304.53 1001.05 313.04 1013.03 320.84 1025.84 327.73 1039.37 333.57 1053.5 338.28 1068.12 341.77 1083.06 344.05 1098.19 345.11 1113.34 345.03 1128.33 343.9 1142.98 341.87 1157.09 339.1 1170.46 335.82 1182.86 332.29 1194.06 328.8 1203.83 325.7 1211.91Z" fill="#4a8fd0" stroke="#4a8fd0" stroke-width="0.65" stroke-linejoin="round" fill-opacity="0.4"/>
<path d="M324.79 1211.56 A168.84 168.84 0 0 1 324.22 1211.33 L327.43 1203.26 331.24 1193.41 335.47 1181.93 339.96 1168.99 344.58 1154.75 349.2 1139.38 353.71 1123.06 358.01 1105.94 362.02 1088.22 365.67 1070.06 368.91 1051.64 371.71 1033.15 374.03 1014.78 375.88 996.7 377.25 979.1 378.18 962.19 378.7 946.15 378.85 931.19 378.71 917.49 378.36 905.26 377.9 894.71 377.42 886.03 A168.84 168.84 0 0 1 378.11 886 L378.55 894.67 378.98 905.23 379.28 917.46 379.37 931.16 379.18 946.14 378.62 962.18 377.65 979.1 376.25 996.7 374.37 1014.8 372.03 1033.19 369.23 1051.69 365.98 1070.12 362.34 1088.3 358.34 1106.04 354.06 1123.17 349.58 1139.52 344.99 1154.9 340.4 1169.16 335.94 1182.12 331.75 1193.61 327.98 1203.48 324.79 1211.56Z" fill="#4a8fd0" stroke="#4a8fd0" stroke-width="0.65" stroke-linejoin="round" fill-opacity="0.4"/>
<path d="M324.22 1211.33 A168.84 168.84 0 0 1 323.86 1211.19 L327.05 1203.18 330.58 1193.68 334.08 1183.11 337.19 1171.86 339.61 1160.27 341.11 1148.66 341.48 1137.3 340.57 1126.44 338.26 1116.26 334.51 1106.95 329.29 1098.63 322.65 1091.4 314.66 1085.32 305.45 1080.41 295.21 1076.66 284.16 1074.02 272.56 1072.4 260.75 1071.68 249.07 1071.71 237.96 1072.29 227.87 1073.19 219.3 1074.14 A168.84 168.84 0 0 1 219.25 1073.71 L227.82 1072.78 237.92 1071.9 249.04 1071.35 260.72 1071.36 272.54 1072.11 284.15 1073.77 295.21 1076.45 305.47 1080.24 314.69 1085.18 322.7 1091.3 329.37 1098.56 334.61 1106.91 338.39 1116.25 340.72 1126.45 341.67 1137.35 341.33 1148.73 339.86 1160.36 337.46 1171.96 334.37 1183.23 330.9 1193.81 327.39 1203.31 324.22 1211.33Z" fill="#4a8fd0" stroke="#4a8fd0" stroke-width="0.65" stroke-linejoin="round" fill-opacity="0.4"/>
<path d="M314.69 1207.17 A168.84 168.84 0 0 1 314 1206.84 L317.74 1199 322.17 1189.42 327.09 1178.25 332.34 1165.63 337.74 1151.74 343.16 1136.71 348.46 1120.72 353.54 1103.94 358.29 1086.53 362.64 1068.66 366.53 1050.51 369.91 1032.26 372.76 1014.09 375.07 996.19 376.83 978.74 378.08 961.95 378.85 946 379.2 931.09 379.21 917.43 378.95 905.22 378.55 894.67 378.11 886 A168.84 168.84 0 0 1 378.77 885.96 L379.17 894.64 379.54 905.19 379.75 917.4 379.71 931.07 379.32 945.98 378.51 961.94 377.23 978.75 375.43 996.21 373.11 1014.13 370.25 1032.31 366.86 1050.58 362.98 1068.75 358.64 1086.64 353.91 1104.08 348.87 1120.89 343.6 1136.9 338.22 1151.95 332.86 1165.88 327.66 1178.51 322.77 1189.71 318.39 1199.31 314.69 1207.17Z" fill="#e0595f" stroke="#e0595f" stroke-width="0.65" stroke-linejoin="round" fill-opacity="0.4"/>
<path d="M314 1206.84 A168.84 168.84 0 0 1 313.41 1206.56 L317.14 1198.78 321.31 1189.57 325.51 1179.32 329.39 1168.42 332.61 1157.2 334.91 1145.96 336.07 1134.98 335.93 1124.49 334.36 1114.68 331.3 1105.72 326.71 1097.74 320.63 1090.82 313.14 1085.02 304.37 1080.37 294.48 1076.85 283.71 1074.4 272.34 1072.96 260.67 1072.38 249.1 1072.53 238.05 1073.2 227.98 1074.17 219.42 1075.19 A168.84 168.84 0 0 1 219.35 1074.62 L227.92 1073.64 237.99 1072.7 249.05 1072.06 260.63 1071.96 272.31 1072.58 283.7 1074.08 294.49 1076.57 304.4 1080.15 313.2 1084.85 320.73 1090.7 326.84 1097.67 331.46 1105.7 334.57 1114.7 336.19 1124.55 336.38 1135.09 335.26 1146.1 333 1157.37 329.82 1168.62 326 1179.55 321.83 1189.82 317.7 1199.05 314 1206.84Z" fill="#e0595f" stroke="#e0595f" stroke-width="0.65" stroke-linejoin="round" fill-opacity="0.4"/>
<path d="M313.41 1206.56 A168.84 168.84 0 0 1 313.01 1206.36 L316.77 1198.56 321.03 1189.12 325.45 1178.26 329.7 1166.21 333.5 1153.18 336.61 1139.37 338.84 1124.98 340.02 1110.2 340.04 1095.19 338.83 1080.13 336.36 1065.19 332.63 1050.5 327.71 1036.22 321.68 1022.48 314.68 1009.4 306.87 997.11 298.49 985.7 289.79 975.28 281.07 965.94 272.67 957.77 264.98 950.82 258.42 945.18 A168.84 168.84 0 0 1 258.67 944.88 L265.22 950.54 272.9 957.5 281.28 965.7 289.99 975.06 298.68 985.51 307.05 996.94 314.84 1009.26 321.84 1022.37 327.87 1036.14 332.79 1050.45 336.52 1065.16 339 1080.13 340.23 1095.22 340.22 1110.25 339.06 1125.06 336.86 1139.47 333.78 1153.3 330.01 1166.35 325.78 1178.42 321.39 1189.29 317.15 1198.75 313.41 1206.56Z" fill="#e0595f" stroke="#e0595f" stroke-width="0.65" stroke-linejoin="round" fill-opacity="0.4"/>
<path d="M304.18 1201.73 A168.84 168.84 0 0 1 303.58 1201.39 L307.81 1193.88 312.58 1184.98 317.45 1175.09 322.04 1164.58 326.01 1153.77 329.07 1142.95 330.99 1132.39 331.57 1122.32 330.7 1112.92 328.28 1104.36 324.29 1096.75 318.75 1090.18 311.73 1084.71 303.36 1080.35 293.81 1077.09 283.31 1074.87 272.14 1073.62 260.63 1073.21 249.16 1073.49 238.17 1074.27 228.13 1075.33 219.58 1076.41 A168.84 168.84 0 0 1 219.5 1075.79 L228.05 1074.74 238.1 1073.72 249.1 1072.99 260.58 1072.75 272.11 1073.22 283.3 1074.52 293.82 1076.79 303.39 1080.11 311.79 1084.53 318.84 1090.06 324.42 1096.68 328.45 1104.34 330.91 1112.96 331.83 1122.41 331.29 1132.52 329.42 1143.12 326.41 1153.98 322.49 1164.82 317.94 1175.37 313.11 1185.28 308.38 1194.2 304.18 1201.73Z" fill="#a758a8" stroke="#a758a8" stroke-width="0.65" stroke-linejoin="round" fill-opacity="0.4"/>
<path d="M303.58 1201.39 A168.84 168.84 0 0 1 303.04 1201.08 L307.3 1193.55 312.18 1184.44 317.27 1173.95 322.23 1162.3 326.77 1149.69 330.62 1136.32 333.56 1122.37 335.43 1108.02 336.09 1093.45 335.47 1078.82 333.52 1064.27 330.25 1049.97 325.71 1036.05 319.98 1022.63 313.2 1009.85 305.56 997.82 297.27 986.64 288.61 976.42 279.88 967.25 271.43 959.21 263.67 952.37 257.04 946.82 A168.84 168.84 0 0 1 257.41 946.38 L264.02 951.96 271.76 958.82 280.18 966.89 288.89 976.1 297.53 986.36 305.81 997.57 313.43 1009.65 320.2 1022.47 325.92 1035.93 330.47 1049.9 333.75 1064.24 335.71 1078.83 336.35 1093.5 335.71 1108.11 333.87 1122.49 330.96 1136.48 327.14 1149.88 322.64 1162.52 317.71 1174.2 312.66 1184.71 307.82 1193.85 303.58 1201.39Z" fill="#a758a8" stroke="#a758a8" stroke-width="0.65" stroke-linejoin="round" fill-opacity="0.4"/>
<path d="M303.04 1201.08 A168.84 168.84 0 0 1 302.65 1200.85 L306.96 1193.32 312.09 1184.1 317.8 1173.34 323.89 1161.16 330.19 1147.71 336.52 1133.15 342.73 1117.61 348.71 1101.26 354.35 1084.27 359.54 1066.78 364.22 1048.99 368.34 1031.05 371.87 1013.16 374.78 995.49 377.08 978.24 378.79 961.59 379.95 945.75 380.62 930.92 380.88 917.3 380.83 905.12 380.57 894.57 380.25 885.9 A168.84 168.84 0 0 1 380.67 885.88 L380.97 894.56 381.2 905.1 381.23 917.29 380.94 930.91 380.24 945.75 379.05 961.59 377.32 978.25 375.01 995.51 372.08 1013.19 368.55 1031.09 364.43 1049.04 359.74 1066.85 354.56 1084.35 348.94 1101.36 342.97 1117.73 336.77 1133.28 330.46 1147.87 324.19 1161.33 318.12 1173.52 312.44 1184.31 307.34 1193.54 303.04 1201.08Z" fill="#a758a8" stroke="#a758a8" stroke-width="0.65" stroke-linejoin="round" fill-opacity="0.4"/>
<path d="M294.21 1195.65 A168.84 168.84 0 0 1 293.58 1195.23 L298.31 1188.04 303.69 1179.52 309.25 1170.06 314.57 1160 319.3 1149.68 323.13 1139.36 325.81 1129.31 327.14 1119.73 326.97 1110.82 325.22 1102.73 321.84 1095.56 316.84 1089.4 310.31 1084.31 302.35 1080.3 293.15 1077.34 282.93 1075.4 271.97 1074.37 260.62 1074.16 249.25 1074.59 238.31 1075.5 228.3 1076.65 219.76 1077.8 A168.84 168.84 0 0 1 219.66 1077.03 L228.2 1075.92 238.22 1074.81 249.17 1073.96 260.55 1073.58 271.92 1073.87 282.9 1074.96 293.14 1076.97 302.37 1080 310.36 1084.08 316.93 1089.25 321.97 1095.47 325.39 1102.7 327.19 1110.86 327.41 1119.84 326.13 1129.47 323.5 1139.57 319.72 1149.93 315.04 1160.3 309.77 1170.39 304.25 1179.89 298.91 1188.44 294.21 1195.65Z" fill="#11a674" stroke="#11a674" stroke-width="0.65" stroke-linejoin="round" fill-opacity="0.4"/>
<path d="M293.58 1195.23 A168.84 168.84 0 0 1 293.14 1194.94 L297.91 1187.73 303.39 1178.99 309.16 1168.91 314.85 1157.71 320.14 1145.56 324.75 1132.65 328.45 1119.15 331.06 1105.24 332.43 1091.08 332.47 1076.83 331.14 1062.63 328.42 1048.63 324.36 1034.97 319.06 1021.77 312.64 1009.15 305.29 997.25 297.22 986.16 288.72 976 280.11 966.85 271.73 958.8 264.02 951.96 257.41 946.38 A168.84 168.84 0 0 1 257.76 945.96 L264.35 951.56 272.05 958.43 280.4 966.5 288.99 975.69 297.47 985.89 305.52 997.02 312.85 1008.96 319.26 1021.61 324.56 1034.85 328.61 1048.56 331.33 1062.6 332.68 1076.84 332.65 1091.13 331.29 1105.33 328.7 1119.27 325.03 1132.8 320.44 1145.74 315.18 1157.91 309.51 1169.15 303.77 1179.24 298.32 1188.01 293.58 1195.23Z" fill="#11a674" stroke="#11a674" stroke-width="0.65" stroke-linejoin="round" fill-opacity="0.4"/>
<path d="M293.14 1194.94 A168.84 168.84 0 0 1 292.81 1194.72 L297.63 1187.5 303.35 1178.66 309.73 1168.31 316.54 1156.58 323.57 1143.6 330.65 1129.5 337.6 1114.43 344.29 1098.54 350.59 1081.97 356.41 1064.89 361.66 1047.46 366.28 1029.85 370.24 1012.25 373.52 994.83 376.11 977.78 378.05 961.29 379.37 945.58 380.15 930.83 380.47 917.27 380.44 905.12 380.17 894.59 379.83 885.92 A168.84 168.84 0 0 1 380.25 885.9 L380.57 894.57 380.81 905.1 380.82 917.26 380.47 930.82 379.67 945.57 378.31 961.3 376.35 977.79 373.74 994.84 370.45 1012.28 366.48 1029.89 361.85 1047.51 356.6 1064.95 350.78 1082.05 344.48 1098.63 337.81 1114.55 330.87 1129.63 323.81 1143.75 316.79 1156.75 310.01 1168.49 303.65 1178.86 297.95 1187.71 293.14 1194.94Z" fill="#11a674" stroke="#11a674" stroke-width="0.65" stroke-linejoin="round" fill-opacity="0.4"/>
<path d="M285.74 1189.7 A168.84 168.84 0 0 1 285.13 1189.24 L290.3 1182.35 296.19 1174.2 302.32 1165.13 308.26 1155.5 313.63 1145.59 318.1 1135.7 321.41 1126.05 323.35 1116.85 323.76 1108.27 322.55 1100.47 319.66 1093.56 315.1 1087.6 308.95 1082.66 301.31 1078.74 292.37 1075.84 282.35 1073.9 271.54 1072.84 260.28 1072.56 248.97 1072.9 238.06 1073.7 228.04 1074.74 219.5 1075.79 A168.84 168.84 0 0 1 219.42 1075.19 L227.97 1074.17 237.99 1073.16 248.91 1072.41 260.24 1072.12 271.51 1072.45 282.33 1073.57 292.37 1075.56 301.34 1078.53 309.01 1082.5 315.2 1087.51 319.79 1093.52 322.72 1100.5 323.98 1108.36 323.62 1116.99 321.72 1126.24 318.46 1135.94 314.04 1145.89 308.72 1155.83 302.83 1165.51 296.74 1174.61 290.88 1182.79 285.74 1189.7Z" fill="#6a5fb5" stroke="#6a5fb5" stroke-width="0.65" stroke-linejoin="round" fill-opacity="0.4"/>
<path d="M285.13 1189.24 A168.84 168.84 0 0 1 284.66 1188.89 L289.9 1181.97 296.12 1173.48 303.05 1163.53 310.45 1152.22 318.09 1139.68 325.78 1126.03 333.34 1111.41 340.61 1095.94 347.47 1079.78 353.8 1063.08 359.51 1046.01 364.54 1028.71 368.85 1011.39 372.42 994.2 375.25 977.34 377.37 961.02 378.82 945.42 379.68 930.76 380.04 917.25 380.01 905.12 379.73 894.61 379.37 885.94 A168.84 168.84 0 0 1 379.83 885.92 L380.17 894.59 380.42 905.11 380.42 917.24 380.03 930.75 379.14 945.41 377.67 961.02 375.53 977.36 372.68 994.23 369.09 1011.43 364.78 1028.78 359.74 1046.09 354.03 1063.19 347.71 1079.91 340.87 1096.1 333.62 1111.59 326.08 1126.24 318.42 1139.92 310.8 1152.49 303.43 1163.82 296.53 1173.79 290.34 1182.3 285.13 1189.24Z" fill="#6a5fb5" stroke="#6a5fb5" stroke-width="0.65" stroke-linejoin="round" fill-opacity="0.4"/>
<path d="M284.66 1188.89 A168.84 168.84 0 0 1 284.45 1188.73 L289.67 1181.83 295.67 1173.46 302.04 1163.8 308.38 1153.04 314.34 1141.34 319.65 1128.87 324.04 1115.81 327.33 1102.31 329.36 1088.53 330.03 1074.61 329.28 1060.7 327.1 1046.95 323.54 1033.48 318.67 1020.42 312.63 1007.91 305.6 996.05 297.81 984.97 289.53 974.78 281.08 965.58 272.84 957.46 265.21 950.54 258.67 944.88 A168.84 168.84 0 0 1 258.81 944.73 L265.34 950.39 272.96 957.32 281.19 965.45 289.63 974.67 297.91 984.87 305.69 995.97 312.72 1007.84 318.76 1020.37 323.62 1033.44 327.19 1046.93 329.37 1060.7 330.12 1074.63 329.46 1088.56 327.44 1102.37 324.16 1115.88 319.78 1128.96 314.49 1141.44 308.54 1153.15 302.21 1163.93 295.86 1173.6 289.87 1181.98 284.66 1188.89Z" fill="#6a5fb5" stroke="#6a5fb5" stroke-width="0.65" stroke-linejoin="round" fill-opacity="0.4"/>
<path d="M270.5 1189.09 A177.94 177.94 0 0 1 210.21 1074.74 L219.25 1073.71 A168.84 168.84 0 0 0 276.46 1182.22Z" fill="#fb0d14"/>
<path d="M209.21 1061.74 A177.94 177.94 0 0 1 251.9 938.8 L258.81 944.73 A168.84 168.84 0 0 0 218.3 1061.38Z" fill="#0443a0"/>
<path d="M261.4 928.56 A177.94 177.94 0 0 1 380.32 876.79 L380.67 885.88 A168.84 168.84 0 0 0 267.82 935.01Z" fill="#067c33"/>
<path d="M392.9 876.76 A177.94 177.94 0 0 1 558.3 1006.45 L549.05 1009.05 A168.33 168.33 0 0 0 392.58 886.36Z" fill="#02bcbe" stroke="#02bcbe" stroke-width="0.8"/>
<path d="M561.43 1019.43 A177.94 177.94 0 0 1 563.65 1033.22 L554.11 1034.38 A168.33 168.33 0 0 0 552.01 1021.33Z" fill="#a6c1dd" stroke="#a6c1dd" stroke-width="0.8"/>
<path d="M564.74 1046.22 A177.94 177.94 0 0 1 564.94 1054.91 L555.33 1054.89 A168.33 168.33 0 0 0 555.14 1046.67Z" fill="#fdf0e6" stroke="#fdf0e6" stroke-width="0.8"/>
<path d="M564.46 1067.63 A177.94 177.94 0 0 1 563.61 1076.28 L554.08 1075.11 A168.33 168.33 0 0 0 554.88 1066.93Z" fill="#4a8fd0" stroke="#4a8fd0" stroke-width="0.8"/>
<path d="M561.58 1089.01 A177.94 177.94 0 0 1 560.2 1095.38 L550.85 1093.18 A168.33 168.33 0 0 0 552.15 1087.15Z" fill="#e0595f" stroke="#e0595f" stroke-width="0.8"/>
<path d="M556.79 1107.81 A177.94 177.94 0 0 1 555.04 1113.12 L545.97 1109.96 A168.33 168.33 0 0 0 547.63 1104.94Z" fill="#a758a8" stroke="#a758a8" stroke-width="0.8"/>
<path d="M550.55 1124.7 A177.94 177.94 0 0 1 548.53 1129.24 L539.81 1125.21 A168.33 168.33 0 0 0 541.72 1120.91Z" fill="#11a674" stroke="#11a674" stroke-width="0.8"/>
<path d="M542.85 1140.46 A177.94 177.94 0 0 1 540.55 1144.51 L532.26 1139.65 A168.33 168.33 0 0 0 534.44 1135.82Z" fill="#6a5fb5" stroke="#6a5fb5" stroke-width="0.8"/>
<path d="M533.95 1154.94 A177.94 177.94 0 0 1 531.54 1158.37 L523.74 1152.77 A168.33 168.33 0 0 0 526.02 1149.52Z" fill="#02bcbe" stroke="#02bcbe" stroke-width="0.8"/>
<path d="M524.94 1167 A177.94 177.94 0 0 1 522.4 1170.05 L515.09 1163.82 A168.33 168.33 0 0 0 517.49 1160.93Z" fill="#027f80" stroke="#027f80" stroke-width="0.8"/>
<path d="M514.73 1178.48 A177.94 177.94 0 0 1 512.03 1181.21 L505.28 1174.37 A168.33 168.33 0 0 0 507.83 1171.8Z" fill="#f9a45c" stroke="#f9a45c" stroke-width="0.8"/>
<path d="M503.85 1188.79 A177.94 177.94 0 0 1 501.09 1191.14 L494.93 1183.77 A168.33 168.33 0 0 0 497.55 1181.54Z" fill="#5b9a2a" stroke="#5b9a2a" stroke-width="0.8"/>
<path d="M492.06 1198.21 A177.94 177.94 0 0 1 489.23 1200.24 L483.71 1192.38 A168.33 168.33 0 0 0 486.39 1190.45Z" fill="#a6c1dd" stroke="#a6c1dd" stroke-width="0.8"/>
<path d="M479.43 1206.65 A177.94 177.94 0 0 1 476.48 1208.4 L471.65 1200.1 A168.33 168.33 0 0 0 474.44 1198.44Z" fill="#fdf0e6" stroke="#fdf0e6" stroke-width="0.8"/>
<path d="M466.81 1213.63 A177.94 177.94 0 0 1 463.8 1215.11 L459.65 1206.45 A168.33 168.33 0 0 0 462.5 1205.05Z" fill="#4a8fd0" stroke="#4a8fd0" stroke-width="0.8"/>
<path d="M453.92 1219.47 A177.94 177.94 0 0 1 450.92 1220.66 L447.47 1211.7 A168.33 168.33 0 0 0 450.3 1210.58Z" fill="#e0595f" stroke="#e0595f" stroke-width="0.8"/>
<path d="M440.98 1224.15 A177.94 177.94 0 0 1 438.03 1225.06 L435.28 1215.86 A168.33 168.33 0 0 0 438.07 1215Z" fill="#a758a8" stroke="#a758a8" stroke-width="0.8"/>
<path d="M427.54 1227.86 A177.94 177.94 0 0 1 424.66 1228.5 L422.63 1219.12 A168.33 168.33 0 0 0 425.35 1218.5Z" fill="#11a674" stroke="#11a674" stroke-width="0.8"/>
<path d="M413.9 1230.49 A177.94 177.94 0 0 1 411.13 1230.89 L409.83 1221.38 A168.33 168.33 0 0 0 412.45 1221Z" fill="#6a5fb5" stroke="#6a5fb5" stroke-width="0.8"/>
<path d="M400.31 1232.04 A177.94 177.94 0 0 1 397.61 1232.22 L397.04 1222.63 A168.33 168.33 0 0 0 399.59 1222.46Z" fill="#02bcbe" stroke="#02bcbe" stroke-width="0.8"/>
<path d="M387 1232.54 A177.94 177.94 0 0 1 384.36 1232.52 L384.5 1222.91 A168.33 168.33 0 0 0 387 1222.93Z" fill="#027f80" stroke="#027f80" stroke-width="0.8"/>
<path d="M373.47 1232.02 A177.94 177.94 0 0 1 370.9 1231.81 L371.77 1222.24 A168.33 168.33 0 0 0 374.2 1222.44Z" fill="#f9a45c" stroke="#f9a45c" stroke-width="0.8"/>
<path d="M360.62 1230.57 A177.94 177.94 0 0 1 358.17 1230.18 L359.72 1220.71 A168.33 168.33 0 0 0 362.05 1221.07Z" fill="#5b9a2a" stroke="#5b9a2a" stroke-width="0.8"/>
<path d="M347.73 1228.15 A177.94 177.94 0 0 1 345.46 1227.62 L347.7 1218.28 A168.33 168.33 0 0 0 349.85 1218.78Z" fill="#a6c1dd" stroke="#a6c1dd" stroke-width="0.8" opacity="0.8"/>
<path d="M335.35 1224.87 A177.94 177.94 0 0 1 333.27 1224.23 L336.17 1215.07 A168.33 168.33 0 0 0 338.14 1215.68Z" fill="#fdf0e6" stroke="#fdf0e6" stroke-width="0.8" opacity="0.3"/>
<path d="M322.39 1220.39 A177.94 177.94 0 0 1 320.46 1219.63 L324.05 1210.72 A168.33 168.33 0 0 0 325.88 1211.44Z" fill="#4a8fd0" stroke="#4a8fd0" stroke-width="0.8" opacity="0"/>
<line x1="269.51" y1="1190.24" x2="266.2" y2="1194.06" stroke="#111" stroke-width="1.2"/>
<text transform="translate(264.54 1195.97) rotate(310.9)" font-size="8.69" text-anchor="end" dy="0.35em" fill="#222">0k</text>
<line x1="207.69" y1="1061.8" x2="202.64" y2="1062" stroke="#111" stroke-width="1.2"/>
<text transform="translate(200.12 1062.11) rotate(357.7)" font-size="8.69" text-anchor="end" dy="0.35em" fill="#222">0k</text>
<line x1="260.33" y1="927.49" x2="256.76" y2="923.91" stroke="#111" stroke-width="1.2"/>
<text transform="translate(254.98 922.12) rotate(405.1)" font-size="8.69" text-anchor="end" dy="0.35em" fill="#222">0k</text>
<line x1="392.95" y1="875.25" x2="393.12" y2="870.19" stroke="#111" stroke-width="1.2"/>
<text transform="translate(393.2 867.67) rotate(-88.1)" font-size="8.69" text-anchor="start" dy="0.35em" fill="#222">0k</text>
<line x1="562.91" y1="1019.13" x2="567.87" y2="1018.13" stroke="#111" stroke-width="1.2"/>
<line x1="566.25" y1="1046.15" x2="571.3" y2="1045.91" stroke="#111" stroke-width="1.2"/>
<line x1="565.97" y1="1067.74" x2="571.01" y2="1068.11" stroke="#111" stroke-width="1.2"/>
<line x1="563.07" y1="1089.3" x2="568.02" y2="1090.28" stroke="#111" stroke-width="1.2"/>
<line x1="558.24" y1="1108.26" x2="563.06" y2="1109.78" stroke="#111" stroke-width="1.2"/>
<line x1="551.94" y1="1125.29" x2="556.59" y2="1127.29" stroke="#111" stroke-width="1.2"/>
<line x1="544.18" y1="1141.19" x2="548.61" y2="1143.63" stroke="#111" stroke-width="1.2"/>
<line x1="535.2" y1="1155.79" x2="539.38" y2="1158.64" stroke="#111" stroke-width="1.2"/>
<line x1="526.12" y1="1167.96" x2="530.03" y2="1171.15" stroke="#111" stroke-width="1.2"/>
<line x1="515.82" y1="1179.54" x2="519.44" y2="1183.06" stroke="#111" stroke-width="1.2"/>
<line x1="504.85" y1="1189.93" x2="508.17" y2="1193.74" stroke="#111" stroke-width="1.2"/>
<line x1="492.96" y1="1199.43" x2="495.95" y2="1203.51" stroke="#111" stroke-width="1.2"/>
<line x1="480.22" y1="1207.94" x2="482.84" y2="1212.26" stroke="#111" stroke-width="1.2"/>
<line x1="467.49" y1="1214.99" x2="469.76" y2="1219.51" stroke="#111" stroke-width="1.2"/>
<line x1="454.49" y1="1220.88" x2="456.39" y2="1225.56" stroke="#111" stroke-width="1.2"/>
<line x1="441.44" y1="1225.6" x2="442.97" y2="1230.41" stroke="#111" stroke-width="1.2"/>
<line x1="427.89" y1="1229.33" x2="429.04" y2="1234.25" stroke="#111" stroke-width="1.2"/>
<line x1="414.13" y1="1231.99" x2="414.89" y2="1236.99" stroke="#111" stroke-width="1.2"/>
<line x1="400.42" y1="1233.55" x2="400.8" y2="1238.59" stroke="#111" stroke-width="1.2"/>
<line x1="387" y1="1234.05" x2="387" y2="1239.11" stroke="#111" stroke-width="1.2"/>
<line x1="373.36" y1="1233.53" x2="372.97" y2="1238.57" stroke="#111" stroke-width="1.2"/>
<line x1="360.4" y1="1232.07" x2="359.65" y2="1237.07" stroke="#111" stroke-width="1.2"/>
<line x1="347.4" y1="1229.63" x2="346.28" y2="1234.56" stroke="#111" stroke-width="1.2"/>
<line x1="334.91" y1="1226.33" x2="333.44" y2="1231.16" stroke="#111" stroke-width="1.2"/>
<line x1="321.84" y1="1221.81" x2="320.01" y2="1226.52" stroke="#111" stroke-width="1.2"/>
<line x1="310.14" y1="1216.76" x2="307.97" y2="1221.33" stroke="#111" stroke-width="1.2"/>
<line x1="298.97" y1="1210.98" x2="296.49" y2="1215.38" stroke="#111" stroke-width="1.2"/>
<line x1="288.37" y1="1204.52" x2="285.59" y2="1208.74" stroke="#111" stroke-width="1.2"/>
<line x1="279.38" y1="1198.2" x2="276.35" y2="1202.24" stroke="#111" stroke-width="1.2"/>
<path d="M216.22 1251.76 A260.84 260.84 0 0 1 127.84 1084.13 L142.91 1082.41 A245.67 245.67 0 0 0 226.15 1240.29Z" fill="#fb0d14"/>
<path d="M226.55 1239.83 A245.07 245.07 0 0 1 168.51 1165.59 L173.38 1163.12 A239.61 239.61 0 0 0 230.12 1235.71Z" fill="#02bcbe"/>
<path d="M168.51 1165.59 A245.07 245.07 0 0 1 165.24 1158.91 L170.18 1156.59 A239.61 239.61 0 0 0 173.38 1163.12Z" fill="#a6c1dd"/>
<path d="M165.24 1158.91 A245.07 245.07 0 0 1 162.48 1152.82 L167.48 1150.63 A239.61 239.61 0 0 0 170.18 1156.59Z" fill="#4a8fd0"/>
<path d="M162.48 1152.82 A245.07 245.07 0 0 1 160.3 1147.68 L165.35 1145.61 A239.61 239.61 0 0 0 167.48 1150.63Z" fill="#a758a8"/>
<path d="M160.3 1147.68 A245.07 245.07 0 0 1 158.31 1142.67 L163.4 1140.71 A239.61 239.61 0 0 0 165.35 1145.61Z" fill="#6a5fb5"/>
<path d="M158.31 1142.67 A245.07 245.07 0 0 1 156.61 1138.14 L161.75 1136.28 A239.61 239.61 0 0 0 163.4 1140.71Z" fill="#fdf0e6"/>
<path d="M156.61 1138.14 A245.07 245.07 0 0 1 155.07 1133.76 L160.24 1132 A239.61 239.61 0 0 0 161.75 1136.28Z" fill="#11a674"/>
<path d="M155.07 1133.76 A245.07 245.07 0 0 1 153.61 1129.36 L158.81 1127.69 A239.61 239.61 0 0 0 160.24 1132Z" fill="#4a8fd0"/>
<path d="M153.61 1129.36 A245.07 245.07 0 0 1 152.27 1125.03 L157.5 1123.47 A239.61 239.61 0 0 0 158.81 1127.69Z" fill="#027f80"/>
<path d="M152.27 1125.03 A245.07 245.07 0 0 1 151.2 1121.36 L156.45 1119.87 A239.61 239.61 0 0 0 157.5 1123.47Z" fill="#a758a8"/>
<path d="M151.2 1121.36 A245.07 245.07 0 0 1 150.31 1118.14 L155.59 1116.72 A239.61 239.61 0 0 0 156.45 1119.87Z" fill="#02bcbe"/>
<path d="M150.31 1118.14 A245.07 245.07 0 0 1 149.51 1115.08 L154.8 1113.73 A239.61 239.61 0 0 0 155.59 1116.72Z" fill="#e0595f"/>
<path d="M149.51 1115.08 A245.07 245.07 0 0 1 148.77 1112.07 L154.07 1110.79 A239.61 239.61 0 0 0 154.8 1113.73Z" fill="#f9a45c"/>
<path d="M148.77 1112.07 A245.07 245.07 0 0 1 148.13 1109.35 L153.45 1108.13 A239.61 239.61 0 0 0 154.07 1110.79Z" fill="#e0595f"/>
<path d="M148.13 1109.35 A245.07 245.07 0 0 1 147.53 1106.66 L152.86 1105.5 A239.61 239.61 0 0 0 153.45 1108.13Z" fill="#5b9a2a"/>
<path d="M147.53 1106.66 A245.07 245.07 0 0 1 146.96 1103.98 L152.31 1102.88 A239.61 239.61 0 0 0 152.86 1105.5Z" fill="#f9a45c"/>
<path d="M146.96 1103.98 A245.07 245.07 0 0 1 146.44 1101.39 L151.8 1100.34 A239.61 239.61 0 0 0 152.31 1102.88Z" fill="#fdf0e6"/>
<path d="M146.44 1101.39 A245.07 245.07 0 0 1 145.99 1098.98 L151.35 1097.99 A239.61 239.61 0 0 0 151.8 1100.34Z" fill="#6a5fb5"/>
<path d="M145.99 1098.98 A245.07 245.07 0 0 1 145.56 1096.59 L150.94 1095.65 A239.61 239.61 0 0 0 151.35 1097.99Z" fill="#11a674"/>
<path d="M145.56 1096.59 A245.07 245.07 0 0 1 145.18 1094.38 L150.57 1093.49 A239.61 239.61 0 0 0 150.94 1095.65Z" fill="#5b9a2a"/>
<path d="M145.18 1094.38 A245.07 245.07 0 0 1 144.84 1092.26 L150.24 1091.42 A239.61 239.61 0 0 0 150.57 1093.49Z" fill="#02bcbe"/>
<path d="M144.84 1092.26 A245.07 245.07 0 0 1 144.54 1090.23 L149.94 1089.44 A239.61 239.61 0 0 0 150.24 1091.42Z" fill="#a6c1dd"/>
<path d="M144.54 1090.23 A245.07 245.07 0 0 1 144.26 1088.28 L149.67 1087.53 A239.61 239.61 0 0 0 149.94 1089.44Z" fill="#a6c1dd"/>
<path d="M144.26 1088.28 A245.07 245.07 0 0 1 144.11 1087.15 L149.52 1086.43 A239.61 239.61 0 0 0 149.67 1087.53Z" fill="#11a674"/>
<path d="M144.11 1087.15 A245.07 245.07 0 0 1 143.99 1086.25 L149.4 1085.55 A239.61 239.61 0 0 0 149.52 1086.43Z" fill="#027f80"/>
<path d="M143.99 1086.25 A245.07 245.07 0 0 1 143.87 1085.35 L149.29 1084.67 A239.61 239.61 0 0 0 149.4 1085.55Z" fill="#a758a8"/>
<path d="M143.87 1085.35 A245.07 245.07 0 0 1 143.76 1084.48 L149.18 1083.82 A239.61 239.61 0 0 0 149.29 1084.67Z" fill="#6a5fb5"/>
<path d="M143.76 1084.48 A245.07 245.07 0 0 1 143.66 1083.66 L149.08 1083.01 A239.61 239.61 0 0 0 149.18 1083.82Z" fill="#e0595f"/>
<path d="M143.66 1083.66 A245.07 245.07 0 0 1 143.58 1082.97 L149 1082.34 A239.61 239.61 0 0 0 149.08 1083.01Z" fill="#fdf0e6"/>
<path d="M143.58 1082.97 A245.07 245.07 0 0 1 143.51 1082.34 L148.93 1081.72 A239.61 239.61 0 0 0 149 1082.34Z" fill="#4a8fd0"/>
<line x1="233.43" y1="1231.89" x2="230.12" y2="1235.71" stroke="#111" stroke-width="1.3"/>
<text transform="translate(250.97 1211.64) rotate(310.9)" font-size="8.69" text-anchor="end" dy="0.35em" fill="#222">0%</text>
<line x1="220.25" y1="1219.55" x2="216.66" y2="1223.11" stroke="#111" stroke-width="1.3"/>
<text transform="translate(239.3 1200.71) rotate(315.31)" font-size="8.69" text-anchor="end" dy="0.35em" fill="#222">10%</text>
<line x1="208.06" y1="1206.24" x2="204.21" y2="1209.51" stroke="#111" stroke-width="1.3"/>
<text transform="translate(228.5 1188.92) rotate(319.72)" font-size="8.69" text-anchor="end" dy="0.35em" fill="#222">20%</text>
<line x1="196.93" y1="1192.04" x2="192.83" y2="1195" stroke="#111" stroke-width="1.3"/>
<text transform="translate(218.64 1176.34) rotate(324.13)" font-size="8.69" text-anchor="end" dy="0.35em" fill="#222">30%</text>
<line x1="186.93" y1="1177.01" x2="182.61" y2="1179.65" stroke="#111" stroke-width="1.3"/>
<text transform="translate(209.78 1163.03) rotate(328.54)" font-size="8.69" text-anchor="end" dy="0.35em" fill="#222">40%</text>
<line x1="178.11" y1="1161.27" x2="173.6" y2="1163.57" stroke="#111" stroke-width="1.3"/>
<text transform="translate(201.97 1149.08) rotate(332.95)" font-size="8.69" text-anchor="end" dy="0.35em" fill="#222">50%</text>
<line x1="170.52" y1="1144.89" x2="165.86" y2="1146.83" stroke="#111" stroke-width="1.3"/>
<text transform="translate(195.25 1134.58) rotate(337.36)" font-size="8.69" text-anchor="end" dy="0.35em" fill="#222">60%</text>
<line x1="164.22" y1="1127.98" x2="159.42" y2="1129.56" stroke="#111" stroke-width="1.3"/>
<text transform="translate(189.67 1119.59) rotate(341.77)" font-size="8.69" text-anchor="end" dy="0.35em" fill="#222">70%</text>
<line x1="159.24" y1="1110.63" x2="154.33" y2="1111.84" stroke="#111" stroke-width="1.3"/>
<text transform="translate(185.25 1104.23) rotate(346.18)" font-size="8.69" text-anchor="end" dy="0.35em" fill="#222">80%</text>
<line x1="155.6" y1="1092.95" x2="150.62" y2="1093.78" stroke="#111" stroke-width="1.3"/>
<text transform="translate(182.04 1088.57) rotate(350.59)" font-size="8.69" text-anchor="end" dy="0.35em" fill="#222">90%</text>
<text transform="translate(124.07 1193.23) rotate(332.2)" font-size="13.85" text-anchor="end" dy="-0.03em" fill="#111">CK</text>
<path d="M126.37 1065.07 A260.84 260.84 0 0 1 188.95 884.85 L200.47 894.72 A245.67 245.67 0 0 0 141.52 1064.46Z" fill="#0443a0"/>
<path d="M142.13 1064.43 A245.07 245.07 0 0 1 164.22 952.5 L169.18 954.77 A239.61 239.61 0 0 0 147.59 1064.22Z" fill="#02bcbe"/>
<path d="M164.22 952.5 A245.07 245.07 0 0 1 167.44 945.74 L172.33 948.16 A239.61 239.61 0 0 0 169.18 954.77Z" fill="#fdf0e6"/>
<path d="M167.44 945.74 A245.07 245.07 0 0 1 170.43 939.91 L175.25 942.46 A239.61 239.61 0 0 0 172.33 948.16Z" fill="#a6c1dd"/>
<path d="M170.43 939.91 A245.07 245.07 0 0 1 173.11 934.97 L177.88 937.64 A239.61 239.61 0 0 0 175.25 942.46Z" fill="#e0595f"/>
<path d="M173.11 934.97 A245.07 245.07 0 0 1 175.34 931.07 L180.06 933.82 A239.61 239.61 0 0 0 177.88 937.64Z" fill="#a758a8"/>
<path d="M175.34 931.07 A245.07 245.07 0 0 1 177.47 927.5 L182.14 930.33 A239.61 239.61 0 0 0 180.06 933.82Z" fill="#fdf0e6"/>
<path d="M177.47 927.5 A245.07 245.07 0 0 1 179.64 923.99 L184.26 926.9 A239.61 239.61 0 0 0 182.14 930.33Z" fill="#6a5fb5"/>
<path d="M179.64 923.99 A245.07 245.07 0 0 1 181.32 921.36 L185.9 924.32 A239.61 239.61 0 0 0 184.26 926.9Z" fill="#02bcbe"/>
<path d="M181.32 921.36 A245.07 245.07 0 0 1 182.97 918.85 L187.51 921.88 A239.61 239.61 0 0 0 185.9 924.32Z" fill="#11a674"/>
<path d="M182.97 918.85 A245.07 245.07 0 0 1 184.62 916.4 L189.13 919.48 A239.61 239.61 0 0 0 187.51 921.88Z" fill="#e0595f"/>
<path d="M184.62 916.4 A245.07 245.07 0 0 1 186.1 914.26 L190.57 917.38 A239.61 239.61 0 0 0 189.13 919.48Z" fill="#f9a45c"/>
<path d="M186.1 914.26 A245.07 245.07 0 0 1 187.55 912.21 L191.99 915.38 A239.61 239.61 0 0 0 190.57 917.38Z" fill="#5b9a2a"/>
<path d="M187.55 912.21 A245.07 245.07 0 0 1 188.94 910.27 L193.35 913.49 A239.61 239.61 0 0 0 191.99 915.38Z" fill="#4a8fd0"/>
<path d="M188.94 910.27 A245.07 245.07 0 0 1 190.05 908.76 L194.44 912.01 A239.61 239.61 0 0 0 193.35 913.49Z" fill="#4a8fd0"/>
<path d="M190.05 908.76 A245.07 245.07 0 0 1 191.11 907.34 L195.48 910.62 A239.61 239.61 0 0 0 194.44 912.01Z" fill="#027f80"/>
<path d="M191.11 907.34 A245.07 245.07 0 0 1 192.13 906 L196.47 909.31 A239.61 239.61 0 0 0 195.48 910.62Z" fill="#027f80"/>
<path d="M192.13 906 A245.07 245.07 0 0 1 193.09 904.74 L197.41 908.08 A239.61 239.61 0 0 0 196.47 909.31Z" fill="#4a8fd0"/>
<path d="M193.09 904.74 A245.07 245.07 0 0 1 194 903.58 L198.3 906.94 A239.61 239.61 0 0 0 197.41 908.08Z" fill="#a6c1dd"/>
<path d="M194 903.58 A245.07 245.07 0 0 1 194.85 902.5 L199.13 905.88 A239.61 239.61 0 0 0 198.3 906.94Z" fill="#f9a45c"/>
<path d="M194.85 902.5 A245.07 245.07 0 0 1 195.62 901.52 L199.89 904.93 A239.61 239.61 0 0 0 199.13 905.88Z" fill="#02bcbe"/>
<path d="M195.62 901.52 A245.07 245.07 0 0 1 196.37 900.59 L200.62 904.02 A239.61 239.61 0 0 0 199.89 904.93Z" fill="#a758a8"/>
<path d="M196.37 900.59 A245.07 245.07 0 0 1 197.1 899.69 L201.34 903.14 A239.61 239.61 0 0 0 200.62 904.02Z" fill="#6a5fb5"/>
<path d="M197.1 899.69 A245.07 245.07 0 0 1 197.76 898.89 L201.97 902.36 A239.61 239.61 0 0 0 201.34 903.14Z" fill="#11a674"/>
<path d="M197.76 898.89 A245.07 245.07 0 0 1 198.37 898.15 L202.57 901.64 A239.61 239.61 0 0 0 201.97 902.36Z" fill="#5b9a2a"/>
<path d="M198.37 898.15 A245.07 245.07 0 0 1 198.9 897.52 L203.09 901.02 A239.61 239.61 0 0 0 202.57 901.64Z" fill="#a758a8"/>
<path d="M198.9 897.52 A245.07 245.07 0 0 1 199.41 896.91 L203.59 900.42 A239.61 239.61 0 0 0 203.09 901.02Z" fill="#11a674"/>
<path d="M199.41 896.91 A245.07 245.07 0 0 1 199.91 896.32 L204.07 899.84 A239.61 239.61 0 0 0 203.59 900.42Z" fill="#fdf0e6"/>
<path d="M199.91 896.32 A245.07 245.07 0 0 1 200.36 895.78 L204.52 899.32 A239.61 239.61 0 0 0 204.07 899.84Z" fill="#a6c1dd"/>
<path d="M200.36 895.78 A245.07 245.07 0 0 1 200.73 895.35 L204.88 898.89 A239.61 239.61 0 0 0 204.52 899.32Z" fill="#e0595f"/>
<path d="M200.73 895.35 A245.07 245.07 0 0 1 200.93 895.12 L205.07 898.67 A239.61 239.61 0 0 0 204.88 898.89Z" fill="#6a5fb5"/>
<line x1="152.64" y1="1064.01" x2="147.59" y2="1064.22" stroke="#111" stroke-width="1.3"/>
<text transform="translate(179.41 1062.94) rotate(357.7)" font-size="8.69" text-anchor="end" dy="0.35em" fill="#222">0%</text>
<line x1="152.61" y1="1045.96" x2="147.56" y2="1045.78" stroke="#111" stroke-width="1.3"/>
<text transform="translate(179.38 1046.95) rotate(362.11)" font-size="8.69" text-anchor="end" dy="0.35em" fill="#222">10%</text>
<line x1="153.97" y1="1027.97" x2="148.94" y2="1027.39" stroke="#111" stroke-width="1.3"/>
<text transform="translate(180.58 1031.01) rotate(366.52)" font-size="8.69" text-anchor="end" dy="0.35em" fill="#222">20%</text>
<line x1="156.7" y1="1010.13" x2="151.74" y2="1009.17" stroke="#111" stroke-width="1.3"/>
<text transform="translate(183.01 1015.21) rotate(370.93)" font-size="8.69" text-anchor="end" dy="0.35em" fill="#222">30%</text>
<line x1="160.8" y1="992.55" x2="155.93" y2="991.21" stroke="#111" stroke-width="1.3"/>
<text transform="translate(186.64 999.64) rotate(375.34)" font-size="8.69" text-anchor="end" dy="0.35em" fill="#222">40%</text>
<line x1="166.25" y1="975.34" x2="161.49" y2="973.63" stroke="#111" stroke-width="1.3"/>
<text transform="translate(191.46 984.39) rotate(379.75)" font-size="8.69" text-anchor="end" dy="0.35em" fill="#222">50%</text>
<line x1="172.99" y1="958.6" x2="168.38" y2="956.53" stroke="#111" stroke-width="1.3"/>
<text transform="translate(197.44 969.57) rotate(384.16)" font-size="8.69" text-anchor="end" dy="0.35em" fill="#222">60%</text>
<line x1="181.01" y1="942.43" x2="176.57" y2="940.01" stroke="#111" stroke-width="1.3"/>
<text transform="translate(204.54 955.24) rotate(388.57)" font-size="8.69" text-anchor="end" dy="0.35em" fill="#222">70%</text>
<line x1="190.24" y1="926.92" x2="186" y2="924.17" stroke="#111" stroke-width="1.3"/>
<text transform="translate(212.72 941.51) rotate(392.98)" font-size="8.69" text-anchor="end" dy="0.35em" fill="#222">80%</text>
<line x1="200.64" y1="912.17" x2="196.63" y2="909.1" stroke="#111" stroke-width="1.3"/>
<text transform="translate(221.93 928.44) rotate(397.39)" font-size="8.69" text-anchor="end" dy="0.35em" fill="#222">90%</text>
<text transform="translate(106.21 957.09) rotate(379.15)" font-size="13.85" text-anchor="end" dy="-0.03em" fill="#111">S</text>
<path d="M202.88 869.84 A260.84 260.84 0 0 1 377.21 793.95 L377.78 809.1 A245.67 245.67 0 0 0 213.59 880.58Z" fill="#067c33"/>
<path d="M214.01 881.01 A245.07 245.07 0 0 1 290.9 829.16 L293.04 834.19 A239.61 239.61 0 0 0 217.87 884.88Z" fill="#02bcbe"/>
<path d="M290.9 829.16 A245.07 245.07 0 0 1 301.29 825.01 L303.2 830.12 A239.61 239.61 0 0 0 293.04 834.19Z" fill="#a6c1dd"/>
<path d="M301.29 825.01 A245.07 245.07 0 0 1 308.32 822.51 L310.07 827.68 A239.61 239.61 0 0 0 303.2 830.12Z" fill="#fdf0e6"/>
<path d="M308.32 822.51 A245.07 245.07 0 0 1 314.17 820.6 L315.8 825.82 A239.61 239.61 0 0 0 310.07 827.68Z" fill="#027f80"/>
<path d="M314.17 820.6 A245.07 245.07 0 0 1 319.54 819 L321.04 824.25 A239.61 239.61 0 0 0 315.8 825.82Z" fill="#4a8fd0"/>
<path d="M319.54 819 A245.07 245.07 0 0 1 324.93 817.52 L326.32 822.8 A239.61 239.61 0 0 0 321.04 824.25Z" fill="#e0595f"/>
<path d="M324.93 817.52 A245.07 245.07 0 0 1 330 816.25 L331.27 821.56 A239.61 239.61 0 0 0 326.32 822.8Z" fill="#11a674"/>
<path d="M330 816.25 A245.07 245.07 0 0 1 333.64 815.41 L334.83 820.74 A239.61 239.61 0 0 0 331.27 821.56Z" fill="#a758a8"/>
<path d="M333.64 815.41 A245.07 245.07 0 0 1 337.2 814.65 L338.31 819.99 A239.61 239.61 0 0 0 334.83 820.74Z" fill="#02bcbe"/>
<path d="M337.2 814.65 A245.07 245.07 0 0 1 340.63 813.96 L341.66 819.32 A239.61 239.61 0 0 0 338.31 819.99Z" fill="#027f80"/>
<path d="M340.63 813.96 A245.07 245.07 0 0 1 343.92 813.35 L344.88 818.72 A239.61 239.61 0 0 0 341.66 819.32Z" fill="#4a8fd0"/>
<path d="M343.92 813.35 A245.07 245.07 0 0 1 346.87 812.84 L347.77 818.23 A239.61 239.61 0 0 0 344.88 818.72Z" fill="#11a674"/>
<path d="M346.87 812.84 A245.07 245.07 0 0 1 349.82 812.37 L350.65 817.77 A239.61 239.61 0 0 0 347.77 818.23Z" fill="#6a5fb5"/>
<path d="M349.82 812.37 A245.07 245.07 0 0 1 352.66 811.95 L353.43 817.36 A239.61 239.61 0 0 0 350.65 817.77Z" fill="#02bcbe"/>
<path d="M352.66 811.95 A245.07 245.07 0 0 1 355.36 811.59 L356.06 817 A239.61 239.61 0 0 0 353.43 817.36Z" fill="#a6c1dd"/>
<path d="M355.36 811.59 A245.07 245.07 0 0 1 357.97 811.26 L358.62 816.68 A239.61 239.61 0 0 0 356.06 817Z" fill="#6a5fb5"/>
<path d="M357.97 811.26 A245.07 245.07 0 0 1 360.57 810.96 L361.16 816.39 A239.61 239.61 0 0 0 358.62 816.68Z" fill="#5b9a2a"/>
<path d="M360.57 810.96 A245.07 245.07 0 0 1 362.97 810.71 L363.51 816.15 A239.61 239.61 0 0 0 361.16 816.39Z" fill="#e0595f"/>
<path d="M362.97 810.71 A245.07 245.07 0 0 1 365.05 810.52 L365.54 815.96 A239.61 239.61 0 0 0 363.51 816.15Z" fill="#f9a45c"/>
<path d="M365.05 810.52 A245.07 245.07 0 0 1 366.96 810.35 L367.41 815.8 A239.61 239.61 0 0 0 365.54 815.96Z" fill="#fdf0e6"/>
<path d="M366.96 810.35 A245.07 245.07 0 0 1 368.82 810.21 L369.22 815.65 A239.61 239.61 0 0 0 367.41 815.8Z" fill="#fdf0e6"/>
<path d="M368.82 810.21 A245.07 245.07 0 0 1 370.6 810.08 L370.97 815.53 A239.61 239.61 0 0 0 369.22 815.65Z" fill="#5b9a2a"/>
<path d="M370.6 810.08 A245.07 245.07 0 0 1 371.92 810 L372.26 815.45 A239.61 239.61 0 0 0 370.97 815.53Z" fill="#f9a45c"/>
<path d="M371.92 810 A245.07 245.07 0 0 1 373.1 809.93 L373.41 815.38 A239.61 239.61 0 0 0 372.26 815.45Z" fill="#a758a8"/>
<path d="M373.1 809.93 A245.07 245.07 0 0 1 374.1 809.87 L374.38 815.33 A239.61 239.61 0 0 0 373.41 815.38Z" fill="#4a8fd0"/>
<path d="M374.1 809.87 A245.07 245.07 0 0 1 375.06 809.82 L375.32 815.28 A239.61 239.61 0 0 0 374.38 815.33Z" fill="#e0595f"/>
<path d="M375.06 809.82 A245.07 245.07 0 0 1 375.92 809.78 L376.17 815.24 A239.61 239.61 0 0 0 375.32 815.28Z" fill="#a6c1dd"/>
<path d="M375.92 809.78 A245.07 245.07 0 0 1 376.59 809.75 L376.83 815.21 A239.61 239.61 0 0 0 376.17 815.24Z" fill="#6a5fb5"/>
<path d="M376.59 809.75 A245.07 245.07 0 0 1 377.2 809.73 L377.42 815.18 A239.61 239.61 0 0 0 376.83 815.21Z" fill="#11a674"/>
<path d="M377.2 809.73 A245.07 245.07 0 0 1 377.81 809.71 L378.01 815.16 A239.61 239.61 0 0 0 377.42 815.18Z" fill="#a758a8"/>
<line x1="221.44" y1="888.46" x2="217.87" y2="884.88" stroke="#111" stroke-width="1.3"/>
<text transform="translate(240.35 907.43) rotate(405.1)" font-size="8.69" text-anchor="end" dy="0.35em" fill="#222">0%</text>
<line x1="234.7" y1="876.22" x2="231.42" y2="872.37" stroke="#111" stroke-width="1.3"/>
<text transform="translate(252.1 896.59) rotate(409.51)" font-size="8.69" text-anchor="end" dy="0.35em" fill="#222">10%</text>
<line x1="248.87" y1="865.04" x2="245.89" y2="860.95" stroke="#111" stroke-width="1.3"/>
<text transform="translate(264.65 886.69) rotate(413.92)" font-size="8.69" text-anchor="end" dy="0.35em" fill="#222">20%</text>
<line x1="263.85" y1="854.98" x2="261.2" y2="850.67" stroke="#111" stroke-width="1.3"/>
<text transform="translate(277.92 877.78) rotate(418.33)" font-size="8.69" text-anchor="end" dy="0.35em" fill="#222">30%</text>
<line x1="279.57" y1="846.1" x2="277.25" y2="841.6" stroke="#111" stroke-width="1.3"/>
<text transform="translate(291.84 869.91) rotate(422.74)" font-size="8.69" text-anchor="end" dy="0.35em" fill="#222">40%</text>
<line x1="295.92" y1="838.45" x2="293.96" y2="833.8" stroke="#111" stroke-width="1.3"/>
<text transform="translate(306.32 863.14) rotate(427.15)" font-size="8.69" text-anchor="end" dy="0.35em" fill="#222">50%</text>
<line x1="312.81" y1="832.09" x2="311.21" y2="827.3" stroke="#111" stroke-width="1.3"/>
<text transform="translate(321.28 857.51) rotate(431.56)" font-size="8.69" text-anchor="end" dy="0.35em" fill="#222">60%</text>
<line x1="330.14" y1="827.04" x2="328.91" y2="822.14" stroke="#111" stroke-width="1.3"/>
<text transform="translate(336.63 853.04) rotate(435.97)" font-size="8.69" text-anchor="end" dy="0.35em" fill="#222">70%</text>
<line x1="347.8" y1="823.35" x2="346.96" y2="818.36" stroke="#111" stroke-width="1.3"/>
<text transform="translate(352.28 849.76) rotate(440.38)" font-size="8.69" text-anchor="end" dy="0.35em" fill="#222">80%</text>
<line x1="365.7" y1="821.02" x2="365.24" y2="815.98" stroke="#111" stroke-width="1.3"/>
<text transform="translate(368.13 847.7) rotate(444.79)" font-size="8.69" text-anchor="end" dy="0.35em" fill="#222">90%</text>
<text transform="translate(268.36 782.07) rotate(426.48)" font-size="13.85" text-anchor="end" dy="-0.03em" fill="#111">T</text>
<path d="M395.85 787.84 A266.9 266.9 0 0 1 643.95 982.38 L636.45 984.48 A259.12 259.12 0 0 0 395.59 795.62Z" fill="#02bcbe"/>
<path d="M395.48 798.96 A255.78 255.78 0 0 1 512.61 831.78 L507.94 840.06 A246.28 246.28 0 0 0 395.17 808.46Z" fill="#0443a0"/>
<path d="M512.61 831.78 A255.78 255.78 0 0 1 587.16 895.35 L579.72 901.27 A246.28 246.28 0 0 0 507.94 840.06Z" fill="#067c33"/>
<path d="M587.16 895.35 A255.78 255.78 0 0 1 633.24 985.39 L624.09 987.96 A246.28 246.28 0 0 0 579.72 901.27Z" fill="#fb0d14"/>
<line x1="394.98" y1="814.11" x2="395.13" y2="809.47" stroke="#111" stroke-width="1.3"/>
<text transform="translate(394.21 837.35) rotate(-88.1)" font-size="8.69" text-anchor="start" dy="0.35em" fill="#222">0%</text>
<line x1="425.88" y1="817.14" x2="426.64" y2="812.56" stroke="#111" stroke-width="1.3"/>
<text transform="translate(422.13 840.09) rotate(-80.7)" font-size="8.69" text-anchor="start" dy="0.35em" fill="#222">10%</text>
<line x1="456.14" y1="824.13" x2="457.48" y2="819.68" stroke="#111" stroke-width="1.3"/>
<text transform="translate(449.46 846.4) rotate(-73.3)" font-size="8.69" text-anchor="start" dy="0.35em" fill="#222">20%</text>
<line x1="485.25" y1="834.96" x2="487.15" y2="830.71" stroke="#111" stroke-width="1.3"/>
<text transform="translate(475.76 856.18) rotate(-65.9)" font-size="8.69" text-anchor="start" dy="0.35em" fill="#222">30%</text>
<line x1="512.72" y1="849.44" x2="515.15" y2="845.47" stroke="#111" stroke-width="1.3"/>
<text transform="translate(500.57 869.27) rotate(-58.5)" font-size="8.69" text-anchor="start" dy="0.35em" fill="#222">40%</text>
<line x1="538.1" y1="867.34" x2="541.02" y2="863.72" stroke="#111" stroke-width="1.3"/>
<text transform="translate(523.5 885.44) rotate(-51.1)" font-size="8.69" text-anchor="start" dy="0.35em" fill="#222">50%</text>
<line x1="560.96" y1="888.36" x2="564.32" y2="885.15" stroke="#111" stroke-width="1.3"/>
<text transform="translate(544.15 904.43) rotate(-43.7)" font-size="8.69" text-anchor="start" dy="0.35em" fill="#222">60%</text>
<line x1="580.92" y1="912.15" x2="584.67" y2="909.4" stroke="#111" stroke-width="1.3"/>
<text transform="translate(562.18 925.92) rotate(-36.3)" font-size="8.69" text-anchor="start" dy="0.35em" fill="#222">70%</text>
<line x1="597.65" y1="938.31" x2="601.72" y2="936.07" stroke="#111" stroke-width="1.3"/>
<text transform="translate(577.3 949.55) rotate(-28.9)" font-size="8.69" text-anchor="start" dy="0.35em" fill="#222">80%</text>
<line x1="610.88" y1="966.41" x2="615.2" y2="964.71" stroke="#111" stroke-width="1.3"/>
<text transform="translate(589.24 974.94) rotate(-21.5)" font-size="8.69" text-anchor="start" dy="0.35em" fill="#222">90%</text>
<text transform="translate(570.4 820.7) rotate(-51.9)" font-size="13.85" text-anchor="start" dy="-0.03em" fill="#111">others</text>
<path d="M648.64 1001.84 A266.9 266.9 0 0 1 651.97 1022.53 L644.24 1023.47 A259.12 259.12 0 0 0 641.01 1003.38Z" fill="#a6c1dd"/>
<path d="M637.74 1004.04 A255.78 255.78 0 0 1 639.35 1012.82 L629.97 1014.38 A246.28 246.28 0 0 0 628.42 1005.92Z" fill="#067c33"/>
<path d="M639.35 1012.82 A255.78 255.78 0 0 1 640.25 1018.71 L630.84 1020.04 A246.28 246.28 0 0 0 629.97 1014.38Z" fill="#fb0d14"/>
<path d="M640.25 1018.71 A255.78 255.78 0 0 1 640.93 1023.87 L631.5 1025.01 A246.28 246.28 0 0 0 630.84 1020.04Z" fill="#0443a0"/>
<line x1="621.48" y1="1007.32" x2="626.74" y2="1006.26" stroke="#000" stroke-width="1.35"/>
<line x1="621.95" y1="1009.7" x2="627.21" y2="1008.69" stroke="#000" stroke-width="1.35"/>
<line x1="622.39" y1="1012.08" x2="627.67" y2="1011.12" stroke="#000" stroke-width="1.35"/>
<line x1="622.81" y1="1014.46" x2="628.09" y2="1013.56" stroke="#000" stroke-width="1.35"/>
<line x1="623.21" y1="1016.85" x2="628.5" y2="1016.01" stroke="#000" stroke-width="1.35"/>
<line x1="623.58" y1="1019.24" x2="628.87" y2="1018.45" stroke="#000" stroke-width="1.35"/>
<line x1="623.92" y1="1021.64" x2="629.23" y2="1020.9" stroke="#000" stroke-width="1.35"/>
<line x1="624.24" y1="1024.04" x2="629.56" y2="1023.36" stroke="#000" stroke-width="1.35"/>
<line x1="624.54" y1="1026.44" x2="629.86" y2="1025.81" stroke="#000" stroke-width="1.35"/>
<line x1="624.81" y1="1028.85" x2="630.14" y2="1028.27" stroke="#000" stroke-width="1.35"/>
<text transform="translate(680.45 1007.33) rotate(-9.15)" font-size="13.85" text-anchor="start" dy="-0.03em" fill="#111">Arthrobacter</text>
<path d="M653.61 1042.03 A266.9 266.9 0 0 1 653.9 1055.07 L646.12 1055.05 A259.12 259.12 0 0 0 645.83 1042.39Z" fill="#fdf0e6"/>
<path d="M642.5 1042.55 A255.78 255.78 0 0 1 642.69 1047.8 L633.19 1048.05 A246.28 246.28 0 0 0 633.01 1043Z" fill="#067c33"/>
<path d="M642.69 1047.8 A255.78 255.78 0 0 1 642.77 1052.3 L633.27 1052.38 A246.28 246.28 0 0 0 633.19 1048.05Z" fill="#fb0d14"/>
<path d="M642.77 1052.3 A255.78 255.78 0 0 1 642.78 1055.05 L633.28 1055.03 A246.28 246.28 0 0 0 633.27 1052.38Z" fill="#0443a0"/>
<line x1="625.94" y1="1043.33" x2="631.29" y2="1043.08" stroke="#000" stroke-width="1.35"/>
<line x1="626.01" y1="1045.04" x2="631.37" y2="1044.83" stroke="#000" stroke-width="1.35"/>
<line x1="626.07" y1="1046.75" x2="631.43" y2="1046.58" stroke="#000" stroke-width="1.35"/>
<line x1="626.12" y1="1048.46" x2="631.48" y2="1048.33" stroke="#000" stroke-width="1.35"/>
<line x1="626.16" y1="1050.17" x2="631.52" y2="1050.08" stroke="#000" stroke-width="1.35"/>
<line x1="626.19" y1="1051.89" x2="631.55" y2="1051.83" stroke="#000" stroke-width="1.35"/>
<line x1="626.2" y1="1053.6" x2="631.56" y2="1053.58" stroke="#000" stroke-width="1.35"/>
<line x1="626.2" y1="1055.31" x2="631.56" y2="1055.33" stroke="#000" stroke-width="1.35"/>
<line x1="626.19" y1="1057.02" x2="631.55" y2="1057.08" stroke="#000" stroke-width="1.35"/>
<line x1="626.17" y1="1058.73" x2="631.52" y2="1058.83" stroke="#000" stroke-width="1.35"/>
<text transform="translate(684.16 1047.86) rotate(-1.3)" font-size="13.85" text-anchor="start" dy="-0.03em" fill="#111">norank_o__Gaiellales</text>
<path d="M653.19 1074.15 A266.9 266.9 0 0 1 651.91 1087.13 L644.19 1086.18 A259.12 259.12 0 0 0 645.42 1073.58Z" fill="#4a8fd0"/>
<path d="M642.1 1073.33 A255.78 255.78 0 0 1 641.59 1079.23 L632.13 1078.32 A246.28 246.28 0 0 0 632.62 1072.64Z" fill="#fb0d14"/>
<path d="M641.59 1079.23 A255.78 255.78 0 0 1 641.07 1084.14 L631.63 1083.04 A246.28 246.28 0 0 0 632.13 1078.32Z" fill="#067c33"/>
<path d="M641.07 1084.14 A255.78 255.78 0 0 1 640.88 1085.77 L631.44 1084.61 A246.28 246.28 0 0 0 631.63 1083.04Z" fill="#0443a0"/>
<line x1="625.56" y1="1072.12" x2="630.9" y2="1072.51" stroke="#000" stroke-width="1.35"/>
<line x1="625.43" y1="1073.83" x2="630.77" y2="1074.26" stroke="#000" stroke-width="1.35"/>
<line x1="625.29" y1="1075.53" x2="630.62" y2="1076" stroke="#000" stroke-width="1.35"/>
<line x1="625.13" y1="1077.24" x2="630.46" y2="1077.74" stroke="#000" stroke-width="1.35"/>
<line x1="624.96" y1="1078.94" x2="630.29" y2="1079.48" stroke="#000" stroke-width="1.35"/>
<line x1="624.78" y1="1080.64" x2="630.11" y2="1081.22" stroke="#000" stroke-width="1.35"/>
<line x1="624.59" y1="1082.34" x2="629.91" y2="1082.96" stroke="#000" stroke-width="1.35"/>
<line x1="624.38" y1="1084.04" x2="629.7" y2="1084.7" stroke="#000" stroke-width="1.35"/>
<line x1="624.17" y1="1085.74" x2="629.48" y2="1086.44" stroke="#000" stroke-width="1.35"/>
<line x1="623.94" y1="1087.44" x2="629.25" y2="1088.17" stroke="#000" stroke-width="1.35"/>
<text transform="translate(682.82 1083.6) rotate(5.6)" font-size="13.85" text-anchor="start" dy="-0.03em" fill="#111">norank_c__Subgroup_6</text>
<path d="M648.87 1106.21 A266.9 266.9 0 0 1 646.8 1115.77 L639.22 1113.99 A259.12 259.12 0 0 0 641.23 1104.71Z" fill="#e0595f"/>
<path d="M637.95 1104.06 A255.78 255.78 0 0 1 637.2 1107.74 L627.91 1105.76 A246.28 246.28 0 0 0 628.63 1102.23Z" fill="#0443a0"/>
<path d="M637.2 1107.74 A255.78 255.78 0 0 1 636.4 1111.4 L627.13 1109.29 A246.28 246.28 0 0 0 627.91 1105.76Z" fill="#067c33"/>
<path d="M636.4 1111.4 A255.78 255.78 0 0 1 635.97 1113.23 L626.72 1111.05 A246.28 246.28 0 0 0 627.13 1109.29Z" fill="#fb0d14"/>
<line x1="621.69" y1="1100.86" x2="626.94" y2="1101.89" stroke="#000" stroke-width="1.35"/>
<line x1="621.41" y1="1102.25" x2="626.66" y2="1103.32" stroke="#000" stroke-width="1.35"/>
<line x1="621.12" y1="1103.64" x2="626.37" y2="1104.74" stroke="#000" stroke-width="1.35"/>
<line x1="620.83" y1="1105.03" x2="626.06" y2="1106.16" stroke="#000" stroke-width="1.35"/>
<line x1="620.52" y1="1106.41" x2="625.75" y2="1107.57" stroke="#000" stroke-width="1.35"/>
<line x1="620.21" y1="1107.8" x2="625.44" y2="1108.99" stroke="#000" stroke-width="1.35"/>
<line x1="619.89" y1="1109.18" x2="625.11" y2="1110.4" stroke="#000" stroke-width="1.35"/>
<line x1="619.56" y1="1110.56" x2="624.77" y2="1111.82" stroke="#000" stroke-width="1.35"/>
<line x1="619.23" y1="1111.94" x2="624.43" y2="1113.23" stroke="#000" stroke-width="1.35"/>
<line x1="618.88" y1="1113.32" x2="624.08" y2="1114.63" stroke="#000" stroke-width="1.35"/>
<text transform="translate(677.52 1117.41) rotate(12.2)" font-size="13.85" text-anchor="start" dy="-0.03em" fill="#111">Sphingomonas</text>
<path d="M641.69 1134.42 A266.9 266.9 0 0 1 639.06 1142.38 L631.71 1139.82 A259.12 259.12 0 0 0 634.26 1132.09Z" fill="#a758a8"/>
<path d="M631.08 1131.09 A255.78 255.78 0 0 1 630.08 1134.19 L621.05 1131.23 A246.28 246.28 0 0 0 622.01 1128.25Z" fill="#fb0d14"/>
<path d="M630.08 1134.19 A255.78 255.78 0 0 1 629.26 1136.66 L620.26 1133.62 A246.28 246.28 0 0 0 621.05 1131.23Z" fill="#0443a0"/>
<path d="M629.26 1136.66 A255.78 255.78 0 0 1 628.56 1138.72 L619.58 1135.59 A246.28 246.28 0 0 0 620.26 1133.62Z" fill="#067c33"/>
<line x1="615.26" y1="1126.13" x2="620.37" y2="1127.73" stroke="#000" stroke-width="1.35"/>
<line x1="614.87" y1="1127.37" x2="619.97" y2="1129" stroke="#000" stroke-width="1.35"/>
<line x1="614.47" y1="1128.6" x2="619.56" y2="1130.25" stroke="#000" stroke-width="1.35"/>
<line x1="614.07" y1="1129.83" x2="619.15" y2="1131.51" stroke="#000" stroke-width="1.35"/>
<line x1="613.66" y1="1131.05" x2="618.73" y2="1132.77" stroke="#000" stroke-width="1.35"/>
<line x1="613.24" y1="1132.28" x2="618.31" y2="1134.02" stroke="#000" stroke-width="1.35"/>
<line x1="612.81" y1="1133.5" x2="617.87" y2="1135.27" stroke="#000" stroke-width="1.35"/>
<line x1="612.38" y1="1134.72" x2="617.43" y2="1136.52" stroke="#000" stroke-width="1.35"/>
<line x1="611.95" y1="1135.94" x2="616.99" y2="1137.76" stroke="#000" stroke-width="1.35"/>
<line x1="611.5" y1="1137.16" x2="616.53" y2="1139.01" stroke="#000" stroke-width="1.35"/>
<text transform="translate(669.2 1147.93) rotate(18.3)" font-size="13.85" text-anchor="start" dy="-0.03em" fill="#111">Pseudomonas</text>
<path d="M632.32 1159.74 A266.9 266.9 0 0 1 629.29 1166.55 L622.22 1163.29 A259.12 259.12 0 0 0 625.17 1156.68Z" fill="#11a674"/>
<path d="M622.1 1155.36 A255.78 255.78 0 0 1 620.94 1158.02 L612.25 1154.18 A246.28 246.28 0 0 0 613.36 1151.62Z" fill="#067c33"/>
<path d="M620.94 1158.02 A255.78 255.78 0 0 1 619.88 1160.38 L611.23 1156.45 A246.28 246.28 0 0 0 612.25 1154.18Z" fill="#fb0d14"/>
<path d="M619.88 1160.38 A255.78 255.78 0 0 1 619.19 1161.89 L610.57 1157.9 A246.28 246.28 0 0 0 611.23 1156.45Z" fill="#0443a0"/>
<line x1="606.86" y1="1148.83" x2="611.78" y2="1150.94" stroke="#000" stroke-width="1.35"/>
<line x1="606.38" y1="1149.94" x2="611.29" y2="1152.08" stroke="#000" stroke-width="1.35"/>
<line x1="605.89" y1="1151.05" x2="610.8" y2="1153.21" stroke="#000" stroke-width="1.35"/>
<line x1="605.4" y1="1152.16" x2="610.3" y2="1154.34" stroke="#000" stroke-width="1.35"/>
<line x1="604.91" y1="1153.26" x2="609.79" y2="1155.47" stroke="#000" stroke-width="1.35"/>
<line x1="604.4" y1="1154.37" x2="609.27" y2="1156.6" stroke="#000" stroke-width="1.35"/>
<line x1="603.9" y1="1155.46" x2="608.76" y2="1157.72" stroke="#000" stroke-width="1.35"/>
<line x1="603.38" y1="1156.56" x2="608.23" y2="1158.84" stroke="#000" stroke-width="1.35"/>
<line x1="602.86" y1="1157.65" x2="607.7" y2="1159.96" stroke="#000" stroke-width="1.35"/>
<line x1="602.34" y1="1158.75" x2="607.16" y2="1161.08" stroke="#000" stroke-width="1.35"/>
<text transform="translate(658.54 1175.5) rotate(24)" font-size="13.85" text-anchor="start" dy="-0.03em" fill="#111">Bacillus</text>
<path d="M620.78 1183.39 A266.9 266.9 0 0 1 617.33 1189.46 L610.61 1185.53 A259.12 259.12 0 0 0 613.96 1179.63Z" fill="#6a5fb5"/>
<path d="M611.04 1178.02 A255.78 255.78 0 0 1 609.62 1180.55 L601.35 1175.87 A246.28 246.28 0 0 0 602.71 1173.43Z" fill="#fb0d14"/>
<path d="M609.62 1180.55 A255.78 255.78 0 0 1 608.53 1182.46 L600.3 1177.71 A246.28 246.28 0 0 0 601.35 1175.87Z" fill="#0443a0"/>
<path d="M608.53 1182.46 A255.78 255.78 0 0 1 607.73 1183.84 L599.53 1179.04 A246.28 246.28 0 0 0 600.3 1177.71Z" fill="#067c33"/>
<line x1="596.51" y1="1170.02" x2="601.21" y2="1172.61" stroke="#000" stroke-width="1.35"/>
<line x1="595.95" y1="1171.04" x2="600.63" y2="1173.65" stroke="#000" stroke-width="1.35"/>
<line x1="595.38" y1="1172.06" x2="600.04" y2="1174.69" stroke="#000" stroke-width="1.35"/>
<line x1="594.8" y1="1173.08" x2="599.45" y2="1175.73" stroke="#000" stroke-width="1.35"/>
<line x1="594.22" y1="1174.09" x2="598.86" y2="1176.77" stroke="#000" stroke-width="1.35"/>
<line x1="593.63" y1="1175.1" x2="598.26" y2="1177.8" stroke="#000" stroke-width="1.35"/>
<line x1="593.04" y1="1176.11" x2="597.66" y2="1178.83" stroke="#000" stroke-width="1.35"/>
<line x1="592.44" y1="1177.12" x2="597.05" y2="1179.86" stroke="#000" stroke-width="1.35"/>
<line x1="591.84" y1="1178.12" x2="596.43" y2="1180.89" stroke="#000" stroke-width="1.35"/>
<line x1="591.24" y1="1179.12" x2="595.81" y2="1181.91" stroke="#000" stroke-width="1.35"/>
<text transform="translate(645.44 1201.42) rotate(29.6)" font-size="13.85" text-anchor="start" dy="-0.03em" fill="#111">norank_c__KD4-96</text>
<path d="M607.42 1205.1 A266.9 266.9 0 0 1 603.82 1210.25 L597.49 1205.71 A259.12 259.12 0 0 0 600.99 1200.71Z" fill="#02bcbe"/>
<path d="M598.24 1198.83 A255.78 255.78 0 0 1 597.01 1200.62 L589.2 1195.2 A246.28 246.28 0 0 0 590.39 1193.47Z" fill="#067c33"/>
<path d="M597.01 1200.62 A255.78 255.78 0 0 1 595.86 1202.26 L588.1 1196.77 A246.28 246.28 0 0 0 589.2 1195.2Z" fill="#fb0d14"/>
<path d="M595.86 1202.26 A255.78 255.78 0 0 1 594.78 1203.77 L587.06 1198.23 A246.28 246.28 0 0 0 588.1 1196.77Z" fill="#0443a0"/>
<line x1="584.55" y1="1189.48" x2="588.97" y2="1192.5" stroke="#000" stroke-width="1.35"/>
<line x1="583.92" y1="1190.4" x2="588.33" y2="1193.44" stroke="#000" stroke-width="1.35"/>
<line x1="583.29" y1="1191.3" x2="587.69" y2="1194.37" stroke="#000" stroke-width="1.35"/>
<line x1="582.66" y1="1192.21" x2="587.04" y2="1195.29" stroke="#000" stroke-width="1.35"/>
<line x1="582.02" y1="1193.11" x2="586.39" y2="1196.22" stroke="#000" stroke-width="1.35"/>
<line x1="581.37" y1="1194.02" x2="585.73" y2="1197.14" stroke="#000" stroke-width="1.35"/>
<line x1="580.73" y1="1194.91" x2="585.07" y2="1198.06" stroke="#000" stroke-width="1.35"/>
<line x1="580.08" y1="1195.81" x2="584.4" y2="1198.97" stroke="#000" stroke-width="1.35"/>
<line x1="579.42" y1="1196.7" x2="583.73" y2="1199.88" stroke="#000" stroke-width="1.35"/>
<line x1="578.76" y1="1197.59" x2="583.06" y2="1200.79" stroke="#000" stroke-width="1.35"/>
<text transform="translate(630.48 1225.09) rotate(35)" font-size="13.85" text-anchor="start" dy="-0.03em" fill="#111">Streptomyces</text>
<path d="M593.91 1223.2 A266.9 266.9 0 0 1 590.18 1227.67 L584.26 1222.63 A259.12 259.12 0 0 0 587.87 1218.28Z" fill="#027f80"/>
<path d="M585.29 1216.18 A255.78 255.78 0 0 1 583.54 1218.3 L576.23 1212.22 A246.28 246.28 0 0 0 577.92 1210.17Z" fill="#067c33"/>
<path d="M583.54 1218.3 A255.78 255.78 0 0 1 582.23 1219.86 L574.98 1213.72 A246.28 246.28 0 0 0 576.23 1212.22Z" fill="#fb0d14"/>
<path d="M582.23 1219.86 A255.78 255.78 0 0 1 581.72 1220.46 L574.48 1214.3 A246.28 246.28 0 0 0 574.98 1213.72Z" fill="#0443a0"/>
<line x1="572.43" y1="1205.7" x2="576.59" y2="1209.09" stroke="#000" stroke-width="1.35"/>
<line x1="571.76" y1="1206.53" x2="575.9" y2="1209.93" stroke="#000" stroke-width="1.35"/>
<line x1="571.08" y1="1207.35" x2="575.21" y2="1210.77" stroke="#000" stroke-width="1.35"/>
<line x1="570.4" y1="1208.16" x2="574.51" y2="1211.6" stroke="#000" stroke-width="1.35"/>
<line x1="569.72" y1="1208.98" x2="573.81" y2="1212.44" stroke="#000" stroke-width="1.35"/>
<line x1="569.03" y1="1209.79" x2="573.1" y2="1213.27" stroke="#000" stroke-width="1.35"/>
<line x1="568.33" y1="1210.6" x2="572.4" y2="1214.09" stroke="#000" stroke-width="1.35"/>
<line x1="567.64" y1="1211.4" x2="571.68" y2="1214.92" stroke="#000" stroke-width="1.35"/>
<line x1="566.94" y1="1212.21" x2="570.97" y2="1215.74" stroke="#000" stroke-width="1.35"/>
<line x1="566.24" y1="1213.01" x2="570.25" y2="1216.56" stroke="#000" stroke-width="1.35"/>
<text transform="translate(615.36 1244.86) rotate(39.8)" font-size="13.85" text-anchor="start" dy="-0.03em" fill="#111">norank_f__Roseiflexaceae</text>
<path d="M578.59 1240.43 A266.9 266.9 0 0 1 574.82 1244.23 L569.34 1238.7 A259.12 259.12 0 0 0 573 1235.01Z" fill="#f9a45c"/>
<path d="M570.61 1232.68 A255.78 255.78 0 0 1 569.02 1234.31 L562.25 1227.63 A246.28 246.28 0 0 0 563.79 1226.07Z" fill="#fb0d14"/>
<path d="M569.02 1234.31 A255.78 255.78 0 0 1 567.68 1235.65 L560.97 1228.93 A246.28 246.28 0 0 0 562.25 1227.63Z" fill="#0443a0"/>
<path d="M567.68 1235.65 A255.78 255.78 0 0 1 567 1236.33 L560.31 1229.58 A246.28 246.28 0 0 0 560.97 1228.93Z" fill="#067c33"/>
<line x1="558.71" y1="1221.14" x2="562.55" y2="1224.87" stroke="#000" stroke-width="1.35"/>
<line x1="557.99" y1="1221.87" x2="561.82" y2="1225.62" stroke="#000" stroke-width="1.35"/>
<line x1="557.27" y1="1222.6" x2="561.09" y2="1226.36" stroke="#000" stroke-width="1.35"/>
<line x1="556.55" y1="1223.33" x2="560.35" y2="1227.11" stroke="#000" stroke-width="1.35"/>
<line x1="555.83" y1="1224.05" x2="559.61" y2="1227.85" stroke="#000" stroke-width="1.35"/>
<line x1="555.11" y1="1224.77" x2="558.87" y2="1228.58" stroke="#000" stroke-width="1.35"/>
<line x1="554.38" y1="1225.49" x2="558.13" y2="1229.32" stroke="#000" stroke-width="1.35"/>
<line x1="553.64" y1="1226.2" x2="557.38" y2="1230.05" stroke="#000" stroke-width="1.35"/>
<line x1="552.91" y1="1226.91" x2="556.63" y2="1230.77" stroke="#000" stroke-width="1.35"/>
<line x1="552.17" y1="1227.62" x2="555.87" y2="1231.5" stroke="#000" stroke-width="1.35"/>
<text transform="translate(598.27 1263.67) rotate(44.7)" font-size="13.85" text-anchor="start" dy="-0.03em" fill="#111">RB41</text>
<path d="M562.28 1255.88 A266.9 266.9 0 0 1 558.74 1258.91 L553.73 1252.95 A259.12 259.12 0 0 0 557.17 1250.01Z" fill="#5b9a2a"/>
<path d="M554.98 1247.5 A255.78 255.78 0 0 1 553.79 1248.52 L547.59 1241.32 A246.28 246.28 0 0 0 548.74 1240.33Z" fill="#fb0d14"/>
<path d="M553.79 1248.52 A255.78 255.78 0 0 1 552.67 1249.48 L546.51 1242.24 A246.28 246.28 0 0 0 547.59 1241.32Z" fill="#067c33"/>
<path d="M552.67 1249.48 A255.78 255.78 0 0 1 551.59 1250.4 L545.47 1243.12 A246.28 246.28 0 0 0 546.51 1242.24Z" fill="#0443a0"/>
<line x1="544.09" y1="1234.99" x2="547.61" y2="1239.03" stroke="#000" stroke-width="1.35"/>
<line x1="543.36" y1="1235.62" x2="546.87" y2="1239.68" stroke="#000" stroke-width="1.35"/>
<line x1="542.64" y1="1236.25" x2="546.12" y2="1240.32" stroke="#000" stroke-width="1.35"/>
<line x1="541.9" y1="1236.87" x2="545.37" y2="1240.95" stroke="#000" stroke-width="1.35"/>
<line x1="541.17" y1="1237.49" x2="544.63" y2="1241.59" stroke="#000" stroke-width="1.35"/>
<line x1="540.44" y1="1238.11" x2="543.87" y2="1242.22" stroke="#000" stroke-width="1.35"/>
<line x1="539.7" y1="1238.72" x2="543.12" y2="1242.85" stroke="#000" stroke-width="1.35"/>
<line x1="538.96" y1="1239.33" x2="542.36" y2="1243.47" stroke="#000" stroke-width="1.35"/>
<line x1="538.22" y1="1239.94" x2="541.6" y2="1244.09" stroke="#000" stroke-width="1.35"/>
<line x1="537.47" y1="1240.55" x2="540.84" y2="1244.71" stroke="#000" stroke-width="1.35"/>
<text transform="translate(580.24 1280.45) rotate(49.45)" font-size="13.85" text-anchor="start" dy="-0.03em" fill="#111">norank_f__JG30-KF-CM45</text>
<path d="M544.6 1270.01 A266.9 266.9 0 0 1 541.19 1272.46 L536.7 1266.1 A259.12 259.12 0 0 0 540 1263.73Z" fill="#a6c1dd"/>
<path d="M538.03 1261.03 A255.78 255.78 0 0 1 536.6 1262.07 L531.04 1254.37 A246.28 246.28 0 0 0 532.42 1253.36Z" fill="#067c33"/>
<path d="M536.6 1262.07 A255.78 255.78 0 0 1 535.55 1262.83 L530.03 1255.09 A246.28 246.28 0 0 0 531.04 1254.37Z" fill="#fb0d14"/>
<path d="M535.55 1262.83 A255.78 255.78 0 0 1 534.77 1263.38 L529.28 1255.62 A246.28 246.28 0 0 0 530.03 1255.09Z" fill="#0443a0"/>
<line x1="528.24" y1="1247.65" x2="531.4" y2="1251.98" stroke="#000" stroke-width="1.35"/>
<line x1="527.5" y1="1248.19" x2="530.65" y2="1252.53" stroke="#000" stroke-width="1.35"/>
<line x1="526.75" y1="1248.73" x2="529.88" y2="1253.08" stroke="#000" stroke-width="1.35"/>
<line x1="526.01" y1="1249.27" x2="529.12" y2="1253.63" stroke="#000" stroke-width="1.35"/>
<line x1="525.26" y1="1249.8" x2="528.36" y2="1254.17" stroke="#000" stroke-width="1.35"/>
<line x1="524.51" y1="1250.33" x2="527.59" y2="1254.71" stroke="#000" stroke-width="1.35"/>
<line x1="523.76" y1="1250.85" x2="526.82" y2="1255.25" stroke="#000" stroke-width="1.35"/>
<line x1="523" y1="1251.38" x2="526.05" y2="1255.79" stroke="#000" stroke-width="1.35"/>
<line x1="522.24" y1="1251.9" x2="525.27" y2="1256.32" stroke="#000" stroke-width="1.35"/>
<line x1="521.49" y1="1252.42" x2="524.5" y2="1256.85" stroke="#000" stroke-width="1.35"/>
<text transform="translate(560.62 1295.86) rotate(54.26)" font-size="13.85" text-anchor="start" dy="-0.03em" fill="#111">Bradyrhizobium</text>
<path d="M525.64 1282.67 A266.9 266.9 0 0 1 522.24 1284.7 L518.3 1277.99 A259.12 259.12 0 0 0 521.6 1276.02Z" fill="#fdf0e6"/>
<path d="M519.87 1273.17 A255.78 255.78 0 0 1 518.32 1274.1 L513.44 1265.94 A246.28 246.28 0 0 0 514.93 1265.05Z" fill="#0443a0"/>
<path d="M518.32 1274.1 A255.78 255.78 0 0 1 517.33 1274.69 L512.48 1266.51 A246.28 246.28 0 0 0 513.44 1265.94Z" fill="#fb0d14"/>
<path d="M517.33 1274.69 A255.78 255.78 0 0 1 516.61 1275.11 L511.79 1266.92 A246.28 246.28 0 0 0 512.48 1266.51Z" fill="#067c33"/>
<line x1="511.25" y1="1259" x2="514.04" y2="1263.58" stroke="#000" stroke-width="1.35"/>
<line x1="510.48" y1="1259.46" x2="513.25" y2="1264.05" stroke="#000" stroke-width="1.35"/>
<line x1="509.71" y1="1259.93" x2="512.46" y2="1264.53" stroke="#000" stroke-width="1.35"/>
<line x1="508.94" y1="1260.39" x2="511.68" y2="1265" stroke="#000" stroke-width="1.35"/>
<line x1="508.17" y1="1260.84" x2="510.88" y2="1265.46" stroke="#000" stroke-width="1.35"/>
<line x1="507.4" y1="1261.29" x2="510.09" y2="1265.92" stroke="#000" stroke-width="1.35"/>
<line x1="506.62" y1="1261.75" x2="509.3" y2="1266.39" stroke="#000" stroke-width="1.35"/>
<line x1="505.84" y1="1262.19" x2="508.5" y2="1266.84" stroke="#000" stroke-width="1.35"/>
<line x1="505.06" y1="1262.64" x2="507.71" y2="1267.3" stroke="#000" stroke-width="1.35"/>
<line x1="504.28" y1="1263.08" x2="506.91" y2="1267.75" stroke="#000" stroke-width="1.35"/>
<text transform="translate(539.51 1309.73) rotate(59.13)" font-size="13.85" text-anchor="start" dy="-0.03em" fill="#111">Chryseobacterium</text>
<path d="M506.72 1293.15 A266.9 266.9 0 0 1 503.37 1294.8 L499.98 1287.79 A259.12 259.12 0 0 0 503.23 1286.19Z" fill="#4a8fd0"/>
<path d="M501.73 1283.21 A255.78 255.78 0 0 1 500.29 1283.92 L496.09 1275.4 A246.28 246.28 0 0 0 497.47 1274.72Z" fill="#fb0d14"/>
<path d="M500.29 1283.92 A255.78 255.78 0 0 1 499.26 1284.43 L495.09 1275.89 A246.28 246.28 0 0 0 496.09 1275.4Z" fill="#067c33"/>
<path d="M499.26 1284.43 A255.78 255.78 0 0 1 498.53 1284.79 L494.38 1276.24 A246.28 246.28 0 0 0 495.09 1275.89Z" fill="#0443a0"/>
<line x1="494.29" y1="1268.39" x2="496.7" y2="1273.18" stroke="#000" stroke-width="1.35"/>
<line x1="493.51" y1="1268.78" x2="495.89" y2="1273.58" stroke="#000" stroke-width="1.35"/>
<line x1="492.72" y1="1269.17" x2="495.09" y2="1273.98" stroke="#000" stroke-width="1.35"/>
<line x1="491.93" y1="1269.56" x2="494.29" y2="1274.37" stroke="#000" stroke-width="1.35"/>
<line x1="491.15" y1="1269.94" x2="493.48" y2="1274.76" stroke="#000" stroke-width="1.35"/>
<line x1="490.36" y1="1270.32" x2="492.67" y2="1275.15" stroke="#000" stroke-width="1.35"/>
<line x1="489.56" y1="1270.7" x2="491.86" y2="1275.54" stroke="#000" stroke-width="1.35"/>
<line x1="488.77" y1="1271.07" x2="491.05" y2="1275.92" stroke="#000" stroke-width="1.35"/>
<line x1="487.98" y1="1271.44" x2="490.24" y2="1276.3" stroke="#000" stroke-width="1.35"/>
<line x1="487.18" y1="1271.81" x2="489.43" y2="1276.68" stroke="#000" stroke-width="1.35"/>
<text transform="translate(518.46 1321.18) rotate(63.75)" font-size="13.85" text-anchor="start" dy="-0.03em" fill="#111">Ramlibacter</text>
<path d="M487.37 1301.91 A266.9 266.9 0 0 1 484.34 1303.12 L481.5 1295.87 A259.12 259.12 0 0 0 484.45 1294.7Z" fill="#e0595f"/>
<path d="M483.19 1291.61 A255.78 255.78 0 0 1 482.11 1292.04 L478.58 1283.22 A246.28 246.28 0 0 0 479.62 1282.8Z" fill="#fb0d14"/>
<path d="M482.11 1292.04 A255.78 255.78 0 0 1 481.11 1292.44 L477.61 1283.6 A246.28 246.28 0 0 0 478.58 1283.22Z" fill="#0443a0"/>
<path d="M481.11 1292.44 A255.78 255.78 0 0 1 480.29 1292.76 L476.82 1283.92 A246.28 246.28 0 0 0 477.61 1283.6Z" fill="#067c33"/>
<line x1="476.96" y1="1276.24" x2="478.97" y2="1281.21" stroke="#000" stroke-width="1.35"/>
<line x1="476.18" y1="1276.56" x2="478.18" y2="1281.53" stroke="#000" stroke-width="1.35"/>
<line x1="475.41" y1="1276.87" x2="477.39" y2="1281.85" stroke="#000" stroke-width="1.35"/>
<line x1="474.63" y1="1277.17" x2="476.59" y2="1282.16" stroke="#000" stroke-width="1.35"/>
<line x1="473.85" y1="1277.48" x2="475.8" y2="1282.47" stroke="#000" stroke-width="1.35"/>
<line x1="473.07" y1="1277.78" x2="475" y2="1282.78" stroke="#000" stroke-width="1.35"/>
<line x1="472.29" y1="1278.08" x2="474.2" y2="1283.09" stroke="#000" stroke-width="1.35"/>
<line x1="471.51" y1="1278.38" x2="473.41" y2="1283.39" stroke="#000" stroke-width="1.35"/>
<line x1="470.73" y1="1278.67" x2="472.61" y2="1283.69" stroke="#000" stroke-width="1.35"/>
<line x1="469.95" y1="1278.96" x2="471.81" y2="1283.99" stroke="#000" stroke-width="1.35"/>
<text transform="translate(497.09 1330.69) rotate(68.26)" font-size="13.85" text-anchor="start" dy="-0.03em" fill="#111">norank_o__Saccharimonadales</text>
<path d="M467.97 1308.93 A266.9 266.9 0 0 1 465.3 1309.76 L463.02 1302.32 A259.12 259.12 0 0 0 465.61 1301.51Z" fill="#a758a8"/>
<path d="M464.6 1298.33 A255.78 255.78 0 0 1 463.02 1298.83 L460.19 1289.75 A246.28 246.28 0 0 0 461.71 1289.27Z" fill="#fb0d14"/>
<path d="M463.02 1298.83 A255.78 255.78 0 0 1 462.53 1298.98 L459.72 1289.9 A246.28 246.28 0 0 0 460.19 1289.75Z" fill="#0443a0"/>
<path d="M462.53 1298.98 A255.78 255.78 0 0 1 462.04 1299.13 L459.25 1290.04 A246.28 246.28 0 0 0 459.72 1289.9Z" fill="#067c33"/>
<line x1="459.57" y1="1282.53" x2="461.19" y2="1287.64" stroke="#000" stroke-width="1.35"/>
<line x1="458.81" y1="1282.77" x2="460.42" y2="1287.88" stroke="#000" stroke-width="1.35"/>
<line x1="458.05" y1="1283.01" x2="459.64" y2="1288.12" stroke="#000" stroke-width="1.35"/>
<line x1="457.3" y1="1283.24" x2="458.87" y2="1288.36" stroke="#000" stroke-width="1.35"/>
<line x1="456.54" y1="1283.47" x2="458.09" y2="1288.6" stroke="#000" stroke-width="1.35"/>
<line x1="455.78" y1="1283.7" x2="457.32" y2="1288.83" stroke="#000" stroke-width="1.35"/>
<line x1="455.02" y1="1283.93" x2="456.54" y2="1289.07" stroke="#000" stroke-width="1.35"/>
<line x1="454.26" y1="1284.15" x2="455.76" y2="1289.29" stroke="#000" stroke-width="1.35"/>
<line x1="453.49" y1="1284.37" x2="454.98" y2="1289.52" stroke="#000" stroke-width="1.35"/>
<line x1="452.73" y1="1284.59" x2="454.2" y2="1289.75" stroke="#000" stroke-width="1.35"/>
<text transform="translate(475.69 1338.29) rotate(72.64)" font-size="13.85" text-anchor="start" dy="-0.03em" fill="#111">norank_f__Gemmatimonadaceae</text>
<path d="M447.81 1314.48 A266.9 266.9 0 0 1 445.54 1315 L443.83 1307.41 A259.12 259.12 0 0 0 446.04 1306.9Z" fill="#11a674"/>
<path d="M445.28 1303.66 A255.78 255.78 0 0 1 444.27 1303.89 L442.14 1294.63 A246.28 246.28 0 0 0 443.11 1294.4Z" fill="#067c33"/>
<path d="M444.27 1303.89 A255.78 255.78 0 0 1 443.45 1304.08 L441.35 1294.81 A246.28 246.28 0 0 0 442.14 1294.63Z" fill="#fb0d14"/>
<path d="M443.45 1304.08 A255.78 255.78 0 0 1 443.1 1304.15 L441.02 1294.88 A246.28 246.28 0 0 0 441.35 1294.81Z" fill="#0443a0"/>
<line x1="441.5" y1="1287.51" x2="442.72" y2="1292.73" stroke="#000" stroke-width="1.35"/>
<line x1="440.77" y1="1287.68" x2="441.97" y2="1292.9" stroke="#000" stroke-width="1.35"/>
<line x1="440.04" y1="1287.85" x2="441.22" y2="1293.07" stroke="#000" stroke-width="1.35"/>
<line x1="439.3" y1="1288.01" x2="440.47" y2="1293.24" stroke="#000" stroke-width="1.35"/>
<line x1="438.57" y1="1288.18" x2="439.72" y2="1293.41" stroke="#000" stroke-width="1.35"/>
<line x1="437.84" y1="1288.34" x2="438.97" y2="1293.57" stroke="#000" stroke-width="1.35"/>
<line x1="437.1" y1="1288.5" x2="438.22" y2="1293.74" stroke="#000" stroke-width="1.35"/>
<line x1="436.37" y1="1288.65" x2="437.47" y2="1293.9" stroke="#000" stroke-width="1.35"/>
<line x1="435.63" y1="1288.81" x2="436.72" y2="1294.05" stroke="#000" stroke-width="1.35"/>
<line x1="434.89" y1="1288.96" x2="435.97" y2="1294.21" stroke="#000" stroke-width="1.35"/>
<text transform="translate(453.46 1344.31) rotate(77.08)" font-size="13.85" text-anchor="start" dy="-0.03em" fill="#111">Microvirga</text>
<path d="M427.35 1318.44 A266.9 266.9 0 0 1 425.28 1318.75 L424.16 1311.04 A259.12 259.12 0 0 0 426.17 1310.74Z" fill="#6a5fb5"/>
<path d="M425.67 1307.44 A255.78 255.78 0 0 1 424.83 1307.57 L423.42 1298.17 A246.28 246.28 0 0 0 424.23 1298.05Z" fill="#067c33"/>
<path d="M424.83 1307.57 A255.78 255.78 0 0 1 424.05 1307.69 L422.67 1298.28 A246.28 246.28 0 0 0 423.42 1298.17Z" fill="#fb0d14"/>
<path d="M424.05 1307.69 A255.78 255.78 0 0 1 423.68 1307.74 L422.32 1298.33 A246.28 246.28 0 0 0 422.67 1298.28Z" fill="#0443a0"/>
<line x1="423.16" y1="1291.05" x2="423.97" y2="1296.35" stroke="#000" stroke-width="1.35"/>
<line x1="422.44" y1="1291.16" x2="423.23" y2="1296.46" stroke="#000" stroke-width="1.35"/>
<line x1="421.72" y1="1291.27" x2="422.49" y2="1296.57" stroke="#000" stroke-width="1.35"/>
<line x1="420.99" y1="1291.37" x2="421.75" y2="1296.68" stroke="#000" stroke-width="1.35"/>
<line x1="420.27" y1="1291.48" x2="421.02" y2="1296.78" stroke="#000" stroke-width="1.35"/>
<line x1="419.55" y1="1291.58" x2="420.28" y2="1296.89" stroke="#000" stroke-width="1.35"/>
<line x1="418.82" y1="1291.68" x2="419.54" y2="1296.99" stroke="#000" stroke-width="1.35"/>
<line x1="418.1" y1="1291.77" x2="418.79" y2="1297.09" stroke="#000" stroke-width="1.35"/>
<line x1="417.37" y1="1291.87" x2="418.05" y2="1297.18" stroke="#000" stroke-width="1.35"/>
<line x1="416.65" y1="1291.96" x2="417.31" y2="1297.28" stroke="#000" stroke-width="1.35"/>
<text transform="translate(430.78 1348.59) rotate(81.53)" font-size="13.85" text-anchor="start" dy="-0.03em" fill="#111">Allorhizobium-Neorhizobium-Pararhizobium-Rhizobium</text>
<path d="M406.97 1320.76 A266.9 266.9 0 0 1 405.01 1320.9 L404.49 1313.13 A259.12 259.12 0 0 0 406.38 1312.99Z" fill="#02bcbe"/>
<path d="M406.13 1309.67 A255.78 255.78 0 0 1 405.28 1309.73 L404.6 1300.25 A246.28 246.28 0 0 0 405.42 1300.19Z" fill="#067c33"/>
<path d="M405.28 1309.73 A255.78 255.78 0 0 1 404.63 1309.77 L403.98 1300.29 A246.28 246.28 0 0 0 404.6 1300.25Z" fill="#fb0d14"/>
<path d="M404.63 1309.77 A255.78 255.78 0 0 1 404.26 1309.8 L403.62 1300.32 A246.28 246.28 0 0 0 403.98 1300.29Z" fill="#0443a0"/>
<line x1="404.89" y1="1293.13" x2="405.29" y2="1298.48" stroke="#000" stroke-width="1.35"/>
<line x1="404.18" y1="1293.19" x2="404.56" y2="1298.53" stroke="#000" stroke-width="1.35"/>
<line x1="403.46" y1="1293.24" x2="403.83" y2="1298.58" stroke="#000" stroke-width="1.35"/>
<line x1="402.74" y1="1293.28" x2="403.1" y2="1298.63" stroke="#000" stroke-width="1.35"/>
<line x1="402.03" y1="1293.33" x2="402.36" y2="1298.68" stroke="#000" stroke-width="1.35"/>
<line x1="401.31" y1="1293.37" x2="401.63" y2="1298.72" stroke="#000" stroke-width="1.35"/>
<line x1="400.59" y1="1293.42" x2="400.9" y2="1298.77" stroke="#000" stroke-width="1.35"/>
<line x1="399.88" y1="1293.46" x2="400.17" y2="1298.81" stroke="#000" stroke-width="1.35"/>
<line x1="399.16" y1="1293.49" x2="399.43" y2="1298.84" stroke="#000" stroke-width="1.35"/>
<line x1="398.44" y1="1293.53" x2="398.7" y2="1298.88" stroke="#000" stroke-width="1.35"/>
<text transform="translate(408.15 1351.08) rotate(85.92)" font-size="13.85" text-anchor="start" dy="-0.03em" fill="#111">norank_f__67-14</text>
<path d="M387 1321.5 A266.9 266.9 0 0 1 385.14 1321.5 L385.19 1313.71 A259.12 259.12 0 0 0 387 1313.72Z" fill="#027f80"/>
<path d="M387 1310.38 A255.78 255.78 0 0 1 385.97 1310.38 L386.01 1300.88 A246.28 246.28 0 0 0 387 1300.88Z" fill="#067c33"/>
<path d="M385.97 1310.38 A255.78 255.78 0 0 1 385.48 1310.38 L385.54 1300.88 A246.28 246.28 0 0 0 386.01 1300.88Z" fill="#0443a0"/>
<path d="M385.48 1310.38 A255.78 255.78 0 0 1 385.21 1310.38 L385.28 1300.87 A246.28 246.28 0 0 0 385.54 1300.88Z" fill="#fb0d14"/>
<line x1="387" y1="1293.8" x2="387" y2="1299.16" stroke="#000" stroke-width="1.35"/>
<line x1="386.3" y1="1289.15" x2="386.29" y2="1294.51" stroke="#000" stroke-width="1.35"/>
<line x1="385.61" y1="1289.15" x2="385.58" y2="1294.51" stroke="#000" stroke-width="1.35"/>
<line x1="384.91" y1="1289.14" x2="384.86" y2="1294.5" stroke="#000" stroke-width="1.35"/>
<line x1="384.22" y1="1289.14" x2="384.15" y2="1294.49" stroke="#000" stroke-width="1.35"/>
<line x1="383.52" y1="1289.13" x2="383.44" y2="1294.48" stroke="#000" stroke-width="1.35"/>
<line x1="382.82" y1="1289.11" x2="382.73" y2="1294.47" stroke="#000" stroke-width="1.35"/>
<line x1="382.13" y1="1289.1" x2="382.02" y2="1294.46" stroke="#000" stroke-width="1.35"/>
<line x1="381.43" y1="1289.09" x2="381.31" y2="1294.44" stroke="#000" stroke-width="1.35"/>
<line x1="380.74" y1="1289.07" x2="380.59" y2="1294.42" stroke="#000" stroke-width="1.35"/>
<text transform="translate(385.96 1351.83) rotate(90.2)" font-size="13.85" text-anchor="start" dy="-0.03em" fill="#111">norank_o__IMCC26256</text>
<path d="M366.71 1320.73 A266.9 266.9 0 0 1 364.94 1320.59 L365.59 1312.83 A259.12 259.12 0 0 0 367.3 1312.97Z" fill="#f9a45c"/>
<path d="M367.55 1309.64 A255.78 255.78 0 0 1 366.81 1309.58 L367.56 1300.11 A246.28 246.28 0 0 0 368.28 1300.17Z" fill="#fb0d14"/>
<path d="M366.81 1309.58 A255.78 255.78 0 0 1 366.24 1309.54 L367.01 1300.07 A246.28 246.28 0 0 0 367.56 1300.11Z" fill="#067c33"/>
<path d="M366.24 1309.54 A255.78 255.78 0 0 1 365.86 1309.51 L366.65 1300.04 A246.28 246.28 0 0 0 367.01 1300.07Z" fill="#0443a0"/>
<line x1="369.17" y1="1288.47" x2="368.76" y2="1293.82" stroke="#000" stroke-width="1.35"/>
<line x1="368.48" y1="1288.42" x2="368.06" y2="1293.76" stroke="#000" stroke-width="1.35"/>
<line x1="367.8" y1="1288.36" x2="367.36" y2="1293.7" stroke="#000" stroke-width="1.35"/>
<line x1="367.11" y1="1288.31" x2="366.66" y2="1293.65" stroke="#000" stroke-width="1.35"/>
<line x1="366.43" y1="1288.25" x2="365.96" y2="1293.59" stroke="#000" stroke-width="1.35"/>
<line x1="365.74" y1="1288.19" x2="365.26" y2="1293.52" stroke="#000" stroke-width="1.35"/>
<line x1="365.06" y1="1288.12" x2="364.56" y2="1293.46" stroke="#000" stroke-width="1.35"/>
<line x1="364.37" y1="1288.06" x2="363.86" y2="1293.39" stroke="#000" stroke-width="1.35"/>
<line x1="363.69" y1="1287.99" x2="363.16" y2="1293.32" stroke="#000" stroke-width="1.35"/>
<line x1="363" y1="1287.92" x2="362.46" y2="1293.25" stroke="#000" stroke-width="1.35"/>
<text transform="translate(363.42 1350.9) rotate(94.55)" font-size="13.85" text-anchor="start" dy="-0.03em" fill="#111">norank_f__Xanthobacteraceae</text>
<path d="M347.43 1318.56 A266.9 266.9 0 0 1 345.82 1318.31 L347.02 1310.62 A259.12 259.12 0 0 0 348.59 1310.86Z" fill="#5b9a2a"/>
<path d="M349.08 1307.56 A255.78 255.78 0 0 1 348.39 1307.45 L349.82 1298.06 A246.28 246.28 0 0 0 350.49 1298.16Z" fill="#fb0d14"/>
<path d="M348.39 1307.45 A255.78 255.78 0 0 1 347.83 1307.37 L349.29 1297.98 A246.28 246.28 0 0 0 349.82 1298.06Z" fill="#067c33"/>
<path d="M347.83 1307.37 A255.78 255.78 0 0 1 347.54 1307.32 L349 1297.93 A246.28 246.28 0 0 0 349.29 1297.98Z" fill="#0443a0"/>
<line x1="352.23" y1="1286.56" x2="351.44" y2="1291.86" stroke="#000" stroke-width="1.35"/>
<line x1="351.56" y1="1286.46" x2="350.75" y2="1291.76" stroke="#000" stroke-width="1.35"/>
<line x1="350.89" y1="1286.36" x2="350.07" y2="1291.65" stroke="#000" stroke-width="1.35"/>
<line x1="350.23" y1="1286.25" x2="349.39" y2="1291.54" stroke="#000" stroke-width="1.35"/>
<line x1="349.56" y1="1286.14" x2="348.7" y2="1291.43" stroke="#000" stroke-width="1.35"/>
<line x1="348.89" y1="1286.04" x2="348.02" y2="1291.32" stroke="#000" stroke-width="1.35"/>
<line x1="348.23" y1="1285.93" x2="347.34" y2="1291.21" stroke="#000" stroke-width="1.35"/>
<line x1="347.56" y1="1285.81" x2="346.66" y2="1291.09" stroke="#000" stroke-width="1.35"/>
<line x1="346.9" y1="1285.7" x2="345.98" y2="1290.98" stroke="#000" stroke-width="1.35"/>
<line x1="346.23" y1="1285.58" x2="345.3" y2="1290.86" stroke="#000" stroke-width="1.35"/>
<text transform="translate(342.04 1348.41) rotate(98.7)" font-size="13.85" text-anchor="start" dy="-0.03em" fill="#111">norank_f__A4b</text>
<path d="M328.09 1314.92 A266.9 266.9 0 0 1 326.73 1314.61 L328.49 1307.03 A259.12 259.12 0 0 0 329.81 1307.33Z" fill="#a6c1dd"/>
<path d="M330.55 1304.08 A255.78 255.78 0 0 1 329.81 1303.91 L331.93 1294.64 A246.28 246.28 0 0 0 332.65 1294.81Z" fill="#fb0d14"/>
<path d="M329.81 1303.91 A255.78 255.78 0 0 1 329.5 1303.84 L331.63 1294.58 A246.28 246.28 0 0 0 331.93 1294.64Z" fill="#067c33"/>
<path d="M329.5 1303.84 A255.78 255.78 0 0 1 329.24 1303.78 L331.39 1294.52 A246.28 246.28 0 0 0 331.63 1294.58Z" fill="#0443a0"/>
<line x1="335.23" y1="1283.37" x2="334.05" y2="1288.59" stroke="#000" stroke-width="1.35"/>
<line x1="334.6" y1="1283.22" x2="333.4" y2="1288.45" stroke="#000" stroke-width="1.35"/>
<line x1="333.96" y1="1283.08" x2="332.75" y2="1288.3" stroke="#000" stroke-width="1.35"/>
<line x1="333.32" y1="1282.93" x2="332.09" y2="1288.14" stroke="#000" stroke-width="1.35"/>
<line x1="332.68" y1="1282.78" x2="331.44" y2="1287.99" stroke="#000" stroke-width="1.35"/>
<line x1="332.05" y1="1282.62" x2="330.79" y2="1287.83" stroke="#000" stroke-width="1.35"/>
<line x1="331.41" y1="1282.47" x2="330.14" y2="1287.67" stroke="#000" stroke-width="1.35"/>
<line x1="330.77" y1="1282.31" x2="329.49" y2="1287.52" stroke="#000" stroke-width="1.35"/>
<line x1="330.14" y1="1282.16" x2="328.84" y2="1287.35" stroke="#000" stroke-width="1.35"/>
<line x1="329.5" y1="1282" x2="328.19" y2="1287.19" stroke="#000" stroke-width="1.35"/>
<text transform="translate(320.64 1344.33) rotate(102.9)" font-size="13.85" text-anchor="start" dy="-0.03em" fill="#111">Mycobacterium</text>
<path d="M309.52 1310.01 A266.9 266.9 0 0 1 308.41 1309.67 L310.7 1302.23 A259.12 259.12 0 0 0 311.78 1302.56Z" fill="#fdf0e6"/>
<path d="M312.75 1299.37 A255.78 255.78 0 0 1 312.15 1299.19 L314.93 1290.1 A246.28 246.28 0 0 0 315.51 1290.27Z" fill="#067c33"/>
<path d="M312.15 1299.19 A255.78 255.78 0 0 1 311.91 1299.11 L314.7 1290.03 A246.28 246.28 0 0 0 314.93 1290.1Z" fill="#0443a0"/>
<path d="M311.91 1299.11 A255.78 255.78 0 0 1 311.68 1299.04 L314.48 1289.96 A246.28 246.28 0 0 0 314.7 1290.03Z" fill="#fb0d14"/>
<line x1="318.91" y1="1279.05" x2="317.36" y2="1284.18" stroke="#000" stroke-width="1.35"/>
<line x1="318.31" y1="1278.87" x2="316.74" y2="1283.99" stroke="#000" stroke-width="1.35"/>
<line x1="317.7" y1="1278.68" x2="316.12" y2="1283.8" stroke="#000" stroke-width="1.35"/>
<line x1="317.09" y1="1278.49" x2="315.5" y2="1283.61" stroke="#000" stroke-width="1.35"/>
<line x1="316.49" y1="1278.3" x2="314.88" y2="1283.41" stroke="#000" stroke-width="1.35"/>
<line x1="315.88" y1="1278.11" x2="314.26" y2="1283.22" stroke="#000" stroke-width="1.35"/>
<line x1="315.28" y1="1277.92" x2="313.64" y2="1283.02" stroke="#000" stroke-width="1.35"/>
<line x1="314.68" y1="1277.72" x2="313.02" y2="1282.82" stroke="#000" stroke-width="1.35"/>
<line x1="314.07" y1="1277.53" x2="312.41" y2="1282.62" stroke="#000" stroke-width="1.35"/>
<line x1="313.47" y1="1277.33" x2="311.79" y2="1282.42" stroke="#000" stroke-width="1.35"/>
<text transform="translate(300.1 1338.85) rotate(107)" font-size="13.85" text-anchor="start" dy="-0.03em" fill="#111">norank_c__TK10</text>
<path d="M290.09 1303.29 A266.9 266.9 0 0 1 289.14 1302.92 L291.99 1295.67 A259.12 259.12 0 0 0 292.92 1296.04Z" fill="#4a8fd0"/>
<path d="M294.13 1292.93 A255.78 255.78 0 0 1 293.68 1292.75 L297.15 1283.9 A246.28 246.28 0 0 0 297.58 1284.07Z" fill="#0443a0"/>
<path d="M293.68 1292.75 A255.78 255.78 0 0 1 293.39 1292.64 L296.87 1283.8 A246.28 246.28 0 0 0 297.15 1283.9Z" fill="#067c33"/>
<path d="M293.39 1292.64 A255.78 255.78 0 0 1 293.21 1292.57 L296.7 1283.73 A246.28 246.28 0 0 0 296.87 1283.8Z" fill="#fb0d14"/>
<line x1="301.84" y1="1273.14" x2="299.89" y2="1278.14" stroke="#000" stroke-width="1.35"/>
<line x1="301.26" y1="1272.92" x2="299.3" y2="1277.91" stroke="#000" stroke-width="1.35"/>
<line x1="300.68" y1="1272.69" x2="298.71" y2="1277.67" stroke="#000" stroke-width="1.35"/>
<line x1="300.1" y1="1272.46" x2="298.12" y2="1277.44" stroke="#000" stroke-width="1.35"/>
<line x1="299.52" y1="1272.23" x2="297.52" y2="1277.2" stroke="#000" stroke-width="1.35"/>
<line x1="298.95" y1="1272" x2="296.93" y2="1276.96" stroke="#000" stroke-width="1.35"/>
<line x1="298.37" y1="1271.76" x2="296.34" y2="1276.72" stroke="#000" stroke-width="1.35"/>
<line x1="297.79" y1="1271.53" x2="295.76" y2="1276.48" stroke="#000" stroke-width="1.35"/>
<line x1="297.22" y1="1271.29" x2="295.17" y2="1276.24" stroke="#000" stroke-width="1.35"/>
<line x1="296.64" y1="1271.05" x2="294.58" y2="1275.99" stroke="#000" stroke-width="1.35"/>
<text transform="translate(278.55 1331.34) rotate(111.4)" font-size="13.85" text-anchor="start" dy="-0.03em" fill="#111">Nocardioides</text>
<path d="M272.68 1295.78 A266.9 266.9 0 0 1 271.93 1295.42 L275.28 1288.4 A259.12 259.12 0 0 0 276.02 1288.75Z" fill="#e0595f"/>
<path d="M277.45 1285.73 A255.78 255.78 0 0 1 277.15 1285.59 L281.23 1277.01 A246.28 246.28 0 0 0 281.52 1277.15Z" fill="#067c33"/>
<path d="M277.15 1285.59 A255.78 255.78 0 0 1 276.9 1285.47 L280.99 1276.89 A246.28 246.28 0 0 0 281.23 1277.01Z" fill="#fb0d14"/>
<path d="M276.9 1285.47 A255.78 255.78 0 0 1 276.72 1285.39 L280.82 1276.81 A246.28 246.28 0 0 0 280.99 1276.89Z" fill="#0443a0"/>
<line x1="286.54" y1="1266.55" x2="284.25" y2="1271.39" stroke="#000" stroke-width="1.35"/>
<line x1="285.99" y1="1266.29" x2="283.69" y2="1271.13" stroke="#000" stroke-width="1.35"/>
<line x1="285.45" y1="1266.03" x2="283.13" y2="1270.86" stroke="#000" stroke-width="1.35"/>
<line x1="284.9" y1="1265.76" x2="282.57" y2="1270.59" stroke="#000" stroke-width="1.35"/>
<line x1="284.36" y1="1265.5" x2="282.01" y2="1270.32" stroke="#000" stroke-width="1.35"/>
<line x1="283.81" y1="1265.23" x2="281.45" y2="1270.05" stroke="#000" stroke-width="1.35"/>
<line x1="283.27" y1="1264.97" x2="280.9" y2="1269.77" stroke="#000" stroke-width="1.35"/>
<line x1="282.72" y1="1264.7" x2="280.34" y2="1269.5" stroke="#000" stroke-width="1.35"/>
<line x1="282.18" y1="1264.43" x2="279.79" y2="1269.22" stroke="#000" stroke-width="1.35"/>
<line x1="281.64" y1="1264.16" x2="279.23" y2="1268.94" stroke="#000" stroke-width="1.35"/>
<text transform="translate(259.27 1322.99) rotate(115.45)" font-size="13.85" text-anchor="start" dy="-0.03em" fill="#111">Gaiella</text>
<path d="M256.08 1287.19 A266.9 266.9 0 0 1 255.47 1286.84 L259.31 1280.07 A259.12 259.12 0 0 0 259.9 1280.4Z" fill="#a758a8"/>
<path d="M261.53 1277.5 A255.78 255.78 0 0 1 261.31 1277.37 L265.98 1269.09 A246.28 246.28 0 0 0 266.19 1269.21Z" fill="#fb0d14"/>
<path d="M261.31 1277.37 A255.78 255.78 0 0 1 261.1 1277.25 L265.78 1268.98 A246.28 246.28 0 0 0 265.98 1269.09Z" fill="#0443a0"/>
<path d="M261.1 1277.25 A255.78 255.78 0 0 1 260.95 1277.17 L265.63 1268.9 A246.28 246.28 0 0 0 265.78 1268.98Z" fill="#067c33"/>
<line x1="271.95" y1="1259" x2="269.32" y2="1263.66" stroke="#000" stroke-width="1.35"/>
<line x1="271.43" y1="1258.7" x2="268.79" y2="1263.37" stroke="#000" stroke-width="1.35"/>
<line x1="270.91" y1="1258.41" x2="268.26" y2="1263.07" stroke="#000" stroke-width="1.35"/>
<line x1="270.4" y1="1258.12" x2="267.73" y2="1262.77" stroke="#000" stroke-width="1.35"/>
<line x1="269.88" y1="1257.82" x2="267.21" y2="1262.46" stroke="#000" stroke-width="1.35"/>
<line x1="269.37" y1="1257.52" x2="266.68" y2="1262.16" stroke="#000" stroke-width="1.35"/>
<line x1="268.86" y1="1257.22" x2="266.16" y2="1261.85" stroke="#000" stroke-width="1.35"/>
<line x1="268.34" y1="1256.93" x2="265.63" y2="1261.55" stroke="#000" stroke-width="1.35"/>
<line x1="267.83" y1="1256.62" x2="265.11" y2="1261.24" stroke="#000" stroke-width="1.35"/>
<line x1="267.32" y1="1256.32" x2="264.59" y2="1260.93" stroke="#000" stroke-width="1.35"/>
<text transform="translate(240.86 1313.43) rotate(119.45)" font-size="13.85" text-anchor="start" dy="-0.03em" fill="#111">Actinoplanes</text>
<path d="M240.31 1277.58 A266.9 266.9 0 0 1 239.84 1277.27 L244.13 1270.78 A259.12 259.12 0 0 0 244.59 1271.07Z" fill="#11a674"/>
<path d="M246.42 1268.29 A255.78 255.78 0 0 1 246.22 1268.15 L251.45 1260.22 A246.28 246.28 0 0 0 251.64 1260.35Z" fill="#fb0d14"/>
<path d="M246.22 1268.15 A255.78 255.78 0 0 1 246.08 1268.06 L251.32 1260.13 A246.28 246.28 0 0 0 251.45 1260.22Z" fill="#0443a0"/>
<path d="M246.08 1268.06 A255.78 255.78 0 0 1 245.97 1267.99 L251.21 1260.06 A246.28 246.28 0 0 0 251.32 1260.13Z" fill="#067c33"/>
<line x1="258.09" y1="1250.55" x2="255.14" y2="1255.03" stroke="#000" stroke-width="1.35"/>
<line x1="257.6" y1="1250.23" x2="254.65" y2="1254.7" stroke="#000" stroke-width="1.35"/>
<line x1="257.12" y1="1249.91" x2="254.15" y2="1254.37" stroke="#000" stroke-width="1.35"/>
<line x1="256.64" y1="1249.59" x2="253.66" y2="1254.04" stroke="#000" stroke-width="1.35"/>
<line x1="256.15" y1="1249.26" x2="253.16" y2="1253.71" stroke="#000" stroke-width="1.35"/>
<line x1="255.67" y1="1248.94" x2="252.67" y2="1253.38" stroke="#000" stroke-width="1.35"/>
<line x1="255.19" y1="1248.61" x2="252.18" y2="1253.04" stroke="#000" stroke-width="1.35"/>
<line x1="254.71" y1="1248.28" x2="251.69" y2="1252.71" stroke="#000" stroke-width="1.35"/>
<line x1="254.23" y1="1247.96" x2="251.2" y2="1252.37" stroke="#000" stroke-width="1.35"/>
<line x1="253.75" y1="1247.63" x2="250.71" y2="1252.04" stroke="#000" stroke-width="1.35"/>
<text transform="translate(223.38 1302.75) rotate(123.4)" font-size="13.85" text-anchor="start" dy="-0.03em" fill="#111">Pseudogulbenkiania</text>
<path d="M226.93 1268.18 A266.9 266.9 0 0 1 226.56 1267.9 L231.24 1261.68 A259.12 259.12 0 0 0 231.6 1261.95Z" fill="#6a5fb5"/>
<path d="M233.6 1259.28 A255.78 255.78 0 0 1 233.43 1259.15 L239.14 1251.55 A246.28 246.28 0 0 0 239.3 1251.67Z" fill="#fb0d14"/>
<path d="M233.43 1259.15 A255.78 255.78 0 0 1 233.3 1259.06 L239.01 1251.46 A246.28 246.28 0 0 0 239.14 1251.55Z" fill="#067c33"/>
<path d="M233.3 1259.06 A255.78 255.78 0 0 1 233.24 1259.01 L238.96 1251.42 A246.28 246.28 0 0 0 239.01 1251.46Z" fill="#0443a0"/>
<line x1="246.33" y1="1242.29" x2="243.12" y2="1246.58" stroke="#000" stroke-width="1.35"/>
<line x1="245.88" y1="1241.95" x2="242.65" y2="1246.23" stroke="#000" stroke-width="1.35"/>
<line x1="245.42" y1="1241.6" x2="242.18" y2="1245.87" stroke="#000" stroke-width="1.35"/>
<line x1="244.96" y1="1241.25" x2="241.72" y2="1245.52" stroke="#000" stroke-width="1.35"/>
<line x1="244.51" y1="1240.91" x2="241.25" y2="1245.16" stroke="#000" stroke-width="1.35"/>
<line x1="244.05" y1="1240.56" x2="240.79" y2="1244.81" stroke="#000" stroke-width="1.35"/>
<line x1="243.6" y1="1240.21" x2="240.32" y2="1244.45" stroke="#000" stroke-width="1.35"/>
<line x1="243.14" y1="1239.86" x2="239.86" y2="1244.09" stroke="#000" stroke-width="1.35"/>
<line x1="242.69" y1="1239.51" x2="239.4" y2="1243.73" stroke="#000" stroke-width="1.35"/>
<line x1="242.24" y1="1239.15" x2="238.93" y2="1243.37" stroke="#000" stroke-width="1.35"/>
<text transform="translate(208.53 1292.29) rotate(126.9)" font-size="13.85" text-anchor="start" dy="-0.03em" fill="#111">norank_f__env.OPS_17</text>
</g>
<text transform="translate(41.8 37) scale(0.84 1)" font-family='"Liberation Serif", serif' font-size="23" fill="#4a4040">A</text>
<text transform="translate(42.4 807.3) scale(0.76 1)" font-family='"Liberation Serif", serif' font-size="23.3" fill="#4a4040">B</text>
</svg>
</body></html>
